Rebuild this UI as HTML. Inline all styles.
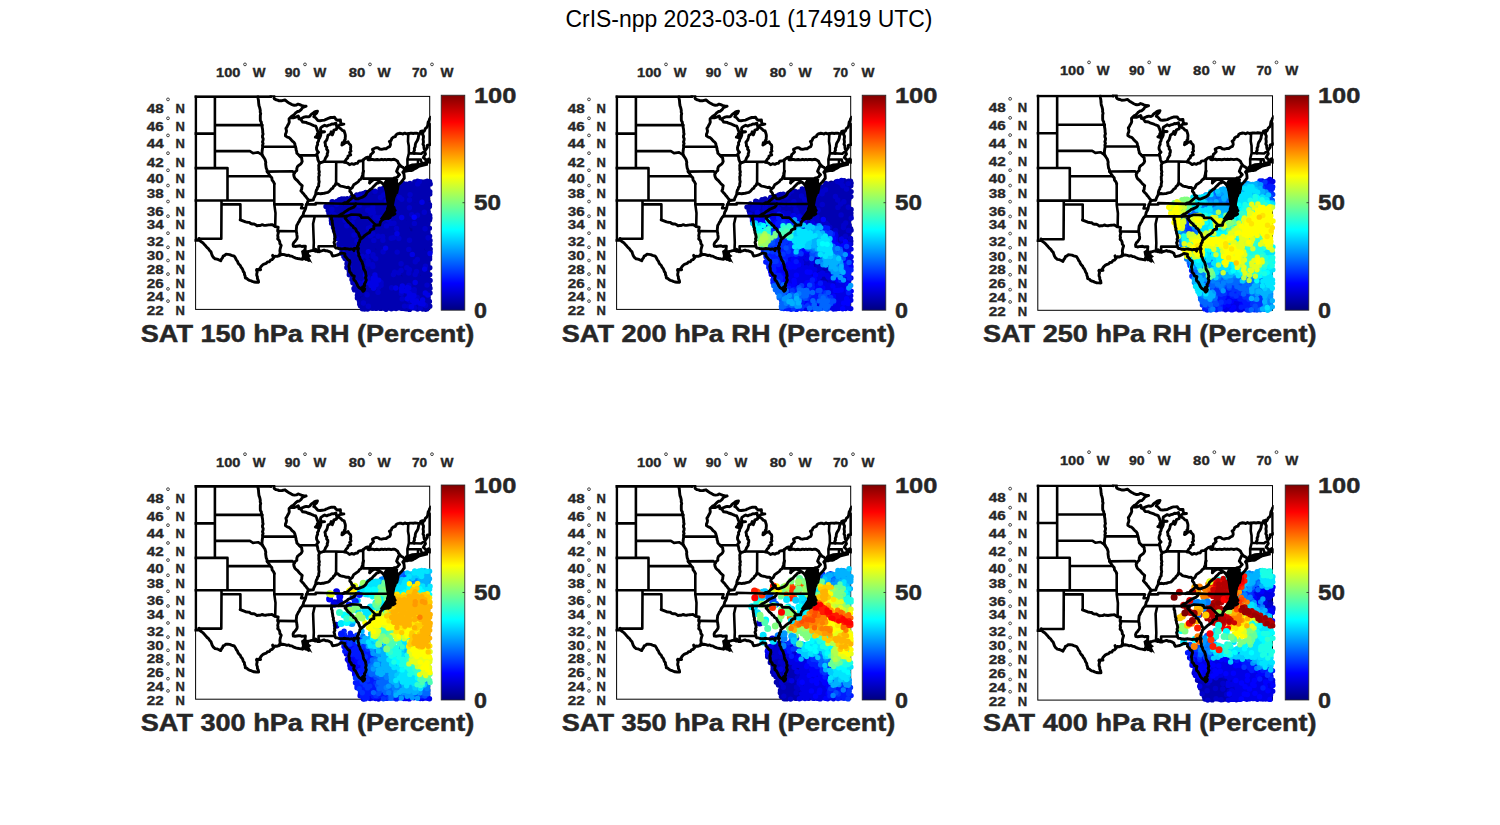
<!DOCTYPE html><html><head><meta charset="utf-8"><style>html,body{margin:0;padding:0;background:#fff;width:1500px;height:825px;overflow:hidden}</style></head><body><svg width="1500" height="825" viewBox="0 0 1500 825" style="position:absolute;left:0;top:0;font-family:'Liberation Sans',sans-serif"><defs><linearGradient id="jet" x1="0" y1="0" x2="0" y2="1"><stop offset="0.000" stop-color="#800000"/><stop offset="0.125" stop-color="#ff0000"/><stop offset="0.375" stop-color="#ffff00"/><stop offset="0.625" stop-color="#00ffff"/><stop offset="0.875" stop-color="#0000ff"/><stop offset="1.000" stop-color="#000080"/></linearGradient><clipPath id="fr"><rect x="195.1" y="95.9" width="237.1" height="214.5"/></clipPath><clipPath id="fm"><rect x="194.4" y="95.2" width="236.5" height="215.4"/></clipPath><g id="map" clip-path="url(#fm)" fill="none" stroke="#000" stroke-width="2.6" stroke-linejoin="round" stroke-linecap="round"><path d="M194.4 96.6L271.0 96.6M317.0 155.4L299.4 155.4M323.6 161.7L336.2 161.7L344.7 161.9M406.5 168.1L407.5 166.4L407.4 159.2M407.4 159.2L418.1 159.5L420.8 159.5M417.8 165.4L418.1 159.5M420.8 159.5L420.8 160.5L422.4 163.9M407.4 159.2L408.9 153.2M408.9 153.2L413.9 153.4L421.3 153.7L422.8 152.4L424.4 152.2M408.9 153.2L408.8 145.9L408.0 141.5L408.3 133.6M363.2 159.8L363.2 178.6M363.2 178.6L393.0 178.6L394.2 177.7L395.4 178.0M393.0 178.6L393.0 189.0L397.6 189.0M369.7 182.9L369.7 178.6M363.2 178.6L363.2 171.1M336.1 183.7L336.2 161.7M392.5 204.0L364.5 204.0L355.9 203.7L343.3 203.7L315.7 203.0L315.7 204.4L306.6 204.4M305.3 208.3L301.1 208.3L302.5 204.4L274.3 204.4M294.5 173.2L292.5 171.3L267.1 171.6M295.7 146.8L262.8 146.8M274.3 204.4L274.3 183.7M262.8 155.5L258.1 152.4L253.0 153.1L249.9 151.1L214.9 151.1M214.9 96.6L214.9 168.1M214.9 125.1L262.1 125.1M214.9 133.6L194.4 133.6M194.4 168.1L227.5 168.1M227.5 168.1L227.5 200.5M227.5 176.3L270.0 176.3M194.4 200.5L274.3 200.5M221.5 200.5L221.5 204.4L221.3 238.8M221.5 204.4L240.4 204.4L240.4 219.5M275.2 226.5L275.5 213.0L274.3 204.4M278.0 231.1L296.2 231.3M302.5 216.1L339.2 216.1M314.8 216.1L313.1 223.7L313.8 242.5L313.5 250.7M334.9 246.2L318.6 246.2L318.6 249.1L319.2 251.3M331.2 216.1L346.9 216.1M346.9 216.1L351.3 214.5L359.8 214.9L359.8 215.7L360.8 215.3L361.4 217.6L368.3 217.6L375.6 224.9M221.3 238.8L198.7 238.8L199.3 240.4L194.4 240.4M195.8 96.1L195.8 240.4M429.7 123.7L429.7 144.6"/><path stroke-width="2.9" d="M270.8 96.6L271.1 94.8L271.0 93.0L273.4 93.4L273.7 94.9L274.0 96.5L274.0 98.0L274.5 99.0L276.0 99.8L277.6 100.1L279.2 100.8L282.0 100.7L285.0 100.0L287.1 101.7L289.0 102.9L291.4 104.3L293.0 105.0L294.5 105.3L296.4 105.1L298.1 104.1L299.8 104.7L301.4 105.4L304.0 106.1L306.1 106.2M306.1 106.2L304.3 106.9L302.5 107.6L301.6 109.0L300.5 110.2L299.3 111.2L297.6 111.5L296.0 112.6L294.7 114.0L293.3 115.4L291.6 116.3L290.2 117.7M290.2 117.7L291.9 117.7L294.0 117.7L296.0 117.1L298.2 115.9L298.9 117.4L298.8 118.8L300.8 119.4M300.5 119.0L302.2 118.0L304.0 117.2L306.2 116.6L308.5 116.9L309.9 116.2L310.8 114.8L312.0 113.7L313.3 113.1L314.6 111.8L316.0 111.4L317.5 111.2L316.6 113.2L314.9 114.6L313.8 116.7L315.4 117.6L316.5 118.9L317.9 120.5L320.1 120.7L322.3 120.4L324.7 120.1L326.1 119.3L327.6 118.7L329.2 118.0L330.9 117.5L332.6 117.5L334.6 117.3L335.8 119.2L337.4 120.2L340.4 120.0L340.6 122.2L341.5 124.1L343.9 124.1L341.9 124.5L339.9 124.7L338.4 126.0L336.5 125.9L335.9 123.2L333.5 124.1L331.9 123.9L330.3 124.8L328.4 125.2L326.7 126.1L324.7 125.2L322.8 126.3L320.8 127.6L320.5 129.5L321.3 132.0L318.6 132.7M300.8 119.4L301.7 120.7L302.7 122.1L304.4 122.2L306.0 122.4L307.5 123.2L309.1 123.7L310.7 124.2L312.1 124.9L313.8 125.6L315.7 126.2L316.8 128.7L317.5 130.8L318.6 132.7M318.4 132.6L317.3 134.0L317.0 135.8L315.4 137.2L318.9 138.1L318.2 134.7L319.9 133.6L320.4 131.6L324.6 131.8L321.5 132.2L320.8 133.7L320.7 135.5L319.9 137.4L318.8 139.3L318.5 141.1L317.5 142.8L317.7 144.5L316.9 146.0L316.5 147.7L316.6 149.4L317.3 150.9L318.5 152.3L316.9 153.9L317.0 155.4M316.9 155.4L317.6 157.5L317.9 159.7L319.0 162.2L321.0 162.6L323.6 161.7M323.6 161.7L324.8 160.2L325.4 158.3L326.3 156.9L327.3 155.4L327.2 153.8L327.8 152.3L327.8 150.5L326.6 149.2L326.8 147.3L325.4 146.0L325.4 144.2L324.9 142.3L326.0 141.0L326.8 139.7L327.3 138.1L328.0 135.1L329.7 134.5L330.6 133.3L331.2 131.8L331.4 133.5L332.3 134.9L332.9 133.4L333.5 131.9L333.8 130.2L336.5 129.3L337.0 126.2L338.3 127.0L339.5 128.0L340.8 128.7L342.3 130.4L344.1 131.0L344.7 132.8L345.2 134.4L345.4 136.1L345.2 137.7L345.2 139.5L344.2 140.7L344.6 143.2L342.3 142.8L341.9 145.1L343.6 144.1L345.0 142.9L348.1 141.8L348.9 143.5L350.5 145.0L350.8 146.5L350.7 148.0L350.5 149.6L351.0 151.1L349.6 152.6L350.7 154.9L348.0 156.0L347.8 157.9L346.4 159.1L345.5 160.5L344.7 161.9M344.5 162.3L346.2 162.5L347.7 163.2L349.5 164.7L351.6 163.7L353.8 164.4L355.4 163.4L357.5 163.2L358.7 161.3L360.3 161.0L361.9 160.9L363.2 159.8M363.3 160.0L364.6 158.7L366.1 157.7L367.8 157.2L370.2 157.1L370.7 154.6L372.0 153.5L373.5 151.9L372.7 150.2L372.5 149.3L374.2 148.5L375.9 147.7L377.9 147.8L379.6 149.0L381.6 149.4L383.8 148.8L386.1 148.7L387.9 147.4L389.7 146.7L390.5 144.8L390.3 142.9L389.4 141.5L391.2 140.4L391.9 138.3L393.4 137.2L395.3 136.6L396.0 134.9L397.6 133.8L399.5 133.6M399.5 133.3L401.3 133.5L403.0 134.1L404.8 133.1L406.6 133.8L408.3 133.6M408.3 133.9L410.0 133.3L411.7 133.3L413.3 133.5L415.0 133.1L416.7 133.3L418.3 133.6L420.1 133.5L420.7 131.5L422.6 130.9M422.6 131.0L424.1 131.3L424.7 130.2L425.5 128.4L427.1 127.1L427.8 125.0L427.9 123.9L428.2 122.1L429.1 120.8L429.6 118.9L430.7 117.3M422.3 130.9L422.9 132.7L422.6 134.5L423.5 136.2L423.4 137.8L423.1 139.4L423.4 141.0L423.4 142.6L423.0 144.2L423.9 145.7L423.9 147.4L424.2 149.0L425.0 150.5M432.7 143.4L431.1 144.1L429.5 144.8L427.4 145.2L427.4 147.5L426.2 149.1L425.2 150.5L424.8 152.0L425.5 153.9L424.0 156.3L423.3 157.6L425.7 159.5L426.0 161.5L427.7 162.0L431.4 162.4L430.3 160.2L428.8 158.9L427.9 159.6M425.7 163.2L423.7 163.2L422.5 164.1L421.7 163.7L420.0 165.0L417.8 165.6L415.7 165.1L413.7 165.6L412.1 166.0L410.7 166.7L408.6 167.5L406.5 168.1L405.4 169.3L404.2 170.1M403.9 171.3L405.8 171.1L407.6 170.9L409.3 170.4L411.2 170.5L412.7 170.1L414.0 169.1L415.4 168.5L416.6 167.7L417.7 167.0L416.1 167.8L414.3 167.7L412.5 168.5L410.6 168.6L408.4 168.2L407.4 169.7L405.1 169.9L404.2 171.4M414.3 153.4L413.7 151.8L414.5 150.2L414.3 148.5L415.2 146.7L415.3 144.6L415.9 142.7L417.0 141.1L417.8 139.5L418.3 138.0L418.5 136.3L419.0 134.8L420.0 133.5M367.6 157.4L368.0 159.7L369.5 159.9L371.0 159.5L372.6 159.4L374.1 159.9L375.7 159.7L377.2 159.5L378.7 159.9L380.3 159.7L381.8 159.3L383.4 159.8L384.9 159.4L386.4 159.8L388.0 159.4L389.5 159.5L391.1 159.8L392.6 159.5L394.1 159.3L395.5 159.9L397.6 161.3L398.5 163.3L399.8 165.1L401.1 166.4L402.7 167.2L403.9 168.2L404.9 170.1M399.6 164.9L398.5 166.8L397.7 168.6L396.6 171.4L398.0 173.2L399.5 174.7L398.5 175.8L397.5 177.0L395.6 178.1L394.5 179.6M404.2 170.5L402.8 172.1L403.9 173.8L404.2 175.9L404.3 178.2L403.2 179.5L402.3 180.8L401.3 182.0L400.3 183.0L397.9 185.3L396.8 183.1L395.9 181.9L395.0 180.8L394.5 179.6M394.3 179.7L395.3 182.1L396.3 183.4L396.6 184.9L398.0 186.1L397.6 189.0M397.5 188.9L397.2 190.7L396.8 192.6L395.4 193.6L395.1 195.2L394.1 196.5L392.6 197.8L392.2 199.7L392.1 198.1L392.2 196.7L393.2 194.9L393.2 193.2L392.2 192.1L391.5 190.7L390.4 188.9L390.1 187.1L390.7 185.4L391.0 183.7L391.1 182.0L391.9 180.3L391.0 180.9M391.0 180.8L390.0 181.9L389.3 183.0L388.8 184.6L387.7 186.3L389.0 188.1L389.2 190.2L390.0 193.0L389.3 194.5L389.1 196.2L389.8 198.3L389.8 200.3L391.7 201.1L392.3 202.5L392.5 204.0M389.9 192.7L388.3 192.3L387.1 191.3L386.1 190.1L385.5 188.2L384.7 186.4L383.9 185.1L382.1 183.0L380.2 181.8L378.8 180.6L377.2 179.9L375.6 179.6L374.0 179.6L372.0 180.8L370.8 181.8L369.7 182.9M380.4 181.8L378.6 182.8L376.6 183.4L374.5 185.6L373.0 187.0L371.8 188.6L370.3 189.3L369.3 190.4L368.0 191.4L366.9 192.4L366.0 194.5L364.5 196.0L362.7 197.1L360.1 198.0L358.0 198.9L356.0 198.8L354.6 197.8L354.0 196.2M354.2 196.0L351.9 195.0L351.3 192.9L349.8 191.2L350.1 189.4M363.5 171.1L362.9 172.9L362.6 174.8L362.0 176.8L361.1 178.9L359.4 179.9L358.4 181.6L357.0 182.6L355.7 183.5L353.7 184.8L353.0 186.2L352.4 187.5L350.3 189.2L348.5 187.3L346.4 187.5L344.4 186.8L342.5 186.4L340.7 186.1L339.2 185.3L338.1 184.1L335.8 183.5L335.0 185.4L333.4 186.7L332.8 188.2L331.4 188.9L330.4 190.1L329.3 191.4L328.0 192.3L325.5 192.8L323.9 193.4L322.3 193.5L320.5 193.8L318.5 193.4L315.8 194.2L314.5 196.8L313.8 198.2L313.3 200.1L311.0 200.2L308.8 200.5M319.1 162.2L319.4 163.8L318.7 165.4L318.9 167.1L318.8 168.7L318.9 170.3L319.4 171.9L318.9 173.5L319.3 175.2L318.7 176.8L318.8 178.4L318.8 180.0L319.2 181.7L318.7 183.9L318.7 186.2L317.5 187.3L317.3 188.9L316.4 190.2L315.9 192.1L315.7 194.2M354.1 196.3L352.4 197.6L350.8 199.1L349.2 200.4L347.6 201.9L346.3 202.7L344.6 202.7L343.3 203.7M308.8 200.5L307.7 201.6L307.3 203.1L306.6 204.4M306.4 204.4L306.0 206.4L305.6 208.5L304.8 210.4L303.7 212.2L303.3 214.2L302.6 216.2L301.4 217.2L300.5 218.5L299.8 219.8L299.3 221.3L298.3 222.5L297.8 223.8L296.7 225.6L296.5 227.5L296.3 229.4L296.2 231.3L296.7 233.1L296.9 235.0L297.2 236.9L297.0 238.6L296.0 240.0L295.0 241.4L293.8 242.5L293.1 244.3L293.3 246.2M309.0 200.3L307.7 199.1L306.6 197.7L305.7 196.4L304.6 195.3L303.8 194.0L302.4 192.6L300.9 190.9L301.7 189.2L301.8 187.5L302.2 185.6L300.7 184.4L299.3 182.9L298.3 181.7L297.3 180.5L296.0 179.5L294.9 178.4L294.1 176.6L293.7 174.6L294.3 173.1L295.2 171.7L296.8 170.6L296.8 168.4L297.5 166.5L299.0 165.2L300.6 164.1L301.6 162.8L302.2 161.4L301.8 159.7L301.7 157.8L300.3 156.8L299.2 155.6L298.0 154.3L296.8 153.2L296.7 151.6L296.1 150.0L296.0 148.4L295.4 146.9L295.0 145.4L294.8 143.8L294.0 142.4L292.7 141.4L291.6 140.3L290.7 139.1L289.2 137.7L287.3 137.1L285.4 135.8L285.5 134.1L286.2 132.5L286.5 130.9L285.9 128.3L287.0 126.8L287.8 125.1L288.7 123.7L289.3 122.0L289.1 120.3L289.1 118.8L290.2 117.7M274.3 183.7L273.5 181.8L272.1 180.1L271.8 177.7L270.3 176.2L269.2 174.6L268.2 173.0L267.1 171.6L267.0 169.8L266.2 168.1L265.9 166.0L265.6 163.9L265.8 162.3L265.4 160.8L264.9 159.2L263.7 157.4L262.4 155.6L262.0 153.4L262.1 151.2L262.4 149.0L262.8 146.8L262.5 145.2L263.1 143.6L262.5 142.0L263.0 140.4L263.2 138.8L262.5 137.2L262.5 135.7L263.1 134.1L262.7 132.5L262.7 130.9L262.5 129.0L262.1 127.1L262.2 125.1L261.4 123.7L261.3 122.1L260.4 120.7L260.3 119.1L260.3 117.3L260.3 115.4L260.7 113.6L260.2 112.1L260.3 110.5L260.0 108.9L259.6 107.3L259.0 105.8L258.8 104.3L258.6 102.3L258.5 100.5L258.1 98.5L257.9 96.6M240.2 219.8L242.9 220.9L245.5 221.9L247.4 222.2L249.3 222.4L250.7 223.5L252.3 224.0L254.1 223.9L255.6 224.8L257.0 225.7L258.6 225.5L260.3 225.5L261.9 224.7L263.7 225.2L265.6 225.4L267.2 225.1L268.8 224.9L270.3 224.8L272.0 224.6L273.6 225.6L275.2 226.6L278.0 227.1M278.2 227.1L277.8 229.1L277.7 231.1L278.4 232.7L278.0 234.2L277.7 235.7L278.1 237.2L277.7 238.9L279.0 240.1L279.7 241.6L279.9 243.7L281.2 245.4L280.6 247.3L280.1 249.1L279.9 250.9L280.2 252.8L279.7 254.2L279.2 255.6M293.3 245.9L295.0 246.5L296.7 246.2L298.4 246.0L300.1 245.8L301.8 246.5L303.4 246.3L305.4 246.2L305.1 249.1L305.3 250.7L306.3 252.0M279.2 255.8L280.9 254.7L282.7 254.4L284.9 254.8L287.0 255.5L288.7 255.1L290.1 256.0L291.8 256.1L293.2 257.0L295.8 258.1L297.7 258.5L299.6 258.8L302.4 259.4L304.1 258.2L306.4 259.2L308.9 260.6L308.1 259.1L307.2 257.8L305.6 255.5L306.6 253.6L304.7 253.2L306.3 252.0M273.4 258.1L272.6 255.3M256.8 269.5L258.7 269.8L260.6 269.7M306.1 251.6L308.0 251.5L309.7 251.1L311.6 250.6L313.6 250.4L315.4 251.3L315.5 249.2L317.0 250.3L317.6 251.7L319.2 251.3M331.3 216.1L331.6 217.6L331.4 219.2L332.2 220.6L332.2 222.1L332.5 223.7L332.7 225.2L332.8 226.7L333.5 228.2L333.3 229.8L333.9 231.2L334.0 232.8L334.6 234.3L334.9 235.7L335.2 237.3L334.5 238.8L334.9 240.6L334.0 242.4L334.6 244.2L334.9 246.2M334.7 246.2L335.8 248.1L337.4 248.1L338.9 248.7L340.4 248.8L341.9 249.0L343.4 248.7L345.0 248.5L346.5 248.8L348.0 248.9L349.5 249.4L351.1 249.0L352.8 249.1L354.0 250.7L354.1 248.4L357.0 248.2M319.3 251.8L320.8 251.0L322.3 250.6L324.0 250.1L325.7 250.9L327.2 250.8L329.3 251.6L331.3 252.7L331.8 254.3L332.7 256.1L335.3 255.6L337.2 255.2L338.8 254.4L341.3 253.0L344.9 253.6L344.8 255.9L346.0 257.1L347.0 258.4L347.9 259.7L349.6 260.6L349.9 262.4L349.4 264.2L348.8 266.3L349.3 268.4L349.3 270.1L349.6 271.7L351.1 273.2L351.8 275.1L354.3 276.0L353.7 278.6L354.1 280.1L355.4 281.1L356.2 282.6L357.0 284.1L357.9 286.1L359.3 287.8L361.7 289.4L363.1 291.3L364.2 290.4L364.7 288.8L362.6 286.9L364.7 285.7L364.4 284.0L365.6 282.1L366.3 279.9L365.5 277.8L366.2 275.7L365.8 273.9L365.5 272.0L364.6 270.4L363.6 268.9L363.3 267.1L363.1 265.3L362.5 263.7L362.1 261.9L361.1 260.6L360.2 259.0L359.8 257.2L358.7 255.7L358.8 253.7L358.1 252.0L358.0 250.0L357.3 248.2M358.5 248.5L357.4 246.3L358.5 244.8L358.5 243.1L359.6 241.9L359.8 239.9L361.3 238.6L363.5 236.8L364.9 235.4L366.4 234.3L368.1 233.3L369.7 232.2L370.4 230.3L372.0 229.2L373.9 228.8L373.8 225.9L375.6 225.2L377.5 225.0L379.8 225.0L380.3 222.2L381.3 220.8L382.6 219.6L385.3 218.2L386.9 218.3L388.2 218.1L390.1 217.6L390.8 215.7L393.4 214.8L394.9 213.8L393.4 212.2L395.2 210.5L394.3 209.1L394.0 207.4L392.6 205.9L392.5 204.0M388.6 218.4L388.1 216.9L388.4 215.2L388.9 212.6L391.8 212.6L390.3 211.8L388.2 211.1L390.0 210.2L391.7 208.6L389.5 208.7L387.4 208.8L388.9 207.5L390.4 206.4L392.3 206.0M361.4 238.2L359.8 236.9L359.1 235.1L358.4 233.0L356.7 231.5L356.1 229.9L355.2 228.5L353.6 227.7L352.8 226.0L351.2 225.1L350.2 223.6L348.9 222.6L347.7 221.4L346.7 220.1L345.1 218.2L346.9 216.1M338.9 215.8L341.1 214.0L343.0 213.3L344.6 212.1L347.1 210.6L348.5 209.3L350.2 208.7L352.0 207.9L353.7 207.1L354.8 206.0L355.4 204.8L355.9 203.7M199.0 238.5L199.7 239.9L200.5 241.2L202.0 242.2L203.4 243.4L204.6 244.8L205.8 246.1L207.1 247.7L208.6 248.9L209.6 250.5L211.0 251.9L211.6 253.8L212.2 255.5L213.4 257.4L215.1 258.8L216.9 259.1L218.5 259.7L220.7 260.8L221.4 259.2L222.5 257.8L223.2 256.1L224.7 255.4L225.9 254.3L227.8 254.4L229.7 254.6L231.5 255.3L234.3 256.2L235.4 257.9L236.2 259.7L237.5 261.3L238.0 262.9L239.0 264.3L240.3 265.5L240.9 267.1L242.1 268.4L242.8 269.9L243.3 271.5L244.4 272.9L244.5 274.6L245.2 276.2L245.3 278.0L246.9 278.4L247.9 279.5L249.2 280.3L250.8 280.7L252.3 281.4L253.9 282.0L256.1 282.2L258.4 282.3M258.6 282.2L258.3 280.3L257.4 278.5L257.4 276.9L256.7 275.2L256.8 273.5L257.2 272.0L256.5 270.1L258.9 269.5L260.0 268.4L260.8 266.9L261.8 265.7L263.1 264.5L264.7 263.8L266.3 263.3L267.5 261.9L269.4 261.7L270.5 260.1L272.0 259.6L273.1 258.5L274.9 256.2L277.2 256.4L279.2 255.6"/><polygon fill="#000" stroke="none" points="405.0,166.0 412.0,163.5 420.0,163.0 428.0,161.5 428.0,165.5 420.0,167.5 410.0,171.0 404.0,173.0"/><polygon fill="#000" stroke="none" points="301.0,251.0 304.0,249.0 306.0,251.5 309.0,250.0 309.0,254.0 311.5,256.0 309.5,257.5 312.5,263.5 307.5,259.5 305.0,261.0 303.5,258.0 300.5,260.0 302.0,256.0"/><polygon fill="#000" stroke="none" points="383.3,183.0 386.0,178.5 398.3,179.0 396.7,190.0 395.0,200.0 394.0,205.0 394.0,210.0 391.8,215.0 389.4,219.0 385.0,220.0 379.7,219.0 382.6,215.0 386.0,210.0 387.0,205.0 386.0,200.0 384.6,190.0"/></g></defs><rect width="1500" height="825" fill="#fff"/><text x="565.5" y="27.0" font-size="23" font-weight="normal" fill="#000" textLength="367.0" lengthAdjust="spacingAndGlyphs">CrIS-npp 2023-03-01 (174919 UTC)</text><g transform="translate(0,0)"><g><rect x="195.6" y="96.4" width="234.1" height="213.0" fill="none" stroke="#000" stroke-width="1"/><g stroke-width="5.4" stroke-linecap="round" fill="none"><path stroke="#000080" d="M424.5 193.6h0M414.7 201.6h0M370.8 214.5h0M422.0 214.2h0M368.2 237.8h0M417.5 239.0h0M378.1 248.6h0M395.7 256.0h0M370.4 262.3h0M417.0 295.8h0"/><path stroke="#000099" d="M394.4 188.2h0M403.9 189.7h0M407.5 189.6h0M394.4 190.9h0M356.7 194.9h0M367.6 193.8h0M373.3 194.3h0M393.5 197.4h0M423.0 196.6h0M373.1 200.1h0M381.3 198.8h0M406.6 199.6h0M342.3 201.6h0M382.8 202.6h0M399.4 202.2h0M401.8 202.0h0M428.1 201.6h0M358.1 205.2h0M395.6 206.8h0M346.6 210.4h0M351.8 212.6h0M362.4 211.8h0M375.3 212.7h0M393.3 211.9h0M404.5 213.2h0M368.4 214.4h0M347.7 217.4h0M411.6 217.8h0M337.2 220.3h0M396.6 219.6h0M406.1 220.4h0M411.4 220.8h0M416.4 219.9h0M429.5 220.1h0M364.9 223.2h0M380.1 222.4h0M349.2 225.7h0M397.0 225.7h0M409.4 225.5h0M342.0 228.0h0M358.2 228.0h0M388.1 228.3h0M408.6 228.7h0M412.4 228.6h0M347.1 230.1h0M360.8 231.3h0M409.6 230.8h0M411.6 230.9h0M358.1 232.8h0M367.1 234.0h0M388.8 232.7h0M353.0 236.1h0M386.0 235.9h0M342.0 240.7h0M362.6 240.2h0M388.6 240.6h0M383.3 244.1h0M363.1 246.3h0M381.6 246.2h0M404.1 247.0h0M422.6 245.5h0M375.7 249.4h0M420.3 248.9h0M424.5 249.6h0M388.0 251.3h0M417.1 251.3h0M425.2 251.9h0M427.2 251.0h0M383.0 257.0h0M419.9 257.0h0M378.0 258.7h0M389.0 258.9h0M421.9 259.9h0M394.1 261.9h0M369.8 265.1h0M385.8 264.3h0M410.0 264.2h0M419.8 264.0h0M376.3 266.9h0M404.1 270.2h0M372.5 274.5h0M378.8 274.3h0M401.1 274.4h0M406.9 274.1h0M410.2 274.1h0M419.8 275.1h0M425.0 274.5h0M401.4 277.1h0M361.9 280.3h0M389.1 280.7h0M419.8 279.3h0M426.8 279.4h0M393.7 282.8h0M367.4 285.1h0M424.2 285.0h0M429.4 285.5h0M380.5 288.1h0M393.2 290.0h0M365.2 293.5h0M373.7 293.0h0M411.6 292.5h0M359.6 295.9h0M362.9 295.3h0M360.8 298.3h0M419.2 298.3h0M393.8 302.9h0M383.0 305.5h0M428.0 306.5h0M371.1 308.1h0M380.7 308.4h0M388.5 307.9h0M393.8 308.0h0"/><path stroke="#0000b2" d="M414.8 181.9h0M417.5 181.1h0M421.7 182.0h0M424.6 181.9h0M427.2 181.2h0M429.6 181.7h0M401.8 184.4h0M403.6 183.6h0M406.4 184.1h0M410.0 183.5h0M412.0 184.1h0M415.1 183.5h0M420.2 184.3h0M422.5 184.2h0M424.4 183.8h0M427.2 183.6h0M430.2 184.0h0M390.9 186.9h0M393.0 186.2h0M396.4 186.8h0M399.2 186.2h0M402.0 186.7h0M404.2 186.7h0M406.8 186.3h0M409.8 185.8h0M411.7 186.5h0M413.9 186.2h0M416.4 186.1h0M420.2 186.6h0M422.0 186.8h0M425.5 186.7h0M426.8 186.0h0M380.0 189.1h0M383.6 188.3h0M386.2 189.0h0M388.9 189.0h0M391.9 188.4h0M396.9 188.3h0M398.3 188.7h0M401.9 188.2h0M409.5 189.3h0M412.3 189.4h0M414.3 188.2h0M417.4 188.4h0M420.5 188.9h0M422.5 189.6h0M425.3 188.8h0M427.8 188.8h0M365.7 192.4h0M370.8 192.1h0M373.3 191.4h0M378.5 192.2h0M380.8 191.4h0M384.1 191.8h0M385.6 191.4h0M388.2 191.8h0M396.5 191.1h0M398.3 191.5h0M401.1 191.1h0M403.9 191.5h0M406.4 191.5h0M409.7 191.3h0M411.3 192.3h0M414.1 192.2h0M417.4 191.0h0M419.8 191.6h0M422.3 191.3h0M425.3 191.4h0M427.3 191.5h0M429.8 191.7h0M360.3 194.3h0M362.9 193.8h0M365.4 194.9h0M369.9 193.8h0M375.9 193.7h0M378.9 194.9h0M381.2 193.8h0M386.1 194.9h0M388.3 194.4h0M391.6 194.5h0M394.1 194.6h0M397.1 193.5h0M399.8 194.6h0M400.9 194.3h0M403.5 194.9h0M406.5 193.5h0M411.9 193.8h0M414.8 194.9h0M417.1 194.9h0M419.0 194.7h0M422.8 193.5h0M427.6 194.6h0M429.8 194.1h0M351.6 197.4h0M354.6 197.0h0M363.0 197.1h0M365.2 196.8h0M368.4 197.4h0M369.8 196.0h0M372.4 197.1h0M376.3 197.3h0M378.6 196.3h0M383.8 197.5h0M385.7 196.9h0M389.0 196.6h0M391.4 197.2h0M396.6 196.9h0M401.3 197.4h0M403.9 197.2h0M406.0 196.5h0M409.0 196.9h0M412.4 197.4h0M414.9 196.5h0M417.3 196.6h0M419.6 197.2h0M424.4 196.1h0M426.9 196.4h0M339.5 199.8h0M341.7 198.9h0M344.1 199.0h0M347.2 198.7h0M349.4 199.1h0M354.3 198.9h0M357.4 199.5h0M359.2 198.7h0M362.6 199.8h0M364.9 199.6h0M367.9 199.2h0M370.7 199.7h0M374.9 200.1h0M378.3 199.9h0M383.3 199.4h0M385.3 198.9h0M388.8 200.2h0M390.6 200.1h0M394.3 199.1h0M396.8 199.2h0M399.2 199.4h0M404.7 199.7h0M412.2 199.4h0M415.2 199.9h0M417.9 198.7h0M419.0 200.1h0M422.0 199.1h0M424.7 198.9h0M427.5 198.7h0M332.1 201.6h0M333.8 202.2h0M337.2 201.3h0M339.0 201.8h0M344.5 201.6h0M347.1 202.1h0M350.4 202.4h0M351.4 201.8h0M354.7 202.5h0M357.5 202.3h0M360.1 201.6h0M362.1 201.4h0M365.7 201.4h0M368.2 202.6h0M370.6 202.7h0M372.9 201.8h0M376.0 201.9h0M377.8 201.9h0M381.5 202.0h0M388.9 202.3h0M391.3 201.2h0M393.8 202.7h0M396.0 201.6h0M404.5 202.2h0M407.5 202.6h0M410.1 202.7h0M411.6 202.7h0M417.9 201.8h0M420.0 202.2h0M425.7 201.4h0M329.6 204.7h0M331.8 205.3h0M333.3 204.6h0M339.8 204.3h0M341.5 204.1h0M344.6 203.9h0M347.6 204.8h0M349.5 204.8h0M352.0 205.0h0M354.8 205.0h0M363.0 205.0h0M365.2 204.9h0M368.0 204.7h0M370.8 205.0h0M373.1 204.3h0M375.8 205.3h0M378.4 204.3h0M380.7 204.8h0M383.6 204.2h0M386.7 204.9h0M388.4 204.3h0M391.0 204.6h0M394.0 205.2h0M396.3 204.1h0M398.2 203.9h0M401.6 204.5h0M404.5 204.0h0M406.1 204.6h0M409.2 204.1h0M412.4 204.1h0M414.3 205.3h0M416.5 205.1h0M420.1 205.3h0M422.9 204.2h0M424.8 205.2h0M428.4 204.4h0M429.5 204.6h0M326.0 206.5h0M328.6 207.9h0M331.3 207.8h0M333.9 208.0h0M336.2 207.6h0M339.8 207.9h0M341.1 207.4h0M343.6 207.8h0M347.7 207.4h0M349.6 207.8h0M352.6 207.4h0M355.5 206.9h0M356.6 207.5h0M360.3 207.6h0M362.6 207.9h0M364.8 207.9h0M367.1 206.8h0M370.7 207.7h0M375.8 207.9h0M379.0 206.8h0M380.7 207.9h0M383.4 207.5h0M385.7 207.1h0M388.8 206.8h0M390.9 206.5h0M394.6 207.9h0M398.7 206.7h0M401.8 206.6h0M404.6 206.5h0M406.7 207.5h0M411.2 206.4h0M414.4 207.1h0M418.0 206.5h0M420.2 207.6h0M422.1 207.5h0M424.2 207.8h0M427.0 207.5h0M429.4 206.4h0M328.2 210.5h0M334.4 210.5h0M335.9 210.0h0M339.0 209.6h0M341.6 209.9h0M343.6 210.3h0M349.6 209.7h0M352.5 210.2h0M354.9 209.3h0M356.8 210.6h0M360.3 209.7h0M363.3 209.5h0M365.5 210.2h0M375.1 210.0h0M377.9 209.8h0M380.5 209.0h0M383.2 210.0h0M385.8 209.4h0M392.0 210.6h0M394.2 209.2h0M396.7 209.8h0M398.3 210.2h0M401.8 210.5h0M404.1 210.0h0M407.1 209.7h0M409.9 209.2h0M412.8 209.7h0M415.0 209.5h0M417.4 210.5h0M419.3 209.8h0M422.1 210.5h0M424.6 209.4h0M427.8 209.8h0M329.0 213.2h0M330.9 211.9h0M334.6 212.6h0M336.0 213.0h0M339.1 213.0h0M341.3 213.1h0M343.9 212.4h0M349.7 212.2h0M354.4 213.2h0M357.6 213.0h0M359.7 212.8h0M365.4 212.6h0M367.1 212.8h0M378.0 213.0h0M380.5 212.8h0M383.3 211.8h0M385.9 213.1h0M388.9 213.1h0M391.7 212.5h0M396.2 211.7h0M398.6 211.7h0M400.9 212.0h0M406.8 212.6h0M409.1 212.7h0M412.0 212.1h0M415.1 211.6h0M416.9 211.8h0M420.2 211.7h0M421.7 212.7h0M428.2 212.3h0M329.5 214.5h0M337.3 215.5h0M338.5 214.9h0M341.6 215.0h0M343.6 215.7h0M347.8 214.9h0M350.3 214.3h0M352.9 214.8h0M354.5 214.8h0M357.6 215.2h0M359.3 215.6h0M362.9 215.1h0M366.0 215.5h0M372.7 214.5h0M374.9 214.4h0M378.3 215.7h0M380.6 215.1h0M383.5 214.6h0M389.1 215.6h0M391.0 214.4h0M393.6 214.6h0M395.8 215.4h0M398.4 214.5h0M401.1 214.4h0M404.4 214.4h0M406.9 214.7h0M409.7 214.5h0M414.4 215.2h0M420.2 214.5h0M424.5 214.2h0M428.3 214.2h0M429.7 215.4h0M331.2 217.7h0M334.6 216.9h0M336.0 217.7h0M339.6 218.0h0M341.1 217.4h0M344.3 218.0h0M349.4 218.2h0M351.4 217.1h0M356.7 217.1h0M360.2 217.3h0M362.4 218.0h0M365.0 218.2h0M368.3 217.8h0M369.8 217.1h0M372.4 217.0h0M383.6 217.1h0M385.8 216.9h0M388.7 218.0h0M391.0 217.3h0M393.1 217.5h0M396.6 217.7h0M399.0 217.0h0M403.4 218.2h0M407.4 218.2h0M409.8 217.1h0M417.3 217.8h0M419.2 216.9h0M422.7 218.4h0M425.8 218.3h0M428.0 217.1h0M429.9 217.9h0M331.4 220.5h0M333.3 220.4h0M339.1 220.0h0M342.4 220.7h0M347.3 220.4h0M349.9 220.5h0M351.6 220.7h0M354.1 220.0h0M357.3 220.6h0M360.5 219.4h0M363.1 220.6h0M365.7 220.9h0M367.0 220.2h0M370.0 219.9h0M373.0 220.2h0M375.8 220.4h0M378.4 219.9h0M381.2 220.5h0M383.9 219.9h0M386.0 219.9h0M390.6 220.0h0M394.3 220.2h0M399.0 219.9h0M401.3 219.8h0M403.5 219.7h0M409.9 220.8h0M414.1 220.8h0M420.4 219.8h0M422.3 220.9h0M424.3 220.5h0M427.1 220.4h0M331.6 223.2h0M333.3 223.6h0M337.3 222.8h0M338.7 222.9h0M341.3 222.6h0M344.8 222.3h0M346.8 222.4h0M348.8 223.5h0M354.0 223.3h0M356.6 223.1h0M360.2 222.0h0M363.1 222.3h0M368.2 223.0h0M369.8 223.4h0M376.3 223.5h0M378.9 223.5h0M383.2 223.4h0M386.1 223.1h0M388.6 223.2h0M396.1 222.0h0M399.8 222.1h0M401.1 222.5h0M403.7 222.3h0M406.6 223.4h0M410.0 222.5h0M412.4 222.3h0M417.7 223.2h0M420.6 222.3h0M422.2 222.2h0M425.7 222.4h0M427.9 223.1h0M333.5 225.9h0M337.4 225.8h0M339.7 226.0h0M341.4 224.7h0M344.8 225.6h0M352.7 225.5h0M355.0 225.9h0M357.4 224.9h0M359.2 224.6h0M361.8 225.2h0M364.7 226.2h0M367.5 225.2h0M369.9 226.1h0M373.1 225.7h0M374.8 225.5h0M379.0 225.4h0M381.3 226.0h0M383.5 225.8h0M388.4 225.0h0M390.7 225.5h0M394.1 225.3h0M398.5 225.5h0M402.1 225.7h0M404.2 226.0h0M406.9 225.7h0M412.2 225.8h0M414.5 225.2h0M417.8 224.8h0M420.3 224.9h0M422.0 225.2h0M424.3 225.2h0M427.1 225.1h0M333.5 227.4h0M336.9 228.4h0M338.7 228.3h0M344.7 228.8h0M346.4 227.7h0M349.9 227.6h0M352.1 228.1h0M355.2 228.5h0M359.3 228.0h0M363.0 228.3h0M364.5 228.3h0M373.6 228.0h0M375.2 227.8h0M378.7 227.6h0M381.1 227.6h0M384.2 227.7h0M385.4 227.5h0M390.6 227.4h0M394.0 227.6h0M398.4 228.7h0M402.0 227.5h0M404.5 227.8h0M406.8 227.6h0M415.2 227.4h0M416.9 227.3h0M420.3 228.2h0M422.3 227.3h0M427.2 227.7h0M429.4 228.2h0M334.5 230.4h0M337.1 230.4h0M338.6 231.2h0M342.1 230.7h0M344.7 230.9h0M349.7 229.9h0M352.2 230.0h0M354.1 230.3h0M357.0 231.2h0M362.8 230.3h0M364.5 229.9h0M367.9 231.0h0M370.6 230.7h0M373.6 230.6h0M376.2 229.8h0M378.2 230.1h0M380.6 230.4h0M382.6 230.5h0M386.4 230.3h0M389.4 231.2h0M391.4 230.7h0M393.9 230.7h0M396.3 231.4h0M398.6 230.0h0M401.4 229.9h0M403.9 230.4h0M407.6 230.4h0M415.0 230.0h0M417.6 230.9h0M419.2 230.9h0M423.0 230.0h0M425.6 230.8h0M427.9 230.2h0M335.8 233.7h0M339.2 233.3h0M341.7 233.6h0M343.7 233.7h0M347.0 233.6h0M350.1 233.9h0M351.5 232.8h0M354.1 233.2h0M359.9 233.4h0M362.5 233.3h0M365.5 233.9h0M370.1 233.2h0M376.0 233.3h0M378.2 232.8h0M381.1 233.7h0M382.9 233.2h0M386.5 232.8h0M391.0 233.5h0M393.2 233.9h0M399.5 232.8h0M401.5 233.7h0M404.5 232.8h0M407.5 233.3h0M408.8 233.1h0M412.6 233.7h0M414.8 233.8h0M417.0 233.7h0M420.0 233.4h0M422.7 233.6h0M424.9 232.6h0M427.9 232.8h0M336.0 236.2h0M339.3 236.2h0M342.2 235.8h0M344.8 235.6h0M347.5 236.0h0M350.2 235.0h0M356.8 235.4h0M359.4 235.7h0M362.4 235.5h0M365.9 235.8h0M367.0 236.5h0M372.8 235.5h0M376.0 236.5h0M380.5 235.8h0M388.8 236.5h0M391.2 236.5h0M393.1 235.7h0M397.1 236.5h0M399.1 235.9h0M402.0 236.5h0M404.9 236.1h0M407.2 236.3h0M409.7 235.2h0M412.2 236.2h0M414.0 235.5h0M417.1 236.5h0M419.8 236.6h0M422.1 236.1h0M425.3 236.4h0M427.2 236.4h0M429.6 236.1h0M340.0 238.8h0M342.6 237.6h0M344.9 238.9h0M346.4 238.0h0M349.2 238.5h0M351.8 237.8h0M354.7 238.2h0M357.1 238.9h0M360.1 237.8h0M362.1 238.2h0M365.2 238.6h0M371.0 238.5h0M372.5 238.7h0M375.2 238.9h0M377.5 238.3h0M381.1 237.7h0M383.5 237.7h0M386.5 239.1h0M388.2 237.9h0M395.9 237.9h0M401.7 238.9h0M404.9 238.0h0M407.6 238.5h0M409.6 238.5h0M411.3 239.0h0M415.2 238.8h0M420.3 238.8h0M422.3 237.9h0M424.8 238.8h0M340.0 240.6h0M345.0 241.1h0M346.9 240.5h0M349.3 241.1h0M351.8 241.7h0M354.1 241.0h0M360.4 241.3h0M365.8 240.9h0M367.5 240.5h0M370.0 241.4h0M374.9 241.6h0M378.4 240.8h0M380.8 240.7h0M386.6 241.0h0M391.8 241.3h0M393.3 241.0h0M396.3 240.6h0M398.8 241.0h0M401.6 240.7h0M404.4 241.0h0M406.5 240.4h0M411.7 241.3h0M415.0 241.3h0M417.8 240.2h0M420.5 241.3h0M422.1 241.5h0M424.7 241.8h0M427.3 240.6h0M430.0 240.4h0M338.8 244.0h0M342.5 242.9h0M344.3 244.3h0M346.2 243.5h0M350.0 243.1h0M352.0 244.0h0M355.1 243.5h0M358.0 243.9h0M360.7 243.0h0M362.6 244.3h0M365.5 244.1h0M367.7 243.2h0M370.4 243.0h0M372.8 243.1h0M375.8 243.1h0M377.8 243.6h0M380.8 243.1h0M386.1 243.3h0M388.6 243.3h0M390.7 243.0h0M393.8 243.4h0M396.2 243.5h0M399.6 244.0h0M401.8 244.2h0M403.6 243.6h0M407.3 244.1h0M409.8 244.0h0M412.0 243.1h0M415.1 243.0h0M417.0 242.9h0M419.2 242.9h0M422.8 243.7h0M424.4 244.3h0M427.3 243.0h0M429.9 244.2h0M339.6 246.0h0M341.2 246.1h0M344.1 247.0h0M346.6 245.8h0M349.4 246.6h0M351.5 246.6h0M355.0 246.9h0M358.1 246.5h0M360.1 247.0h0M365.4 246.4h0M367.1 245.7h0M369.8 245.5h0M373.7 246.2h0M375.9 245.8h0M377.6 246.6h0M384.1 246.6h0M386.3 246.5h0M388.1 246.1h0M391.6 247.0h0M394.5 246.6h0M396.8 246.3h0M399.1 245.6h0M401.4 246.2h0M406.6 246.3h0M408.9 245.9h0M411.4 245.5h0M414.7 246.0h0M417.4 246.3h0M420.0 246.7h0M424.4 245.7h0M427.8 245.4h0M344.9 248.9h0M346.2 248.5h0M348.8 249.5h0M355.5 248.3h0M358.0 248.6h0M360.6 248.9h0M362.9 249.5h0M364.9 249.1h0M368.0 249.0h0M370.3 249.2h0M372.7 249.0h0M381.0 248.8h0M383.8 249.3h0M388.4 249.5h0M390.8 249.1h0M393.7 249.2h0M396.9 249.5h0M399.6 248.4h0M401.0 249.2h0M404.4 248.9h0M406.8 248.7h0M411.5 249.5h0M414.3 248.3h0M416.9 249.4h0M421.8 248.9h0M427.5 248.4h0M430.2 249.1h0M342.1 251.4h0M344.8 252.0h0M347.4 251.6h0M349.6 250.8h0M351.9 252.0h0M355.1 251.5h0M359.5 252.0h0M362.2 251.1h0M364.8 251.2h0M370.5 252.0h0M373.0 252.0h0M376.2 252.0h0M378.3 251.5h0M380.3 251.1h0M385.4 252.1h0M390.7 251.1h0M393.1 251.7h0M398.4 250.6h0M402.1 252.0h0M405.0 251.4h0M406.9 251.7h0M408.8 251.9h0M411.6 251.9h0M415.3 252.1h0M420.2 250.7h0M423.0 252.1h0M430.1 251.3h0M341.7 253.4h0M346.4 254.4h0M349.7 254.7h0M351.8 253.6h0M355.1 253.3h0M357.9 254.4h0M359.9 254.1h0M362.5 253.5h0M365.8 254.5h0M367.1 254.8h0M370.2 254.2h0M376.2 253.5h0M378.8 254.2h0M381.2 253.4h0M383.4 254.1h0M385.7 253.5h0M387.9 253.3h0M390.8 253.3h0M394.4 254.2h0M396.9 254.5h0M398.4 254.3h0M402.3 253.7h0M403.8 253.2h0M406.6 254.8h0M410.2 254.3h0M415.0 253.2h0M416.6 254.2h0M419.1 254.5h0M421.7 253.7h0M424.5 254.0h0M427.0 253.2h0M343.9 256.4h0M346.7 257.0h0M350.3 256.3h0M351.9 256.9h0M355.0 256.5h0M356.7 256.0h0M359.9 257.4h0M364.5 256.8h0M371.1 256.4h0M375.5 255.9h0M377.7 256.0h0M380.7 256.6h0M386.6 256.8h0M389.1 256.8h0M391.0 256.4h0M393.0 256.0h0M399.7 256.3h0M400.9 256.1h0M403.6 256.8h0M406.4 257.2h0M409.1 256.9h0M412.3 256.6h0M413.9 257.0h0M416.7 255.9h0M422.3 257.1h0M425.4 256.2h0M427.6 257.2h0M429.6 256.7h0M345.1 258.5h0M346.8 259.4h0M349.3 259.1h0M352.2 258.8h0M355.5 259.2h0M357.0 259.8h0M360.2 258.8h0M362.2 259.0h0M365.9 259.6h0M367.0 259.8h0M371.0 259.2h0M373.1 259.9h0M380.3 259.4h0M382.6 258.8h0M385.7 258.5h0M391.9 259.3h0M394.0 259.2h0M395.7 259.8h0M399.5 259.8h0M402.3 259.0h0M404.8 259.2h0M407.5 259.6h0M410.1 259.6h0M412.0 259.1h0M414.8 258.9h0M419.6 259.8h0M425.8 258.4h0M427.2 259.1h0M429.6 259.0h0M347.3 261.3h0M349.8 261.6h0M353.0 262.0h0M354.6 262.4h0M356.7 261.9h0M360.1 261.7h0M362.5 262.2h0M365.9 262.3h0M372.4 261.8h0M374.9 261.5h0M377.6 261.5h0M380.3 262.3h0M382.8 261.7h0M385.4 261.7h0M388.5 262.0h0M390.6 261.3h0M396.5 262.2h0M399.6 262.5h0M402.1 262.1h0M404.0 261.6h0M407.3 261.5h0M409.1 261.2h0M412.5 262.4h0M417.1 262.2h0M419.3 261.8h0M422.5 262.3h0M424.9 262.0h0M427.8 261.5h0M347.0 263.7h0M349.3 264.0h0M351.6 264.0h0M355.1 263.8h0M357.3 263.7h0M359.5 264.4h0M362.2 264.1h0M364.6 264.0h0M375.6 264.3h0M378.6 264.8h0M380.7 265.2h0M384.2 263.7h0M389.3 263.8h0M391.7 263.7h0M393.6 264.0h0M396.7 264.9h0M398.7 263.8h0M404.9 264.2h0M406.2 265.0h0M412.3 264.4h0M414.8 265.0h0M418.0 264.4h0M422.6 264.2h0M425.7 264.1h0M427.7 263.9h0M346.9 267.5h0M351.5 266.3h0M354.8 267.2h0M356.7 266.3h0M359.4 267.5h0M364.9 267.3h0M367.4 266.5h0M370.9 267.8h0M378.3 267.7h0M380.1 267.3h0M383.2 267.3h0M386.2 266.9h0M389.0 267.5h0M391.5 267.5h0M393.2 266.7h0M395.9 267.6h0M399.2 267.1h0M401.1 267.2h0M403.7 266.7h0M409.8 266.8h0M412.7 267.4h0M415.0 266.7h0M416.7 266.6h0M419.2 267.3h0M422.4 267.5h0M426.9 267.7h0M429.8 267.7h0M349.2 270.4h0M351.8 269.1h0M355.0 270.3h0M357.8 269.0h0M359.3 269.7h0M362.8 269.9h0M365.6 270.0h0M368.4 269.6h0M370.1 270.2h0M372.7 270.4h0M376.0 269.0h0M378.0 269.2h0M380.4 270.2h0M382.8 269.3h0M386.3 269.2h0M389.4 269.3h0M390.7 270.2h0M393.1 270.3h0M396.1 268.9h0M398.2 270.1h0M406.5 268.9h0M411.6 269.1h0M414.2 270.1h0M417.9 269.1h0M419.7 269.2h0M422.5 269.2h0M426.8 270.2h0M349.4 273.0h0M352.6 272.2h0M355.3 271.5h0M357.4 272.3h0M360.0 272.4h0M362.5 271.6h0M365.3 271.9h0M367.8 272.8h0M370.4 272.6h0M372.7 272.6h0M375.2 272.4h0M378.1 272.4h0M381.2 272.9h0M383.7 272.9h0M386.6 272.9h0M389.4 271.6h0M390.4 272.0h0M397.1 272.9h0M402.1 272.2h0M404.9 272.7h0M407.5 272.5h0M412.0 272.4h0M415.3 271.6h0M419.8 272.0h0M422.6 272.9h0M425.1 272.6h0M427.0 271.8h0M349.3 274.8h0M352.3 274.5h0M355.1 274.5h0M358.1 274.6h0M360.1 274.3h0M362.8 275.5h0M368.3 274.3h0M370.3 274.5h0M380.5 274.4h0M383.0 274.7h0M386.8 274.0h0M389.3 274.6h0M391.1 274.3h0M397.1 275.4h0M398.7 274.1h0M404.8 274.8h0M412.4 275.5h0M417.4 274.9h0M423.2 274.6h0M427.5 275.6h0M429.7 274.7h0M352.4 276.6h0M355.1 276.8h0M356.6 277.2h0M359.3 277.6h0M363.3 277.5h0M365.5 277.9h0M370.3 278.1h0M377.9 277.4h0M381.5 276.6h0M383.3 276.6h0M385.9 277.4h0M387.9 277.8h0M390.7 278.1h0M393.9 278.0h0M395.9 276.9h0M399.3 277.6h0M404.9 276.6h0M406.6 278.1h0M409.0 277.5h0M411.2 277.4h0M414.7 277.3h0M417.9 277.8h0M419.4 278.1h0M423.0 277.7h0M424.5 276.7h0M426.9 277.2h0M352.0 279.5h0M354.2 279.6h0M358.0 279.3h0M359.2 280.7h0M364.5 279.6h0M367.2 280.5h0M381.0 279.6h0M383.0 279.7h0M386.3 279.2h0M391.5 279.6h0M394.0 279.9h0M396.7 280.0h0M398.9 279.2h0M401.7 279.8h0M404.1 280.3h0M406.6 279.7h0M408.9 280.7h0M412.1 279.7h0M414.1 279.7h0M417.5 280.4h0M422.4 280.5h0M425.3 279.4h0M430.1 280.4h0M352.9 282.7h0M356.8 282.1h0M362.5 281.9h0M376.0 283.0h0M378.3 281.9h0M383.0 282.0h0M385.9 282.7h0M388.4 283.2h0M391.6 282.9h0M395.7 283.3h0M398.5 282.6h0M401.9 282.4h0M403.8 282.7h0M407.5 282.2h0M409.8 282.6h0M412.1 282.0h0M417.1 282.7h0M419.2 282.2h0M423.1 282.6h0M425.4 282.7h0M428.2 283.3h0M355.2 285.5h0M356.8 284.8h0M359.3 284.8h0M362.8 284.7h0M365.9 284.8h0M377.8 284.9h0M383.9 285.8h0M386.4 285.3h0M387.8 284.5h0M390.5 284.7h0M393.3 284.7h0M397.2 285.7h0M398.6 286.0h0M404.1 285.9h0M406.8 285.1h0M412.6 285.9h0M415.4 285.7h0M417.6 285.0h0M420.0 284.7h0M422.4 284.8h0M354.0 288.4h0M356.6 287.7h0M359.2 288.1h0M362.1 287.9h0M366.0 287.6h0M368.0 288.2h0M369.6 287.8h0M375.1 287.1h0M383.2 288.2h0M386.1 287.3h0M388.4 288.2h0M393.3 288.5h0M399.4 287.8h0M411.6 288.6h0M414.0 288.3h0M416.9 288.4h0M419.6 288.0h0M421.8 287.3h0M425.2 287.1h0M427.8 288.1h0M430.0 288.2h0M354.6 289.9h0M357.4 290.0h0M360.5 290.8h0M362.9 289.9h0M365.3 291.1h0M367.4 289.8h0M371.0 290.3h0M373.4 291.0h0M375.2 291.1h0M377.8 291.1h0M380.8 290.2h0M384.1 290.0h0M386.4 290.7h0M389.1 290.2h0M391.9 290.5h0M396.2 290.1h0M398.6 290.4h0M404.0 291.0h0M417.6 290.5h0M420.1 290.3h0M421.9 290.0h0M425.3 290.0h0M428.0 290.7h0M357.8 292.4h0M360.6 293.7h0M362.1 292.6h0M368.1 293.7h0M371.0 293.7h0M376.2 292.5h0M380.2 293.3h0M382.8 293.0h0M386.7 292.6h0M388.5 293.6h0M391.1 293.2h0M393.9 293.6h0M396.1 292.9h0M398.9 293.0h0M403.6 293.0h0M406.6 293.1h0M417.0 292.9h0M420.3 293.6h0M423.1 293.2h0M428.0 293.8h0M430.0 293.0h0M357.4 295.2h0M365.8 295.9h0M370.5 296.2h0M372.3 296.2h0M376.4 294.8h0M378.3 295.9h0M380.7 296.2h0M384.0 295.8h0M385.8 295.1h0M388.4 295.2h0M390.5 296.2h0M393.7 295.4h0M396.6 295.7h0M399.2 295.0h0M400.9 295.6h0M404.5 295.6h0M407.6 294.9h0M419.1 295.9h0M421.8 295.2h0M424.4 296.0h0M357.4 298.0h0M363.1 298.9h0M365.8 298.2h0M368.2 297.5h0M369.7 297.5h0M373.1 298.2h0M376.3 298.7h0M377.4 297.9h0M380.8 298.0h0M383.7 297.5h0M386.2 297.6h0M387.9 297.5h0M390.5 298.7h0M394.4 297.8h0M397.0 298.1h0M398.4 298.5h0M403.5 298.4h0M412.2 299.0h0M423.1 299.0h0M425.3 298.9h0M428.1 297.5h0M359.5 301.2h0M361.8 300.7h0M365.8 301.5h0M367.5 301.6h0M370.6 301.5h0M372.9 300.6h0M375.5 300.5h0M378.8 301.2h0M381.3 300.1h0M383.9 300.5h0M385.4 300.8h0M388.6 301.5h0M392.0 301.0h0M393.3 301.5h0M396.6 301.2h0M398.6 301.1h0M401.8 300.8h0M404.6 300.6h0M407.4 301.2h0M420.5 300.6h0M424.5 300.3h0M428.3 300.1h0M429.4 301.4h0M359.7 303.9h0M365.0 303.4h0M367.4 303.0h0M370.5 302.7h0M373.8 303.2h0M375.1 302.9h0M378.8 303.3h0M380.1 303.9h0M383.7 303.0h0M386.4 303.6h0M389.0 303.2h0M390.9 302.6h0M397.1 303.6h0M399.0 303.9h0M401.4 303.7h0M404.5 302.7h0M406.4 303.5h0M409.8 303.8h0M412.0 303.1h0M424.6 302.8h0M426.9 303.4h0M360.4 305.7h0M362.3 306.7h0M364.9 306.0h0M371.2 305.8h0M373.4 305.8h0M376.2 306.6h0M378.9 306.2h0M381.5 305.6h0M386.3 305.4h0M388.0 305.2h0M390.5 305.7h0M393.9 305.4h0M396.6 305.7h0M399.5 306.1h0M402.3 305.3h0M406.7 305.8h0M414.2 306.5h0M417.5 305.6h0M420.1 306.4h0M422.4 305.5h0M429.8 306.2h0M362.4 308.8h0M364.5 309.0h0M367.6 309.1h0M373.0 308.3h0M376.1 308.4h0M378.6 307.8h0M383.9 308.3h0M386.0 309.3h0M391.4 308.7h0M396.1 308.5h0M398.5 307.9h0M401.9 308.4h0M404.5 308.5h0M406.8 308.9h0M409.5 309.4h0M411.7 308.0h0M417.5 309.1h0M422.7 309.0h0M425.7 309.2h0M426.8 308.9h0"/><path stroke="#0000cc" d="M419.3 181.6h0M417.7 183.9h0M388.9 186.8h0M375.0 191.3h0M390.7 191.1h0M383.7 194.9h0M410.1 194.6h0M357.1 196.1h0M360.5 196.2h0M380.4 197.5h0M399.7 197.4h0M351.5 200.0h0M401.7 199.3h0M409.5 200.0h0M386.5 201.4h0M336.5 204.2h0M359.5 205.3h0M372.8 206.9h0M409.4 207.7h0M331.9 209.4h0M367.7 210.3h0M369.7 210.3h0M372.8 210.3h0M388.6 210.4h0M347.2 212.6h0M370.8 213.1h0M373.4 212.6h0M424.3 212.3h0M331.8 214.7h0M334.1 214.8h0M411.8 214.6h0M417.5 215.2h0M354.1 217.3h0M375.1 217.3h0M377.9 217.9h0M380.6 217.4h0M345.1 220.4h0M388.8 220.0h0M352.2 222.6h0M373.0 223.3h0M391.0 223.4h0M394.0 223.2h0M414.4 223.4h0M346.8 225.7h0M386.4 225.9h0M368.4 228.1h0M370.4 227.5h0M396.5 228.5h0M425.1 228.8h0M372.9 233.9h0M354.0 235.0h0M370.6 235.7h0M378.2 236.2h0M382.7 236.4h0M336.7 238.6h0M391.2 238.3h0M393.4 237.8h0M398.8 238.5h0M428.1 237.7h0M356.9 241.1h0M373.8 240.4h0M382.9 240.2h0M409.5 240.3h0M352.9 249.1h0M408.8 249.4h0M357.6 252.0h0M383.1 251.7h0M397.2 252.1h0M344.0 253.9h0M373.0 254.7h0M362.0 256.3h0M367.1 256.5h0M373.1 256.3h0M375.7 258.8h0M417.4 259.5h0M368.2 261.5h0M415.3 261.8h0M368.2 264.0h0M372.4 264.7h0M401.1 263.8h0M349.5 267.7h0M362.6 267.6h0M372.9 266.6h0M406.8 267.7h0M425.4 266.3h0M401.1 270.4h0M409.4 269.8h0M394.6 272.1h0M398.7 272.8h0M408.8 273.0h0M416.5 271.5h0M393.4 274.6h0M415.2 274.5h0M367.7 277.6h0M370.9 280.4h0M355.6 282.3h0M359.6 283.3h0M368.1 282.2h0M381.1 282.4h0M372.7 284.4h0M381.1 285.2h0M408.9 285.4h0M427.0 285.1h0M378.5 287.2h0M391.6 287.8h0M403.9 288.3h0M409.4 289.8h0M411.7 290.9h0M414.3 289.7h0M378.0 292.3h0M401.3 293.6h0M414.1 292.7h0M367.1 294.8h0M402.2 298.9h0M410.1 299.0h0M413.9 298.7h0M417.2 297.5h0M409.7 300.5h0M363.4 303.0h0M417.6 302.7h0M368.3 306.2h0M404.5 306.1h0M409.2 306.2h0M425.5 305.5h0M414.5 308.0h0M420.2 308.1h0"/><path stroke="#0000e6" d="M422.0 202.2h0M401.7 217.5h0M397.0 233.8h0M342.3 249.2h0M385.6 248.1h0M368.3 251.6h0M412.3 254.4h0M430.0 253.5h0M424.7 269.1h0M365.4 274.9h0M374.9 275.0h0M373.5 278.0h0M375.2 277.5h0M373.4 280.8h0M375.9 280.0h0M378.7 280.1h0M364.9 282.1h0M369.8 283.2h0M373.2 282.9h0M415.2 282.5h0M371.2 285.4h0M376.2 284.5h0M402.3 286.0h0M373.6 288.2h0M395.8 288.0h0M401.5 288.5h0M407.4 287.5h0M408.8 288.1h0M401.8 291.0h0M406.2 290.9h0M409.3 293.4h0M425.3 293.0h0M409.2 296.2h0M412.6 295.4h0M413.9 295.7h0M427.8 295.0h0M407.3 298.7h0M412.6 300.4h0M414.1 300.9h0M416.4 301.0h0M422.6 300.0h0M414.2 302.9h0M420.0 303.2h0M423.1 304.0h0M411.4 306.8h0"/><path stroke="#0000ff" d="M386.4 215.4h0M414.2 217.2h0"/></g><g stroke-width="7" stroke-linecap="round" fill="none"></g><use href="#map"/><text x="216.0" y="77.0" font-size="13" font-weight="bold" fill="#262626" stroke="#262626" stroke-width="0.35" textLength="24.4" lengthAdjust="spacingAndGlyphs">100</text><circle cx="245.0" cy="64.4" r="1.4" fill="none" stroke="#262626" stroke-width="0.85"/><text x="252.8" y="77.0" font-size="13" font-weight="bold" fill="#262626" stroke="#262626" stroke-width="0.35" textLength="12.8" lengthAdjust="spacingAndGlyphs">W</text><text x="284.8" y="77.0" font-size="13" font-weight="bold" fill="#262626" stroke="#262626" stroke-width="0.35" textLength="15.6" lengthAdjust="spacingAndGlyphs">90</text><circle cx="305.0" cy="64.4" r="1.4" fill="none" stroke="#262626" stroke-width="0.85"/><text x="313.6" y="77.0" font-size="13" font-weight="bold" fill="#262626" stroke="#262626" stroke-width="0.35" textLength="12.8" lengthAdjust="spacingAndGlyphs">W</text><text x="348.8" y="77.0" font-size="13" font-weight="bold" fill="#262626" stroke="#262626" stroke-width="0.35" textLength="16.6" lengthAdjust="spacingAndGlyphs">80</text><circle cx="370.0" cy="64.4" r="1.4" fill="none" stroke="#262626" stroke-width="0.85"/><text x="377.6" y="77.0" font-size="13" font-weight="bold" fill="#262626" stroke="#262626" stroke-width="0.35" textLength="13.2" lengthAdjust="spacingAndGlyphs">W</text><text x="412.0" y="77.0" font-size="13" font-weight="bold" fill="#262626" stroke="#262626" stroke-width="0.35" textLength="15.2" lengthAdjust="spacingAndGlyphs">70</text><circle cx="432.0" cy="64.4" r="1.4" fill="none" stroke="#262626" stroke-width="0.85"/><text x="440.6" y="77.0" font-size="13" font-weight="bold" fill="#262626" stroke="#262626" stroke-width="0.35" textLength="13.0" lengthAdjust="spacingAndGlyphs">W</text><text x="146.7" y="112.9" font-size="13" font-weight="bold" fill="#262626" stroke="#262626" stroke-width="0.35" textLength="16.9" lengthAdjust="spacingAndGlyphs">48</text><circle cx="168.0" cy="99.4" r="1.4" fill="none" stroke="#262626" stroke-width="0.85"/><text x="175.5" y="112.9" font-size="13" font-weight="bold" fill="#262626" stroke="#262626" stroke-width="0.35" textLength="9.4" lengthAdjust="spacingAndGlyphs">N</text><text x="146.7" y="130.8" font-size="13" font-weight="bold" fill="#262626" stroke="#262626" stroke-width="0.35" textLength="16.9" lengthAdjust="spacingAndGlyphs">46</text><circle cx="168.0" cy="118.3" r="1.4" fill="none" stroke="#262626" stroke-width="0.85"/><text x="175.5" y="130.8" font-size="13" font-weight="bold" fill="#262626" stroke="#262626" stroke-width="0.35" textLength="9.4" lengthAdjust="spacingAndGlyphs">N</text><text x="146.7" y="148.2" font-size="13" font-weight="bold" fill="#262626" stroke="#262626" stroke-width="0.35" textLength="16.9" lengthAdjust="spacingAndGlyphs">44</text><circle cx="168.0" cy="135.4" r="1.4" fill="none" stroke="#262626" stroke-width="0.85"/><text x="175.5" y="148.2" font-size="13" font-weight="bold" fill="#262626" stroke="#262626" stroke-width="0.35" textLength="9.4" lengthAdjust="spacingAndGlyphs">N</text><text x="146.7" y="166.5" font-size="13" font-weight="bold" fill="#262626" stroke="#262626" stroke-width="0.35" textLength="16.9" lengthAdjust="spacingAndGlyphs">42</text><circle cx="168.0" cy="153.2" r="1.4" fill="none" stroke="#262626" stroke-width="0.85"/><text x="175.5" y="166.5" font-size="13" font-weight="bold" fill="#262626" stroke="#262626" stroke-width="0.35" textLength="9.4" lengthAdjust="spacingAndGlyphs">N</text><text x="146.7" y="183.2" font-size="13" font-weight="bold" fill="#262626" stroke="#262626" stroke-width="0.35" textLength="16.9" lengthAdjust="spacingAndGlyphs">40</text><circle cx="168.0" cy="170.3" r="1.4" fill="none" stroke="#262626" stroke-width="0.85"/><text x="175.5" y="183.2" font-size="13" font-weight="bold" fill="#262626" stroke="#262626" stroke-width="0.35" textLength="9.4" lengthAdjust="spacingAndGlyphs">N</text><text x="146.7" y="198.3" font-size="13" font-weight="bold" fill="#262626" stroke="#262626" stroke-width="0.35" textLength="16.9" lengthAdjust="spacingAndGlyphs">38</text><circle cx="168.0" cy="185.5" r="1.4" fill="none" stroke="#262626" stroke-width="0.85"/><text x="175.5" y="198.3" font-size="13" font-weight="bold" fill="#262626" stroke="#262626" stroke-width="0.35" textLength="9.4" lengthAdjust="spacingAndGlyphs">N</text><text x="146.7" y="215.5" font-size="13" font-weight="bold" fill="#262626" stroke="#262626" stroke-width="0.35" textLength="16.9" lengthAdjust="spacingAndGlyphs">36</text><circle cx="168.0" cy="201.5" r="1.4" fill="none" stroke="#262626" stroke-width="0.85"/><text x="175.5" y="215.5" font-size="13" font-weight="bold" fill="#262626" stroke="#262626" stroke-width="0.35" textLength="9.4" lengthAdjust="spacingAndGlyphs">N</text><text x="146.7" y="229.1" font-size="13" font-weight="bold" fill="#262626" stroke="#262626" stroke-width="0.35" textLength="16.9" lengthAdjust="spacingAndGlyphs">34</text><circle cx="168.0" cy="216.2" r="1.4" fill="none" stroke="#262626" stroke-width="0.85"/><text x="175.5" y="229.1" font-size="13" font-weight="bold" fill="#262626" stroke="#262626" stroke-width="0.35" textLength="9.4" lengthAdjust="spacingAndGlyphs">N</text><text x="146.7" y="245.8" font-size="13" font-weight="bold" fill="#262626" stroke="#262626" stroke-width="0.35" textLength="16.9" lengthAdjust="spacingAndGlyphs">32</text><circle cx="168.0" cy="233.2" r="1.4" fill="none" stroke="#262626" stroke-width="0.85"/><text x="175.5" y="245.8" font-size="13" font-weight="bold" fill="#262626" stroke="#262626" stroke-width="0.35" textLength="9.4" lengthAdjust="spacingAndGlyphs">N</text><text x="146.7" y="260.0" font-size="13" font-weight="bold" fill="#262626" stroke="#262626" stroke-width="0.35" textLength="16.9" lengthAdjust="spacingAndGlyphs">30</text><circle cx="168.0" cy="247.3" r="1.4" fill="none" stroke="#262626" stroke-width="0.85"/><text x="175.5" y="260.0" font-size="13" font-weight="bold" fill="#262626" stroke="#262626" stroke-width="0.35" textLength="9.4" lengthAdjust="spacingAndGlyphs">N</text><text x="146.7" y="273.7" font-size="13" font-weight="bold" fill="#262626" stroke="#262626" stroke-width="0.35" textLength="16.9" lengthAdjust="spacingAndGlyphs">28</text><circle cx="168.0" cy="260.5" r="1.4" fill="none" stroke="#262626" stroke-width="0.85"/><text x="175.5" y="273.7" font-size="13" font-weight="bold" fill="#262626" stroke="#262626" stroke-width="0.35" textLength="9.4" lengthAdjust="spacingAndGlyphs">N</text><text x="146.7" y="287.7" font-size="13" font-weight="bold" fill="#262626" stroke="#262626" stroke-width="0.35" textLength="16.9" lengthAdjust="spacingAndGlyphs">26</text><circle cx="168.0" cy="274.1" r="1.4" fill="none" stroke="#262626" stroke-width="0.85"/><text x="175.5" y="287.7" font-size="13" font-weight="bold" fill="#262626" stroke="#262626" stroke-width="0.35" textLength="9.4" lengthAdjust="spacingAndGlyphs">N</text><text x="146.7" y="301.1" font-size="13" font-weight="bold" fill="#262626" stroke="#262626" stroke-width="0.35" textLength="16.9" lengthAdjust="spacingAndGlyphs">24</text><circle cx="168.0" cy="288.9" r="1.4" fill="none" stroke="#262626" stroke-width="0.85"/><text x="175.5" y="301.1" font-size="13" font-weight="bold" fill="#262626" stroke="#262626" stroke-width="0.35" textLength="9.4" lengthAdjust="spacingAndGlyphs">N</text><text x="146.7" y="314.8" font-size="13" font-weight="bold" fill="#262626" stroke="#262626" stroke-width="0.35" textLength="16.9" lengthAdjust="spacingAndGlyphs">22</text><circle cx="168.0" cy="301.1" r="1.4" fill="none" stroke="#262626" stroke-width="0.85"/><text x="175.5" y="314.8" font-size="13" font-weight="bold" fill="#262626" stroke="#262626" stroke-width="0.35" textLength="9.4" lengthAdjust="spacingAndGlyphs">N</text></g><g transform="translate(0,0)"><rect x="441.2" y="95.2" width="23.6" height="215" fill="url(#jet)" stroke="#262626" stroke-width="0.8"/><line x1="462.5" y1="202.7" x2="464.8" y2="202.7" stroke="#262626" stroke-width="0.8"/><text x="473.9" y="103.3" font-size="22" font-weight="bold" fill="#262626" stroke="#262626" stroke-width="0.45" textLength="42.5" lengthAdjust="spacingAndGlyphs">100</text><text x="474.0" y="210.3" font-size="22" font-weight="bold" fill="#262626" stroke="#262626" stroke-width="0.45" textLength="27.0" lengthAdjust="spacingAndGlyphs">50</text><text x="474.0" y="317.9" font-size="22" font-weight="bold" fill="#262626" stroke="#262626" stroke-width="0.45" textLength="13.0" lengthAdjust="spacingAndGlyphs">0</text></g><text x="140.8" y="341.7" font-size="23" font-weight="bold" fill="#262626" stroke="#262626" stroke-width="0.45" textLength="333.6" lengthAdjust="spacingAndGlyphs">SAT 150 hPa RH (Percent)</text></g><g transform="translate(421.0,0)"><g><rect x="195.6" y="96.4" width="234.1" height="213.0" fill="none" stroke="#000" stroke-width="1"/><g stroke-width="5.4" stroke-linecap="round" fill="none"><path stroke="#000080" d="M410.2 183.3h0M425.0 204.4h0M336.1 210.5h0"/><path stroke="#0000b2" d="M415.1 181.9h0M423.1 180.7h0M424.6 182.0h0M427.6 181.2h0M429.5 181.2h0M404.8 183.5h0M407.4 184.1h0M412.0 184.3h0M414.0 183.1h0M417.6 183.5h0M422.7 183.5h0M425.5 184.0h0M430.1 183.1h0M388.4 187.0h0M390.9 186.4h0M396.2 187.1h0M398.7 187.0h0M402.0 187.0h0M404.0 186.6h0M407.3 185.7h0M409.8 185.8h0M411.3 185.8h0M414.9 186.7h0M416.7 186.7h0M419.8 186.9h0M425.6 186.3h0M427.3 185.9h0M429.8 185.7h0M381.2 189.0h0M383.6 189.8h0M385.8 188.5h0M389.2 188.9h0M392.0 188.7h0M394.1 189.1h0M396.2 189.4h0M398.6 189.5h0M402.4 189.2h0M406.6 188.9h0M409.1 189.6h0M412.3 189.3h0M415.3 189.1h0M416.8 189.6h0M419.4 188.7h0M422.0 188.9h0M427.7 189.2h0M373.6 191.3h0M376.0 192.3h0M378.6 191.6h0M380.1 192.3h0M383.0 191.3h0M386.8 192.3h0M388.7 190.9h0M393.5 192.2h0M395.8 191.6h0M399.7 192.2h0M404.6 191.0h0M407.5 192.3h0M409.7 191.7h0M411.3 192.0h0M414.2 192.4h0M417.4 191.0h0M420.2 190.9h0M421.9 191.5h0M424.8 192.3h0M427.0 191.4h0M430.1 191.6h0M358.0 194.9h0M359.7 194.5h0M362.3 194.3h0M365.8 194.9h0M370.3 193.7h0M372.4 193.8h0M375.9 195.0h0M378.3 194.0h0M381.5 193.8h0M383.4 194.9h0M385.7 194.6h0M392.0 193.8h0M393.8 194.2h0M399.8 194.5h0M404.7 194.3h0M406.1 194.1h0M409.2 193.7h0M411.5 194.3h0M415.3 194.9h0M417.6 194.6h0M420.5 193.6h0M422.1 194.9h0M424.4 194.0h0M427.2 194.2h0M349.7 197.5h0M352.3 197.4h0M354.9 196.4h0M356.9 196.0h0M359.2 197.1h0M363.3 196.7h0M368.5 197.2h0M370.1 196.2h0M372.3 196.6h0M376.1 196.4h0M378.2 196.5h0M383.5 196.4h0M386.2 196.6h0M389.3 197.0h0M391.3 196.4h0M393.3 197.1h0M396.7 197.0h0M399.2 197.3h0M401.5 196.7h0M403.9 196.2h0M406.9 196.2h0M409.5 196.1h0M412.3 197.5h0M416.6 197.2h0M419.4 197.3h0M421.9 197.0h0M424.9 197.5h0M427.6 196.4h0M429.9 196.6h0M341.0 199.6h0M344.1 198.9h0M346.2 200.2h0M349.1 200.0h0M351.7 199.0h0M357.4 200.2h0M360.5 198.9h0M363.0 199.6h0M365.7 199.6h0M367.6 200.0h0M370.3 200.1h0M372.9 198.7h0M374.9 199.9h0M378.2 199.2h0M380.7 199.8h0M386.1 199.3h0M388.3 198.7h0M391.4 199.9h0M394.4 198.8h0M396.2 200.0h0M399.5 199.0h0M401.8 199.0h0M404.5 199.8h0M406.3 199.0h0M410.1 200.1h0M411.9 199.5h0M414.0 199.6h0M420.4 199.9h0M422.9 200.1h0M425.6 200.1h0M428.0 198.7h0M334.7 201.3h0M336.9 201.9h0M338.9 202.4h0M341.6 202.0h0M344.9 201.9h0M347.8 201.5h0M349.3 202.8h0M352.0 201.9h0M355.4 202.2h0M359.6 202.7h0M362.6 201.6h0M366.0 201.2h0M367.1 201.5h0M370.8 201.8h0M376.2 201.3h0M377.8 202.5h0M381.1 201.6h0M383.1 202.7h0M386.6 201.6h0M388.7 202.3h0M390.6 201.9h0M393.6 202.3h0M395.7 201.4h0M398.5 201.2h0M400.9 201.9h0M403.6 201.8h0M407.3 202.7h0M409.4 201.5h0M411.7 202.8h0M414.7 201.6h0M416.7 202.6h0M419.6 202.6h0M424.5 202.1h0M427.1 202.0h0M329.3 203.9h0M332.2 204.7h0M333.3 205.0h0M337.4 204.6h0M338.8 203.9h0M342.4 205.0h0M347.1 205.1h0M348.9 203.8h0M351.8 205.4h0M354.6 205.1h0M356.7 205.0h0M359.6 204.3h0M365.4 205.2h0M369.9 204.8h0M375.7 204.9h0M377.4 203.9h0M380.2 204.9h0M383.7 204.6h0M385.5 204.9h0M390.7 205.3h0M394.2 205.2h0M396.1 205.4h0M399.2 204.9h0M404.3 204.2h0M406.8 203.9h0M410.0 204.4h0M412.1 204.1h0M414.4 204.0h0M417.6 204.6h0M422.5 204.7h0M427.2 203.9h0M326.0 207.1h0M329.5 207.7h0M330.7 207.5h0M338.6 206.4h0M342.3 207.5h0M346.6 207.4h0M349.9 207.4h0M352.6 207.8h0M357.3 207.5h0M360.6 206.9h0M362.5 207.6h0M365.8 207.2h0M367.3 206.5h0M370.2 206.7h0M373.3 207.6h0M376.3 206.6h0M378.8 206.6h0M380.2 206.5h0M383.8 207.2h0M386.6 207.7h0M389.2 206.8h0M391.0 207.4h0M394.4 207.8h0M395.9 207.0h0M398.3 207.5h0M401.8 207.0h0M404.9 207.7h0M407.0 207.3h0M409.1 207.5h0M412.5 207.1h0M415.1 207.1h0M420.4 207.2h0M422.2 207.5h0M425.4 207.4h0M328.1 210.4h0M333.7 209.8h0M338.6 210.3h0M342.3 209.7h0M343.6 209.1h0M346.5 210.6h0M349.0 210.2h0M351.8 210.0h0M360.0 209.8h0M363.2 209.8h0M364.6 209.4h0M367.7 209.6h0M369.8 209.2h0M372.2 209.7h0M378.6 209.6h0M380.1 209.8h0M383.4 209.8h0M386.4 210.0h0M388.3 210.2h0M394.1 210.6h0M399.8 210.0h0M402.1 209.5h0M404.2 209.8h0M406.1 210.6h0M408.9 209.9h0M411.9 209.0h0M413.9 209.6h0M416.6 210.4h0M419.7 209.0h0M422.2 209.6h0M425.3 210.4h0M428.2 209.1h0M430.1 209.4h0M328.6 212.1h0M331.1 211.9h0M333.3 213.1h0M339.7 212.3h0M341.7 213.0h0M347.4 212.9h0M349.6 212.4h0M352.7 211.8h0M355.6 213.1h0M357.3 212.8h0M360.3 212.2h0M364.9 212.3h0M370.7 213.2h0M372.7 212.0h0M377.4 212.5h0M381.4 211.9h0M382.7 212.4h0M388.5 212.8h0M390.9 211.8h0M396.9 213.0h0M399.4 212.9h0M401.2 212.9h0M404.9 212.7h0M406.0 212.6h0M409.0 212.7h0M411.5 211.8h0M414.1 212.1h0M417.8 213.1h0M419.4 212.2h0M421.7 212.6h0M424.5 211.6h0M428.2 213.2h0M429.9 213.1h0M331.2 214.8h0M334.3 215.4h0M338.8 214.5h0M341.1 214.5h0M350.1 215.6h0M362.2 214.9h0M369.6 214.2h0M381.6 214.2h0M383.7 214.4h0M386.7 214.7h0M388.3 215.5h0M391.1 215.6h0M396.4 214.2h0M399.2 215.6h0M401.1 215.0h0M404.3 215.1h0M407.3 215.5h0M409.2 215.2h0M411.7 215.2h0M415.1 214.7h0M417.7 214.3h0M422.8 215.6h0M424.9 215.2h0M428.3 215.3h0M429.8 215.6h0M341.9 217.4h0M347.5 218.2h0M350.0 217.7h0M384.1 218.0h0M386.3 217.8h0M387.8 217.5h0M393.4 217.5h0M399.0 217.3h0M401.3 218.2h0M404.0 218.0h0M407.5 218.3h0M409.5 217.6h0M411.4 217.7h0M414.8 217.5h0M416.7 217.9h0M420.4 217.0h0M423.1 216.9h0M425.1 216.9h0M426.9 217.3h0M354.3 220.2h0M386.6 219.7h0M388.0 220.1h0M390.5 220.5h0M399.1 220.7h0M404.6 219.5h0M406.2 221.0h0M409.4 220.7h0M412.6 220.4h0M415.0 219.7h0M417.3 220.7h0M419.7 220.3h0M422.5 219.6h0M425.4 219.4h0M427.9 219.8h0M378.5 222.6h0M381.4 223.1h0M383.6 223.6h0M385.9 222.4h0M389.3 222.8h0M394.6 222.9h0M396.3 222.4h0M399.6 222.4h0M406.6 223.6h0M409.5 222.6h0M411.9 222.1h0M414.7 222.1h0M418.0 222.6h0M419.6 223.5h0M422.1 223.2h0M427.4 222.1h0M401.2 225.9h0M403.4 225.2h0M409.9 226.0h0M411.4 225.9h0M415.4 226.2h0M417.2 225.2h0M419.4 226.1h0M425.6 226.0h0M428.2 225.3h0M412.1 228.3h0M415.1 227.8h0M417.7 228.7h0M420.3 227.6h0M425.6 227.7h0M427.4 228.8h0M429.6 228.7h0M409.4 230.6h0M412.4 231.1h0M417.0 230.3h0M420.4 230.0h0M422.7 231.0h0M425.3 229.8h0M430.1 230.3h0M417.0 233.4h0M419.4 232.7h0M423.0 233.1h0M425.7 233.9h0M428.1 232.8h0M416.6 235.2h0M420.2 235.8h0M423.0 236.2h0M427.0 236.4h0M417.0 237.7h0M424.9 237.9h0M427.3 238.2h0M416.8 241.6h0M420.2 240.3h0M422.9 240.7h0M428.0 240.3h0M429.8 241.2h0M422.0 243.7h0M424.6 248.7h0M383.4 256.3h0M386.6 257.4h0M388.1 256.2h0M380.9 258.9h0M383.0 259.7h0M394.1 259.5h0M383.8 261.8h0M389.3 262.5h0M393.9 261.6h0M384.1 265.2h0M386.0 265.1h0M391.9 263.7h0M393.5 265.1h0M380.8 267.1h0M388.7 266.4h0M393.0 266.9h0M398.7 266.3h0M401.0 267.0h0M401.2 270.3h0M403.8 270.0h0M407.2 270.2h0M394.2 272.5h0M397.2 271.5h0M398.5 272.7h0M403.5 272.0h0M390.7 274.2h0M396.2 274.0h0M403.9 274.5h0M408.7 275.0h0M402.2 277.8h0M404.8 277.8h0M398.3 280.2h0M401.9 279.7h0M404.5 280.7h0M407.0 280.3h0M406.1 282.6h0M427.2 281.9h0M414.0 285.1h0M404.3 289.6h0M413.9 293.7h0"/><path stroke="#0000cc" d="M416.5 181.5h0M420.5 180.5h0M419.6 183.1h0M427.2 183.6h0M393.4 185.9h0M421.7 185.7h0M404.5 189.8h0M425.5 189.0h0M370.6 191.1h0M391.6 191.1h0M401.6 191.7h0M367.6 193.4h0M388.4 195.0h0M395.7 194.9h0M401.1 193.8h0M365.1 196.8h0M380.5 196.0h0M414.4 196.4h0M354.7 198.7h0M383.7 199.5h0M416.7 200.0h0M357.1 202.8h0M372.9 201.8h0M422.9 201.7h0M344.6 205.3h0M362.5 204.2h0M368.3 204.2h0M373.2 204.8h0M388.5 204.6h0M401.3 204.5h0M419.5 204.1h0M333.2 207.3h0M337.3 207.2h0M343.8 208.0h0M355.5 207.6h0M416.9 207.4h0M427.3 207.3h0M331.7 209.2h0M355.3 209.8h0M357.5 209.0h0M374.8 209.9h0M390.4 209.5h0M397.1 210.2h0M344.0 211.7h0M362.3 212.6h0M367.5 213.1h0M375.9 212.7h0M386.2 212.7h0M394.1 212.8h0M336.8 214.9h0M344.3 215.5h0M346.2 215.2h0M352.4 214.5h0M354.5 215.3h0M365.1 214.3h0M367.4 215.4h0M375.3 215.4h0M378.2 215.5h0M393.3 214.3h0M420.1 214.9h0M339.5 217.7h0M363.2 217.7h0M365.0 217.9h0M367.5 217.2h0M391.6 217.7h0M396.0 216.9h0M430.2 218.1h0M352.8 220.0h0M377.4 219.6h0M393.1 220.7h0M396.2 220.7h0M352.5 222.1h0M401.8 222.1h0M404.8 222.9h0M424.7 222.9h0M390.8 225.7h0M394.4 225.6h0M406.4 224.7h0M422.8 225.3h0M378.0 228.5h0M383.7 228.2h0M402.3 228.5h0M408.7 227.2h0M422.5 227.6h0M414.6 230.5h0M427.4 230.4h0M411.4 236.0h0M424.5 236.3h0M422.1 238.3h0M429.5 238.4h0M417.8 244.2h0M419.7 243.9h0M425.0 243.1h0M429.7 244.1h0M422.6 249.1h0M388.3 251.8h0M388.9 254.1h0M396.7 255.8h0M398.4 256.6h0M388.7 259.9h0M396.7 259.8h0M399.8 259.8h0M401.4 258.4h0M385.4 262.3h0M412.0 262.1h0M388.3 264.2h0M396.8 264.4h0M398.4 265.0h0M407.1 263.9h0M397.1 266.7h0M404.5 266.5h0M406.6 266.4h0M386.2 270.2h0M395.7 269.3h0M398.9 268.9h0M411.5 269.6h0M374.9 273.0h0M406.4 272.8h0M408.8 272.2h0M389.1 274.1h0M409.3 277.0h0M409.3 280.4h0M414.2 280.5h0M409.1 283.3h0M411.6 282.4h0M414.9 282.1h0"/><path stroke="#0000e6" d="M336.3 212.2h0M329.1 214.9h0M372.4 215.4h0M331.3 218.2h0M334.1 218.1h0M344.8 218.2h0M352.0 217.2h0M355.5 218.1h0M370.6 217.7h0M372.7 217.6h0M374.9 217.4h0M378.3 216.8h0M380.2 217.9h0M331.5 220.7h0M336.9 220.3h0M338.9 220.0h0M342.3 220.3h0M344.7 220.2h0M349.6 219.7h0M358.1 220.1h0M365.1 220.5h0M375.5 220.7h0M380.1 220.0h0M383.5 221.0h0M337.3 222.9h0M343.9 223.0h0M368.2 223.5h0M391.6 222.9h0M355.3 226.1h0M360.0 225.6h0M386.1 225.6h0M380.6 228.3h0M352.8 230.9h0M391.1 230.8h0M414.4 233.9h0M414.9 235.4h0M414.7 238.0h0M420.4 239.1h0M414.5 241.0h0M428.1 244.2h0M414.4 245.8h0M419.3 246.9h0M427.9 246.7h0M415.0 249.0h0M427.6 248.8h0M430.0 249.1h0M384.1 251.0h0M421.8 251.5h0M424.4 250.9h0M427.3 251.3h0M373.7 254.5h0M382.8 253.4h0M386.5 254.3h0M362.1 256.1h0M367.5 256.6h0M371.2 255.9h0M373.3 256.4h0M378.1 255.8h0M381.4 257.1h0M393.6 256.9h0M422.0 257.4h0M424.5 256.4h0M428.1 256.1h0M430.1 256.7h0M367.6 259.3h0M370.1 260.0h0M376.1 259.7h0M378.0 258.6h0M385.8 258.7h0M420.5 258.6h0M427.4 259.1h0M365.3 262.5h0M368.3 262.4h0M370.7 261.7h0M373.5 261.2h0M378.3 262.2h0M380.4 262.0h0M391.2 261.9h0M430.1 261.6h0M360.3 264.5h0M362.4 264.5h0M366.0 265.1h0M374.9 264.0h0M380.5 263.7h0M427.4 264.8h0M429.5 264.5h0M365.8 266.4h0M367.7 266.8h0M376.2 267.1h0M377.6 267.7h0M383.0 267.7h0M385.5 267.6h0M390.6 266.7h0M354.1 269.6h0M357.5 269.5h0M359.2 268.8h0M361.8 269.3h0M364.7 269.6h0M367.9 269.4h0M370.7 269.2h0M372.7 270.1h0M375.3 268.9h0M378.7 269.7h0M380.5 270.3h0M383.1 269.3h0M389.0 269.1h0M391.9 269.8h0M393.7 269.6h0M352.2 271.6h0M354.8 272.0h0M359.2 272.3h0M362.7 272.7h0M365.8 271.7h0M367.2 272.0h0M371.2 271.4h0M373.5 271.9h0M378.9 271.9h0M380.5 272.0h0M383.9 272.2h0M391.7 271.7h0M401.6 272.9h0M350.3 274.6h0M363.3 274.0h0M365.4 275.2h0M368.5 274.4h0M370.3 274.8h0M373.0 275.2h0M378.3 274.5h0M381.4 275.1h0M382.9 274.6h0M385.3 275.2h0M399.1 274.3h0M402.2 274.1h0M406.2 275.5h0M365.6 277.9h0M367.5 276.9h0M369.9 276.6h0M372.4 278.1h0M375.4 278.1h0M378.7 277.8h0M380.5 278.2h0M383.5 276.6h0M385.9 276.8h0M388.6 277.6h0M390.9 278.1h0M394.2 278.1h0M396.8 277.3h0M398.5 276.7h0M407.3 277.2h0M423.1 277.2h0M425.7 277.1h0M429.9 278.0h0M365.4 280.6h0M367.5 279.3h0M370.8 279.7h0M376.0 280.2h0M377.6 279.8h0M380.8 280.3h0M383.0 279.6h0M386.3 279.4h0M388.7 279.7h0M396.9 280.2h0M412.0 279.3h0M424.7 280.5h0M427.7 280.2h0M360.5 283.0h0M363.0 281.9h0M364.6 283.3h0M367.9 283.3h0M370.9 283.1h0M375.8 282.7h0M377.8 282.0h0M380.5 281.8h0M382.8 282.5h0M394.6 282.9h0M396.9 282.3h0M400.9 282.6h0M403.6 283.3h0M417.1 282.8h0M419.8 281.9h0M421.7 282.7h0M424.3 282.6h0M365.5 285.5h0M370.5 285.8h0M372.9 284.8h0M375.7 285.0h0M378.0 285.7h0M394.5 284.9h0M399.0 284.4h0M400.8 284.7h0M404.8 284.8h0M407.2 285.1h0M409.8 285.3h0M417.3 284.8h0M420.3 285.2h0M422.5 285.8h0M425.0 285.4h0M370.6 287.1h0M375.6 287.5h0M393.3 287.5h0M398.6 287.5h0M404.8 287.4h0M407.6 287.5h0M409.0 288.6h0M412.7 288.1h0M414.6 288.1h0M417.8 287.9h0M420.3 288.4h0M421.7 287.3h0M425.2 287.2h0M391.2 290.0h0M402.2 290.2h0M406.7 291.0h0M409.7 291.2h0M412.4 289.9h0M422.3 291.1h0M424.5 290.2h0M410.0 292.2h0M411.3 292.4h0M418.0 293.7h0M420.2 293.6h0M423.2 293.5h0M424.5 292.2h0M401.2 296.2h0M410.0 295.7h0M413.9 295.8h0M417.2 295.8h0M420.1 296.1h0M422.4 295.3h0M425.7 295.1h0M427.0 296.2h0M429.7 295.7h0M407.0 298.2h0M411.5 298.6h0M414.9 297.9h0M417.0 298.5h0M419.4 297.7h0M422.1 298.3h0M428.0 298.3h0M383.5 301.5h0M415.3 300.3h0M416.6 300.8h0M419.1 300.4h0M422.5 300.9h0M425.3 301.4h0M429.8 300.2h0M396.4 303.4h0M414.0 303.2h0M418.0 303.4h0M419.9 302.8h0M424.4 303.3h0M383.3 305.4h0M388.1 306.5h0M390.8 306.6h0M395.9 306.7h0M398.6 305.2h0M409.5 305.4h0M412.4 306.1h0M415.3 305.9h0M417.6 305.5h0M419.8 305.5h0M422.5 306.0h0M425.2 305.5h0M426.8 306.5h0M383.9 308.4h0M386.8 308.8h0M409.1 307.9h0M412.6 309.0h0M415.1 308.7h0M417.6 308.4h0M419.3 308.1h0M424.6 308.6h0M428.4 308.3h0M429.8 308.6h0"/><path stroke="#0000ff" d="M360.6 215.7h0M336.8 218.1h0M334.1 220.7h0M367.1 219.8h0M370.4 220.2h0M402.3 219.5h0M339.1 222.4h0M341.9 222.7h0M349.3 223.1h0M354.9 222.2h0M343.8 225.3h0M346.7 225.3h0M351.9 225.9h0M357.8 226.1h0M372.3 225.4h0M374.8 225.2h0M343.9 228.8h0M355.1 228.4h0M357.6 228.4h0M412.6 238.6h0M409.9 240.7h0M412.2 241.8h0M424.5 241.6h0M411.2 243.1h0M415.4 244.4h0M416.7 245.5h0M422.1 245.8h0M373.7 249.1h0M381.0 249.0h0M383.7 249.5h0M390.5 248.9h0M349.7 251.5h0M365.0 251.0h0M380.3 251.6h0M385.5 250.9h0M418.0 250.9h0M427.0 254.5h0M357.3 256.3h0M360.2 256.5h0M375.7 256.0h0M419.5 256.2h0M372.4 259.7h0M424.3 259.6h0M422.9 261.7h0M425.4 262.3h0M368.0 263.7h0M369.8 264.7h0M373.5 263.7h0M377.5 264.8h0M421.8 265.2h0M354.8 266.6h0M357.0 267.7h0M359.9 266.9h0M362.4 267.2h0M369.8 267.1h0M373.7 267.0h0M427.5 266.8h0M430.0 266.8h0M349.7 271.7h0M356.9 272.3h0M386.3 272.0h0M389.0 272.3h0M425.2 272.4h0M351.8 274.2h0M360.1 275.2h0M375.4 275.1h0M394.5 274.8h0M412.6 275.3h0M417.5 275.0h0M352.7 277.7h0M355.4 277.7h0M362.0 276.9h0M414.6 277.1h0M417.2 277.3h0M363.4 280.6h0M373.1 280.5h0M393.3 279.3h0M416.7 280.1h0M373.5 283.2h0M386.0 282.6h0M389.2 282.5h0M391.1 282.1h0M359.2 285.5h0M368.3 285.8h0M384.0 285.1h0M386.6 285.4h0M396.9 286.0h0M411.9 285.9h0M426.8 284.6h0M372.2 287.1h0M381.4 288.1h0M383.4 287.6h0M385.6 287.3h0M389.3 288.3h0M396.6 287.5h0M401.7 287.9h0M393.3 290.5h0M414.3 290.5h0M417.3 290.4h0M420.2 289.9h0M426.8 289.7h0M430.2 291.1h0M399.2 293.6h0M395.9 296.0h0M406.1 295.5h0M412.4 296.3h0M393.9 297.6h0M396.4 298.6h0M425.6 298.8h0M385.8 300.6h0M388.4 301.4h0M396.8 300.3h0M426.9 300.9h0M381.0 304.2h0M383.7 303.4h0M385.5 303.2h0M399.5 302.9h0M412.5 302.7h0M422.6 303.1h0M427.1 303.6h0M390.7 309.2h0M421.7 308.8h0"/><path stroke="#0019ff" d="M358.1 214.2h0M357.7 218.0h0M360.5 217.3h0M359.8 220.6h0M362.4 220.6h0M356.8 223.4h0M359.9 222.3h0M364.6 222.0h0M370.1 222.2h0M372.5 223.0h0M396.9 225.8h0M341.5 228.8h0M351.7 227.7h0M359.3 227.9h0M404.0 227.6h0M406.7 228.1h0M354.2 230.7h0M401.9 230.4h0M405.0 229.8h0M406.6 230.9h0M406.5 232.7h0M411.4 233.9h0M352.2 236.0h0M359.3 235.6h0M354.1 237.8h0M362.1 238.9h0M354.2 240.3h0M360.2 240.2h0M363.3 240.6h0M368.5 240.7h0M355.5 243.3h0M358.1 243.3h0M362.8 244.3h0M365.5 243.9h0M367.8 243.3h0M352.7 246.5h0M357.3 245.8h0M364.8 245.7h0M383.6 245.5h0M350.1 248.9h0M351.4 249.4h0M355.2 248.3h0M357.7 248.4h0M360.0 249.1h0M362.2 248.8h0M367.5 249.4h0M370.5 249.1h0M378.4 249.3h0M342.5 251.5h0M343.8 251.7h0M354.7 251.3h0M357.9 250.6h0M360.4 250.6h0M363.0 251.5h0M369.9 251.9h0M373.5 251.0h0M378.1 251.2h0M411.8 250.8h0M344.8 254.6h0M346.6 253.2h0M349.5 254.7h0M352.0 253.2h0M354.3 254.1h0M360.6 254.2h0M365.0 253.3h0M367.5 254.7h0M371.2 254.2h0M378.6 253.5h0M345.0 256.8h0M347.0 256.0h0M348.9 257.1h0M352.3 257.0h0M354.3 256.8h0M365.1 256.1h0M348.8 259.2h0M351.6 259.4h0M355.3 259.4h0M357.7 259.3h0M359.2 258.8h0M363.3 259.5h0M364.5 259.9h0M344.8 262.0h0M346.5 261.6h0M357.1 261.4h0M359.7 261.7h0M375.2 261.6h0M347.3 263.7h0M349.2 264.5h0M352.4 264.8h0M354.1 264.1h0M357.5 264.5h0M417.3 264.3h0M424.9 264.9h0M347.8 267.2h0M349.8 266.4h0M352.5 266.4h0M422.5 266.2h0M425.2 267.4h0M349.0 269.3h0M352.9 270.2h0M425.2 269.5h0M427.4 269.7h0M430.0 270.0h0M427.7 273.0h0M355.5 275.1h0M358.1 275.5h0M422.4 274.8h0M424.4 274.6h0M427.2 274.2h0M358.0 277.9h0M359.8 277.8h0M428.2 277.9h0M351.9 280.0h0M355.3 280.2h0M357.6 279.7h0M359.3 280.5h0M391.4 280.0h0M419.7 280.6h0M352.0 282.5h0M354.6 281.9h0M399.4 283.2h0M355.5 284.8h0M357.2 285.6h0M391.2 284.7h0M365.3 288.2h0M367.6 288.1h0M391.4 287.2h0M362.3 289.8h0M368.3 289.8h0M372.7 289.7h0M375.4 290.3h0M388.5 290.2h0M364.4 292.7h0M368.0 293.5h0M370.0 293.1h0M375.7 292.7h0M382.8 293.8h0M393.1 293.5h0M396.8 292.3h0M401.2 292.5h0M427.5 292.7h0M365.8 295.0h0M390.7 295.7h0M393.9 295.8h0M388.1 298.5h0M391.5 298.3h0M398.4 298.2h0M360.7 300.3h0M381.3 301.5h0M394.3 300.4h0M368.1 304.1h0M388.1 303.9h0M390.5 304.1h0M362.8 308.6h0M365.6 308.5h0M367.3 308.6h0M370.1 309.3h0M375.5 309.4h0M378.9 308.1h0M380.2 308.7h0"/><path stroke="#0033ff" d="M362.2 222.7h0M369.9 225.6h0M337.3 227.6h0M350.2 228.3h0M348.9 231.3h0M356.9 231.2h0M398.9 230.8h0M356.7 232.8h0M404.4 232.8h0M409.5 232.8h0M357.9 235.4h0M396.5 235.3h0M407.2 235.1h0M408.9 235.3h0M357.8 237.9h0M360.4 237.8h0M365.7 237.6h0M404.1 237.7h0M352.4 240.9h0M357.0 241.4h0M364.9 241.7h0M370.3 241.1h0M360.8 244.0h0M370.9 242.8h0M373.2 244.0h0M380.6 243.0h0M350.3 246.3h0M354.3 245.5h0M359.8 245.9h0M362.5 245.9h0M368.4 246.6h0M369.7 245.7h0M425.6 246.5h0M342.4 248.8h0M347.7 249.1h0M351.7 251.8h0M367.4 251.5h0M356.9 253.6h0M362.1 254.3h0M375.0 254.2h0M380.1 253.8h0M347.1 258.5h0M349.4 261.8h0M352.7 261.4h0M355.2 261.3h0M362.3 261.7h0M421.8 270.1h0M419.2 275.0h0M380.6 285.8h0M360.0 287.7h0M362.8 287.8h0M371.2 290.6h0M372.3 293.7h0M388.7 293.6h0M404.9 292.6h0M372.9 295.3h0M381.1 296.2h0M387.9 295.0h0M370.0 297.5h0M380.1 297.8h0M386.0 298.4h0M409.7 297.4h0M367.7 305.6h0M381.3 306.6h0M386.3 305.6h0M372.5 308.7h0"/><path stroke="#004dff" d="M365.2 225.7h0M350.0 233.2h0M352.1 233.5h0M359.7 233.0h0M394.5 232.4h0M399.0 232.7h0M349.1 235.8h0M347.4 243.9h0M350.3 242.9h0M351.7 243.2h0M375.7 244.1h0M383.4 243.2h0M346.3 246.1h0M344.8 248.5h0M365.1 248.0h0M386.8 249.0h0M419.2 249.1h0M346.3 251.5h0M393.4 251.5h0M397.2 251.4h0M391.0 253.8h0M393.3 254.5h0M423.1 254.2h0M391.2 256.3h0M422.3 258.6h0M428.1 262.4h0M417.9 267.1h0M357.0 281.9h0M388.6 285.1h0M378.0 287.8h0M397.1 290.6h0M398.9 290.5h0M363.0 292.9h0M407.4 292.6h0M377.8 295.9h0M399.7 296.0h0M403.9 296.1h0M368.5 298.9h0M384.1 298.3h0M404.7 298.4h0M401.4 301.4h0M408.8 300.8h0M412.7 301.0h0M362.7 304.2h0M375.3 304.1h0M393.6 303.3h0M406.1 304.1h0M409.6 303.8h0M365.3 305.8h0M372.4 305.2h0M360.6 308.2h0M401.0 308.2h0M406.2 309.0h0"/><path stroke="#0066ff" d="M352.0 238.5h0M349.2 240.8h0M374.9 241.6h0M398.6 246.7h0M412.1 246.1h0M388.3 248.9h0M412.5 249.5h0M392.0 250.8h0M414.0 250.8h0M419.6 251.5h0M396.9 254.8h0M412.5 254.5h0M415.2 253.5h0M416.5 254.1h0M419.8 254.1h0M414.9 256.5h0M390.6 258.6h0M408.6 258.5h0M352.8 285.7h0M362.2 284.8h0M354.6 287.1h0M358.1 288.5h0M354.4 289.8h0M357.2 290.5h0M359.3 291.0h0M365.2 290.7h0M378.5 289.9h0M381.6 290.6h0M383.6 290.8h0M385.7 290.2h0M356.6 292.4h0M360.0 293.2h0M381.0 292.6h0M386.6 292.2h0M391.6 292.5h0M359.6 295.0h0M362.3 296.0h0M370.7 295.0h0M382.7 296.0h0M385.3 295.6h0M358.2 297.8h0M360.2 298.3h0M372.6 298.8h0M378.2 298.7h0M402.2 297.9h0M362.0 301.3h0M365.5 300.5h0M373.2 300.6h0M391.9 300.8h0M398.4 300.9h0M403.7 301.0h0M406.4 300.9h0M360.7 303.5h0M401.9 304.2h0M404.4 304.1h0M360.4 306.4h0M362.9 306.3h0M370.4 305.3h0M393.2 305.3h0M400.9 305.4h0M404.0 305.4h0M407.1 306.3h0M388.6 308.3h0M394.0 308.4h0M396.5 308.7h0M398.4 308.7h0M404.6 308.6h0"/><path stroke="#0080ff" d="M380.6 225.0h0M393.4 243.1h0M396.7 243.5h0M396.3 245.8h0M393.9 249.0h0M416.5 248.4h0M398.7 250.7h0M401.2 256.1h0M399.3 261.3h0M402.3 261.3h0M377.8 293.7h0M358.2 295.9h0M365.3 303.2h0"/><path stroke="#0099ff" d="M373.6 219.6h0M376.1 223.4h0M378.9 226.2h0M398.2 225.6h0M394.1 228.1h0M396.5 230.4h0M401.1 235.0h0M392.0 240.9h0M391.2 246.8h0M424.3 254.6h0M416.5 257.2h0M412.5 258.8h0M396.6 261.7h0M419.5 261.6h0M401.9 264.7h0M412.0 264.5h0M414.5 263.9h0M420.1 264.3h0M414.8 267.7h0M409.8 269.0h0M417.5 268.9h0M412.2 271.9h0M414.5 272.9h0M416.4 272.7h0M420.2 271.6h0M415.2 274.8h0M412.3 277.9h0M419.3 277.4h0M422.5 280.1h0M429.7 285.5h0M427.8 288.0h0M368.3 295.7h0M375.4 295.4h0M363.3 298.9h0M365.5 297.8h0M375.0 300.5h0M378.2 300.9h0M372.7 303.6h0M376.0 306.3h0M378.4 306.1h0"/><path stroke="#00b2ff" d="M373.1 227.5h0M376.0 228.2h0M396.0 228.6h0M399.7 227.6h0M375.4 230.8h0M385.9 231.0h0M387.9 229.9h0M393.4 231.0h0M367.9 233.9h0M372.7 232.8h0M374.8 233.3h0M390.8 233.7h0M401.5 232.9h0M375.9 236.0h0M372.6 238.3h0M390.6 238.7h0M394.3 238.7h0M396.0 238.3h0M399.3 237.7h0M394.5 240.5h0M396.1 241.8h0M391.3 242.8h0M404.2 243.7h0M393.1 245.5h0M376.1 248.5h0M396.3 249.1h0M402.0 254.6h0M404.3 253.8h0M412.2 256.2h0M403.9 258.5h0M406.0 258.9h0M414.5 259.8h0M404.8 261.4h0M407.5 262.3h0M409.7 261.8h0M414.6 262.5h0M416.7 261.2h0M404.8 265.0h0M410.1 263.7h0M410.1 266.9h0M412.7 266.3h0M420.2 266.7h0M414.6 269.1h0M420.2 269.8h0M422.1 272.3h0M375.7 298.4h0M367.9 301.6h0M369.8 301.1h0M371.1 303.5h0M377.5 302.9h0"/><path stroke="#00ccff" d="M331.8 223.6h0M334.5 223.0h0M336.4 226.0h0M339.6 224.7h0M382.6 225.1h0M388.9 225.8h0M386.7 227.3h0M388.2 227.7h0M391.4 227.2h0M373.3 231.0h0M397.0 233.0h0M373.1 236.3h0M378.2 235.4h0M386.0 236.3h0M398.9 235.6h0M406.7 239.0h0M409.0 238.7h0M386.1 240.2h0M388.4 241.2h0M385.4 244.2h0M388.0 243.4h0M408.7 243.4h0M385.3 246.8h0M387.9 246.9h0M375.1 251.9h0M401.0 251.7h0M403.6 251.1h0M406.4 256.4h0M409.5 256.6h0M417.7 258.5h0"/><path stroke="#00e5ff" d="M346.8 220.6h0M347.4 222.9h0M349.5 225.8h0M334.3 227.5h0M335.9 230.0h0M338.7 230.8h0M378.3 230.2h0M380.3 231.0h0M383.7 231.2h0M370.1 233.4h0M378.0 232.9h0M380.3 232.7h0M383.7 232.9h0M385.5 232.7h0M389.3 232.8h0M380.6 236.4h0M383.4 236.2h0M388.0 235.2h0M391.2 236.5h0M394.1 235.6h0M404.3 235.9h0M371.0 238.5h0M374.9 239.0h0M377.9 238.2h0M381.3 238.8h0M382.9 238.7h0M385.4 238.9h0M388.4 238.0h0M402.4 238.0h0M373.7 241.3h0M378.1 240.5h0M380.1 240.9h0M382.8 241.5h0M398.2 241.1h0M402.0 241.6h0M404.1 241.1h0M406.4 240.5h0M378.7 243.6h0M398.4 244.3h0M373.7 246.7h0M375.8 245.7h0M378.6 246.4h0M381.3 245.6h0M401.7 246.2h0M405.0 245.7h0M406.4 246.0h0M409.4 245.4h0M398.5 248.9h0M401.3 248.9h0M403.5 249.4h0M407.0 249.0h0M408.7 249.1h0M407.2 250.7h0M409.2 251.7h0M399.3 254.5h0M406.7 253.4h0M409.7 253.3h0M404.3 256.2h0"/><path stroke="#00ffff" d="M333.6 225.7h0M342.4 225.4h0M338.4 228.2h0M342.5 231.3h0M341.1 232.9h0M336.6 238.2h0M368.3 238.1h0M401.5 243.7h0M406.2 244.3h0"/><path stroke="#1affe5" d="M362.0 225.7h0M344.9 229.9h0M347.1 231.0h0M337.1 233.5h0M339.3 233.7h0M347.5 233.8h0"/><path stroke="#33ffcc" d="M368.1 225.6h0M347.2 228.7h0M362.7 228.6h0M365.5 227.6h0M367.3 228.4h0M369.7 228.0h0M360.3 230.2h0M363.3 230.1h0M368.0 230.2h0M370.7 230.2h0M361.9 235.8h0M368.1 235.8h0M369.8 236.3h0"/><path stroke="#4dffb2" d="M365.4 231.0h0M361.9 233.5h0M365.0 233.1h0M364.6 235.7h0M341.1 246.5h0"/><path stroke="#66ff99" d="M354.3 233.5h0M336.8 236.3h0M339.4 235.6h0M338.5 239.1h0"/><path stroke="#80ff80" d="M354.1 236.0h0M350.2 237.9h0"/><path stroke="#99ff66" d="M343.7 233.8h0M341.6 236.4h0M346.8 236.3h0M346.5 238.4h0M344.4 241.6h0M347.2 240.9h0M339.5 243.8h0M341.5 243.3h0M345.2 243.0h0M344.3 245.5h0"/><path stroke="#b3ff4c" d="M343.7 235.9h0M341.1 238.8h0M344.8 238.0h0M339.9 241.3h0M342.1 240.5h0"/></g><g stroke-width="7" stroke-linecap="round" fill="none"></g><use href="#map"/><text x="216.0" y="77.0" font-size="13" font-weight="bold" fill="#262626" stroke="#262626" stroke-width="0.35" textLength="24.4" lengthAdjust="spacingAndGlyphs">100</text><circle cx="245.0" cy="64.4" r="1.4" fill="none" stroke="#262626" stroke-width="0.85"/><text x="252.8" y="77.0" font-size="13" font-weight="bold" fill="#262626" stroke="#262626" stroke-width="0.35" textLength="12.8" lengthAdjust="spacingAndGlyphs">W</text><text x="284.8" y="77.0" font-size="13" font-weight="bold" fill="#262626" stroke="#262626" stroke-width="0.35" textLength="15.6" lengthAdjust="spacingAndGlyphs">90</text><circle cx="305.0" cy="64.4" r="1.4" fill="none" stroke="#262626" stroke-width="0.85"/><text x="313.6" y="77.0" font-size="13" font-weight="bold" fill="#262626" stroke="#262626" stroke-width="0.35" textLength="12.8" lengthAdjust="spacingAndGlyphs">W</text><text x="348.8" y="77.0" font-size="13" font-weight="bold" fill="#262626" stroke="#262626" stroke-width="0.35" textLength="16.6" lengthAdjust="spacingAndGlyphs">80</text><circle cx="370.0" cy="64.4" r="1.4" fill="none" stroke="#262626" stroke-width="0.85"/><text x="377.6" y="77.0" font-size="13" font-weight="bold" fill="#262626" stroke="#262626" stroke-width="0.35" textLength="13.2" lengthAdjust="spacingAndGlyphs">W</text><text x="412.0" y="77.0" font-size="13" font-weight="bold" fill="#262626" stroke="#262626" stroke-width="0.35" textLength="15.2" lengthAdjust="spacingAndGlyphs">70</text><circle cx="432.0" cy="64.4" r="1.4" fill="none" stroke="#262626" stroke-width="0.85"/><text x="440.6" y="77.0" font-size="13" font-weight="bold" fill="#262626" stroke="#262626" stroke-width="0.35" textLength="13.0" lengthAdjust="spacingAndGlyphs">W</text><text x="146.7" y="112.9" font-size="13" font-weight="bold" fill="#262626" stroke="#262626" stroke-width="0.35" textLength="16.9" lengthAdjust="spacingAndGlyphs">48</text><circle cx="168.0" cy="99.4" r="1.4" fill="none" stroke="#262626" stroke-width="0.85"/><text x="175.5" y="112.9" font-size="13" font-weight="bold" fill="#262626" stroke="#262626" stroke-width="0.35" textLength="9.4" lengthAdjust="spacingAndGlyphs">N</text><text x="146.7" y="130.8" font-size="13" font-weight="bold" fill="#262626" stroke="#262626" stroke-width="0.35" textLength="16.9" lengthAdjust="spacingAndGlyphs">46</text><circle cx="168.0" cy="118.3" r="1.4" fill="none" stroke="#262626" stroke-width="0.85"/><text x="175.5" y="130.8" font-size="13" font-weight="bold" fill="#262626" stroke="#262626" stroke-width="0.35" textLength="9.4" lengthAdjust="spacingAndGlyphs">N</text><text x="146.7" y="148.2" font-size="13" font-weight="bold" fill="#262626" stroke="#262626" stroke-width="0.35" textLength="16.9" lengthAdjust="spacingAndGlyphs">44</text><circle cx="168.0" cy="135.4" r="1.4" fill="none" stroke="#262626" stroke-width="0.85"/><text x="175.5" y="148.2" font-size="13" font-weight="bold" fill="#262626" stroke="#262626" stroke-width="0.35" textLength="9.4" lengthAdjust="spacingAndGlyphs">N</text><text x="146.7" y="166.5" font-size="13" font-weight="bold" fill="#262626" stroke="#262626" stroke-width="0.35" textLength="16.9" lengthAdjust="spacingAndGlyphs">42</text><circle cx="168.0" cy="153.2" r="1.4" fill="none" stroke="#262626" stroke-width="0.85"/><text x="175.5" y="166.5" font-size="13" font-weight="bold" fill="#262626" stroke="#262626" stroke-width="0.35" textLength="9.4" lengthAdjust="spacingAndGlyphs">N</text><text x="146.7" y="183.2" font-size="13" font-weight="bold" fill="#262626" stroke="#262626" stroke-width="0.35" textLength="16.9" lengthAdjust="spacingAndGlyphs">40</text><circle cx="168.0" cy="170.3" r="1.4" fill="none" stroke="#262626" stroke-width="0.85"/><text x="175.5" y="183.2" font-size="13" font-weight="bold" fill="#262626" stroke="#262626" stroke-width="0.35" textLength="9.4" lengthAdjust="spacingAndGlyphs">N</text><text x="146.7" y="198.3" font-size="13" font-weight="bold" fill="#262626" stroke="#262626" stroke-width="0.35" textLength="16.9" lengthAdjust="spacingAndGlyphs">38</text><circle cx="168.0" cy="185.5" r="1.4" fill="none" stroke="#262626" stroke-width="0.85"/><text x="175.5" y="198.3" font-size="13" font-weight="bold" fill="#262626" stroke="#262626" stroke-width="0.35" textLength="9.4" lengthAdjust="spacingAndGlyphs">N</text><text x="146.7" y="215.5" font-size="13" font-weight="bold" fill="#262626" stroke="#262626" stroke-width="0.35" textLength="16.9" lengthAdjust="spacingAndGlyphs">36</text><circle cx="168.0" cy="201.5" r="1.4" fill="none" stroke="#262626" stroke-width="0.85"/><text x="175.5" y="215.5" font-size="13" font-weight="bold" fill="#262626" stroke="#262626" stroke-width="0.35" textLength="9.4" lengthAdjust="spacingAndGlyphs">N</text><text x="146.7" y="229.1" font-size="13" font-weight="bold" fill="#262626" stroke="#262626" stroke-width="0.35" textLength="16.9" lengthAdjust="spacingAndGlyphs">34</text><circle cx="168.0" cy="216.2" r="1.4" fill="none" stroke="#262626" stroke-width="0.85"/><text x="175.5" y="229.1" font-size="13" font-weight="bold" fill="#262626" stroke="#262626" stroke-width="0.35" textLength="9.4" lengthAdjust="spacingAndGlyphs">N</text><text x="146.7" y="245.8" font-size="13" font-weight="bold" fill="#262626" stroke="#262626" stroke-width="0.35" textLength="16.9" lengthAdjust="spacingAndGlyphs">32</text><circle cx="168.0" cy="233.2" r="1.4" fill="none" stroke="#262626" stroke-width="0.85"/><text x="175.5" y="245.8" font-size="13" font-weight="bold" fill="#262626" stroke="#262626" stroke-width="0.35" textLength="9.4" lengthAdjust="spacingAndGlyphs">N</text><text x="146.7" y="260.0" font-size="13" font-weight="bold" fill="#262626" stroke="#262626" stroke-width="0.35" textLength="16.9" lengthAdjust="spacingAndGlyphs">30</text><circle cx="168.0" cy="247.3" r="1.4" fill="none" stroke="#262626" stroke-width="0.85"/><text x="175.5" y="260.0" font-size="13" font-weight="bold" fill="#262626" stroke="#262626" stroke-width="0.35" textLength="9.4" lengthAdjust="spacingAndGlyphs">N</text><text x="146.7" y="273.7" font-size="13" font-weight="bold" fill="#262626" stroke="#262626" stroke-width="0.35" textLength="16.9" lengthAdjust="spacingAndGlyphs">28</text><circle cx="168.0" cy="260.5" r="1.4" fill="none" stroke="#262626" stroke-width="0.85"/><text x="175.5" y="273.7" font-size="13" font-weight="bold" fill="#262626" stroke="#262626" stroke-width="0.35" textLength="9.4" lengthAdjust="spacingAndGlyphs">N</text><text x="146.7" y="287.7" font-size="13" font-weight="bold" fill="#262626" stroke="#262626" stroke-width="0.35" textLength="16.9" lengthAdjust="spacingAndGlyphs">26</text><circle cx="168.0" cy="274.1" r="1.4" fill="none" stroke="#262626" stroke-width="0.85"/><text x="175.5" y="287.7" font-size="13" font-weight="bold" fill="#262626" stroke="#262626" stroke-width="0.35" textLength="9.4" lengthAdjust="spacingAndGlyphs">N</text><text x="146.7" y="301.1" font-size="13" font-weight="bold" fill="#262626" stroke="#262626" stroke-width="0.35" textLength="16.9" lengthAdjust="spacingAndGlyphs">24</text><circle cx="168.0" cy="288.9" r="1.4" fill="none" stroke="#262626" stroke-width="0.85"/><text x="175.5" y="301.1" font-size="13" font-weight="bold" fill="#262626" stroke="#262626" stroke-width="0.35" textLength="9.4" lengthAdjust="spacingAndGlyphs">N</text><text x="146.7" y="314.8" font-size="13" font-weight="bold" fill="#262626" stroke="#262626" stroke-width="0.35" textLength="16.9" lengthAdjust="spacingAndGlyphs">22</text><circle cx="168.0" cy="301.1" r="1.4" fill="none" stroke="#262626" stroke-width="0.85"/><text x="175.5" y="314.8" font-size="13" font-weight="bold" fill="#262626" stroke="#262626" stroke-width="0.35" textLength="9.4" lengthAdjust="spacingAndGlyphs">N</text></g><g transform="translate(0,0)"><rect x="441.2" y="95.2" width="23.6" height="215" fill="url(#jet)" stroke="#262626" stroke-width="0.8"/><line x1="462.5" y1="202.7" x2="464.8" y2="202.7" stroke="#262626" stroke-width="0.8"/><text x="473.9" y="103.3" font-size="22" font-weight="bold" fill="#262626" stroke="#262626" stroke-width="0.45" textLength="42.5" lengthAdjust="spacingAndGlyphs">100</text><text x="474.0" y="210.3" font-size="22" font-weight="bold" fill="#262626" stroke="#262626" stroke-width="0.45" textLength="27.0" lengthAdjust="spacingAndGlyphs">50</text><text x="474.0" y="317.9" font-size="22" font-weight="bold" fill="#262626" stroke="#262626" stroke-width="0.45" textLength="13.0" lengthAdjust="spacingAndGlyphs">0</text></g><text x="140.8" y="341.7" font-size="23" font-weight="bold" fill="#262626" stroke="#262626" stroke-width="0.45" textLength="333.6" lengthAdjust="spacingAndGlyphs">SAT 200 hPa RH (Percent)</text></g><g transform="translate(842.2,0)"><g transform="translate(195.6,203.0) scale(1.0026,1.007) translate(-195.6,-202.85)"><rect x="195.6" y="96.4" width="234.1" height="213.0" fill="none" stroke="#000" stroke-width="1"/><g stroke-width="5.4" stroke-linecap="round" fill="none"><path stroke="#0000e6" d="M427.1 179.4h0M419.5 180.9h0M424.2 181.2h0M427.4 181.8h0M430.0 181.4h0M423.0 183.7h0M427.6 184.2h0M425.8 186.4h0M385.9 295.5h0M384.2 297.8h0M385.3 298.2h0M403.5 298.7h0M384.0 301.1h0M391.8 300.0h0M393.7 301.5h0M397.0 301.2h0M398.4 301.0h0M381.0 302.8h0M383.2 304.0h0M388.7 303.3h0M390.6 302.9h0M393.6 303.5h0M396.4 303.5h0M400.9 303.4h0M383.6 306.0h0M385.8 306.1h0M387.9 306.6h0M393.5 306.7h0M396.4 305.4h0M380.6 308.0h0M382.9 308.8h0M386.5 308.1h0M391.7 308.2h0M393.0 308.0h0M396.6 309.0h0M398.6 308.9h0M402.4 307.9h0"/><path stroke="#0000ff" d="M419.9 184.4h0M424.6 183.2h0M427.3 188.6h0M383.6 291.1h0M391.1 293.6h0M383.6 296.3h0M396.7 296.1h0M387.9 298.5h0M391.0 297.7h0M394.6 297.9h0M388.7 300.7h0M385.6 304.1h0M399.2 303.6h0M376.0 305.6h0M380.5 305.7h0M391.0 306.4h0M375.4 307.9h0M389.2 309.0h0"/><path stroke="#0019ff" d="M417.2 181.0h0M414.2 185.7h0M419.6 186.7h0M422.6 186.4h0M427.4 186.2h0M429.9 186.6h0M423.1 189.4h0M425.4 189.3h0M429.5 188.5h0M424.9 190.9h0M428.2 191.6h0M344.9 212.2h0M346.8 212.6h0M346.9 215.0h0M344.5 217.4h0M344.9 220.4h0M344.4 223.5h0M346.6 230.7h0M351.9 231.2h0M347.5 265.0h0M349.0 269.9h0M367.7 280.8h0M404.9 280.1h0M399.2 282.8h0M406.3 282.6h0M373.0 284.8h0M391.7 285.1h0M399.1 284.4h0M375.5 287.7h0M381.2 287.1h0M383.9 287.9h0M394.0 288.4h0M404.3 287.9h0M372.8 289.6h0M378.3 290.9h0M386.3 289.6h0M388.8 290.4h0M391.6 291.0h0M393.4 289.8h0M373.1 292.4h0M383.5 292.4h0M386.7 292.7h0M394.2 292.8h0M396.1 293.3h0M403.5 292.8h0M376.4 295.3h0M378.4 295.5h0M381.3 295.8h0M389.4 295.0h0M391.2 295.8h0M398.2 295.8h0M374.9 298.2h0M377.9 298.0h0M380.1 298.9h0M397.2 298.3h0M399.0 298.2h0M402.0 298.7h0M419.4 298.9h0M371.1 301.3h0M375.7 300.2h0M381.6 301.4h0M386.4 300.6h0M402.1 300.8h0M404.0 300.0h0M406.7 300.9h0M409.1 301.3h0M415.1 300.2h0M419.1 301.4h0M364.5 303.1h0M377.6 303.0h0M403.9 303.7h0M407.1 303.3h0M412.8 302.8h0M419.2 303.4h0M363.0 306.7h0M368.4 305.2h0M372.3 306.3h0M377.7 305.6h0M398.5 306.4h0M402.2 305.4h0M403.7 305.7h0M407.4 306.5h0M409.6 305.5h0M362.1 308.0h0M364.6 309.1h0M373.6 308.8h0M406.8 309.2h0M411.5 308.8h0"/><path stroke="#0033ff" d="M422.2 181.9h0M419.8 188.2h0M421.9 194.2h0M426.9 193.4h0M429.9 194.3h0M427.0 198.9h0M349.5 209.4h0M351.8 212.9h0M343.8 214.2h0M347.7 217.8h0M346.5 220.1h0M346.8 222.0h0M344.3 225.8h0M347.1 225.2h0M349.4 225.7h0M341.6 227.4h0M343.9 228.1h0M347.4 227.7h0M349.7 228.3h0M344.6 231.2h0M349.5 229.9h0M343.7 233.7h0M347.1 259.9h0M350.4 271.5h0M351.7 272.1h0M349.3 275.5h0M354.4 276.9h0M364.9 277.4h0M399.2 278.2h0M361.9 279.9h0M365.5 279.6h0M377.8 280.7h0M359.8 283.3h0M365.8 282.4h0M367.1 282.5h0M383.8 282.4h0M412.3 283.3h0M362.1 285.1h0M364.8 285.3h0M367.5 285.2h0M382.8 285.5h0M388.9 285.3h0M396.7 284.6h0M404.7 285.3h0M409.1 284.9h0M363.0 287.6h0M367.8 288.2h0M371.1 288.6h0M373.3 288.5h0M389.3 287.6h0M391.5 288.6h0M368.5 290.6h0M375.3 290.4h0M396.2 290.8h0M399.5 289.9h0M375.8 292.9h0M378.6 293.4h0M381.6 292.6h0M389.2 293.2h0M398.7 292.8h0M407.3 293.3h0M416.8 292.5h0M393.4 295.2h0M402.1 296.3h0M403.4 295.1h0M406.9 295.1h0M408.9 296.3h0M413.9 295.2h0M417.6 296.3h0M419.3 294.8h0M370.0 297.5h0M406.3 298.7h0M416.5 298.6h0M378.5 301.3h0M411.2 301.0h0M416.4 300.8h0M359.8 304.2h0M370.5 302.9h0M375.8 303.0h0M409.8 303.4h0M414.9 303.3h0M417.4 304.1h0M365.2 305.4h0M369.6 306.6h0M413.9 305.7h0M417.9 306.7h0M419.6 306.3h0M377.4 308.1h0M404.7 309.2h0"/><path stroke="#004dff" d="M378.7 192.0h0M425.8 196.5h0M427.5 196.6h0M429.5 200.1h0M346.4 205.0h0M342.3 217.6h0M342.2 225.4h0M341.0 230.4h0M344.3 238.3h0M367.9 253.6h0M363.4 256.8h0M372.7 256.9h0M362.3 274.6h0M360.8 276.8h0M404.7 277.6h0M406.1 276.7h0M393.7 279.7h0M409.2 280.6h0M379.0 282.8h0M396.1 283.1h0M386.4 287.3h0M401.7 290.0h0M404.7 290.4h0M372.7 296.3h0M372.5 300.9h0M373.8 303.5h0M412.4 305.3h0M414.2 309.2h0"/><path stroke="#0066ff" d="M370.2 191.6h0M372.5 191.6h0M388.4 191.2h0M370.8 194.5h0M373.3 193.4h0M380.3 194.0h0M365.1 196.2h0M368.4 196.6h0M373.7 196.6h0M375.5 197.6h0M377.7 196.3h0M383.2 197.5h0M365.6 199.5h0M370.3 199.0h0M373.2 198.7h0M376.3 200.1h0M383.7 200.0h0M385.2 198.8h0M365.1 202.7h0M370.5 202.2h0M375.0 201.3h0M378.8 202.5h0M383.4 202.1h0M386.1 202.7h0M388.5 201.7h0M370.0 204.1h0M371.0 207.3h0M388.2 207.4h0M339.1 209.2h0M351.6 209.8h0M338.5 211.9h0M350.1 212.4h0M354.7 211.7h0M338.9 214.3h0M350.1 214.3h0M339.4 218.0h0M354.1 217.7h0M354.6 230.9h0M339.2 233.2h0M351.4 233.5h0M338.7 240.3h0M346.7 262.1h0M368.0 261.6h0M349.8 264.2h0M355.2 266.3h0M352.5 269.1h0M354.4 270.2h0M355.1 272.1h0M362.0 271.5h0M352.3 275.4h0M356.9 274.6h0M403.8 275.6h0M370.6 277.9h0M377.4 277.7h0M380.4 277.5h0M389.0 277.9h0M391.8 276.8h0M394.6 277.1h0M396.9 277.0h0M412.0 278.1h0M373.3 279.4h0M374.9 280.7h0M380.6 280.3h0M382.8 280.7h0M391.1 280.3h0M397.0 280.6h0M363.0 282.4h0M370.1 283.2h0M372.4 282.3h0M385.4 282.7h0M388.8 281.9h0M391.9 282.2h0M393.1 282.2h0M401.9 283.1h0M403.7 283.0h0M409.8 282.1h0M414.8 282.5h0M369.9 285.4h0M375.1 284.7h0M380.4 284.8h0M386.5 285.3h0M394.1 285.7h0M401.3 284.9h0M407.4 285.8h0M417.2 285.6h0M378.7 287.2h0M397.1 287.3h0M398.5 287.9h0M401.8 288.3h0M406.9 287.4h0M406.1 290.8h0M400.9 293.3h0M409.3 292.9h0M411.7 292.9h0M357.8 295.9h0M365.0 295.9h0M412.1 295.5h0M425.7 294.8h0M358.0 298.4h0M360.4 297.5h0M363.3 298.6h0M365.6 297.7h0M372.2 297.5h0M412.1 298.2h0M424.6 299.0h0M359.5 300.9h0M362.0 300.8h0M365.9 301.2h0M367.2 300.1h0M424.9 300.9h0M362.5 303.9h0M368.1 304.1h0M427.5 303.2h0M422.3 306.3h0M426.9 306.5h0M368.1 309.1h0M408.6 308.8h0M417.6 308.9h0"/><path stroke="#0080ff" d="M416.8 186.5h0M363.1 194.8h0M378.2 194.4h0M414.9 194.2h0M370.5 197.3h0M362.3 199.5h0M367.6 199.2h0M378.3 200.0h0M388.3 199.7h0M352.6 202.0h0M380.7 202.2h0M360.4 204.8h0M361.8 203.9h0M365.2 204.1h0M373.8 204.5h0M374.8 204.3h0M378.7 204.3h0M391.9 205.1h0M348.9 207.8h0M352.1 207.2h0M354.4 207.8h0M356.8 207.3h0M360.5 207.9h0M362.7 207.7h0M364.5 207.2h0M373.6 207.5h0M337.3 209.1h0M364.7 209.1h0M336.6 215.5h0M359.7 214.8h0M337.1 219.7h0M339.1 220.9h0M352.8 222.8h0M352.0 227.7h0M355.2 227.7h0M358.0 228.2h0M338.7 231.0h0M358.1 231.3h0M336.6 233.3h0M341.2 233.0h0M355.0 233.3h0M349.3 235.4h0M347.2 239.2h0M339.2 244.2h0M357.0 257.4h0M344.1 258.4h0M362.7 259.1h0M368.2 258.7h0M370.9 258.7h0M349.2 262.2h0M364.7 261.6h0M352.3 264.8h0M365.8 264.4h0M367.3 263.8h0M369.8 264.2h0M352.5 266.9h0M359.5 267.0h0M365.3 266.5h0M371.1 267.2h0M359.5 270.1h0M377.5 270.1h0M356.8 272.6h0M359.2 271.4h0M374.9 271.9h0M360.7 274.3h0M373.6 274.2h0M378.6 274.3h0M390.6 275.2h0M393.7 275.1h0M399.1 274.7h0M375.9 277.3h0M385.6 278.1h0M409.6 277.8h0M417.9 278.1h0M420.4 278.0h0M370.3 280.2h0M385.7 280.0h0M388.1 279.9h0M411.8 279.9h0M417.5 280.1h0M351.8 281.9h0M374.8 283.3h0M380.6 282.2h0M378.4 285.4h0M417.7 288.4h0M420.1 287.6h0M420.3 290.4h0M427.9 293.2h0M360.7 294.9h0M427.3 298.7h0M427.4 301.6h0M424.3 303.3h0M370.2 308.4h0M421.7 308.5h0"/><path stroke="#0099ff" d="M404.6 183.5h0M414.5 183.5h0M417.9 184.6h0M382.8 189.7h0M386.4 188.9h0M389.3 188.7h0M393.2 189.2h0M380.1 192.3h0M423.2 192.0h0M386.3 194.2h0M389.2 197.1h0M368.0 202.0h0M382.7 205.0h0M386.4 205.2h0M388.8 205.2h0M386.3 206.8h0M375.5 209.8h0M357.9 212.5h0M351.5 226.1h0M364.9 226.1h0M359.8 233.7h0M339.6 235.6h0M354.6 236.0h0M339.8 239.1h0M367.6 252.0h0M349.2 255.9h0M360.5 264.1h0M362.4 264.7h0M368.4 266.3h0M378.6 272.8h0M355.2 275.5h0M375.9 275.4h0M409.0 275.1h0M414.5 274.0h0M351.5 278.0h0M363.1 278.2h0M383.0 276.8h0M414.8 276.8h0M400.9 280.1h0M417.5 282.0h0M419.9 282.8h0M412.2 287.1h0M413.9 288.2h0M369.7 291.1h0M380.5 289.9h0M411.8 290.2h0M359.3 293.0h0M370.9 292.7h0M414.5 293.3h0M425.4 293.7h0M427.8 295.7h0M414.0 298.4h0M422.5 298.2h0M422.6 304.1h0"/><path stroke="#00b2ff" d="M398.7 184.6h0M406.5 184.3h0M409.7 184.4h0M412.3 184.1h0M387.8 187.2h0M393.1 186.8h0M396.7 186.3h0M398.6 186.2h0M401.7 186.3h0M412.4 186.4h0M378.3 189.6h0M380.6 188.8h0M391.4 189.2h0M399.1 189.0h0M414.5 189.3h0M417.3 188.5h0M382.6 191.1h0M386.5 191.1h0M392.0 191.8h0M396.3 191.9h0M399.2 192.1h0M401.6 191.2h0M417.8 192.3h0M419.9 191.2h0M376.0 193.8h0M384.0 194.5h0M391.3 193.8h0M393.8 194.0h0M395.6 193.8h0M411.4 193.8h0M416.5 193.5h0M419.1 195.0h0M381.1 197.5h0M386.6 196.3h0M393.9 196.2h0M416.8 196.8h0M381.5 198.8h0M373.4 201.7h0M429.8 202.6h0M368.0 204.0h0M380.5 205.1h0M375.4 207.2h0M378.6 206.5h0M380.4 207.5h0M382.6 207.6h0M370.6 209.7h0M373.1 209.0h0M378.1 210.2h0M380.6 210.4h0M384.0 209.9h0M386.2 209.8h0M387.9 209.0h0M378.0 212.0h0M381.5 211.9h0M382.7 212.2h0M386.7 213.2h0M391.6 214.9h0M359.7 224.7h0M375.3 230.6h0M342.0 245.7h0M343.6 246.4h0M349.5 254.5h0M346.7 256.4h0M383.5 267.3h0M383.5 272.5h0M386.0 272.5h0M390.6 272.5h0M381.3 274.5h0M383.3 275.3h0M385.3 275.2h0M388.0 274.9h0M357.4 276.9h0M352.0 280.7h0M355.0 279.5h0M358.0 279.3h0M359.3 279.6h0M354.3 282.0h0M357.7 282.5h0M422.5 282.8h0M354.5 284.9h0M358.0 284.4h0M360.2 284.6h0M411.6 285.0h0M413.9 284.6h0M422.0 285.1h0M364.9 288.0h0M408.9 288.2h0M424.4 287.7h0M428.1 288.1h0M360.7 290.0h0M362.7 290.7h0M364.9 290.9h0M409.1 290.9h0M415.3 290.7h0M416.6 290.4h0M422.9 291.1h0M424.7 290.9h0M427.9 290.2h0M365.0 292.9h0M367.2 292.2h0M419.7 292.4h0M422.8 293.5h0M363.2 296.0h0M367.3 295.7h0M370.2 295.2h0M422.1 295.5h0M367.4 298.5h0M408.7 297.7h0M421.9 301.0h0M429.5 300.0h0M429.5 306.0h0M419.8 308.1h0M427.0 308.0h0"/><path stroke="#00ccff" d="M404.7 186.0h0M412.6 189.5h0M374.9 191.3h0M409.3 191.7h0M364.6 194.6h0M388.3 195.0h0M400.8 194.3h0M408.7 194.1h0M425.8 194.9h0M391.6 197.2h0M409.2 196.1h0M422.6 197.2h0M395.8 198.7h0M417.7 199.1h0M362.6 202.1h0M391.0 201.8h0M406.3 201.2h0M354.4 205.2h0M391.0 206.8h0M354.3 209.3h0M359.6 210.3h0M391.2 209.7h0M367.7 211.7h0M369.8 213.0h0M373.4 212.4h0M391.3 212.9h0M371.2 214.5h0M373.8 214.5h0M375.7 215.4h0M377.5 215.5h0M381.3 214.9h0M386.3 215.0h0M389.3 214.9h0M399.7 215.3h0M375.8 217.2h0M380.7 217.0h0M388.9 217.7h0M394.0 222.8h0M336.7 229.9h0M365.5 230.4h0M365.5 248.2h0M349.7 251.6h0M360.7 262.0h0M380.6 263.8h0M349.0 266.4h0M381.4 266.2h0M385.7 266.8h0M388.8 266.3h0M375.5 270.2h0M386.5 269.3h0M388.6 269.2h0M425.3 269.9h0M373.3 277.2h0M399.6 280.2h0M427.7 285.6h0M357.0 288.0h0M422.0 287.7h0M357.0 290.5h0M424.8 309.3h0"/><path stroke="#00e5ff" d="M407.0 186.6h0M409.3 186.6h0M396.5 189.0h0M401.9 188.3h0M404.3 189.6h0M406.7 188.6h0M409.7 189.6h0M368.1 191.6h0M393.8 192.2h0M404.2 192.1h0M406.7 192.3h0M411.8 190.8h0M414.9 192.1h0M368.3 194.5h0M399.8 194.3h0M403.8 193.7h0M406.6 193.6h0M350.3 197.1h0M352.0 196.5h0M354.3 197.3h0M356.8 197.2h0M359.7 196.6h0M362.2 196.3h0M396.1 196.5h0M399.7 197.0h0M400.9 197.1h0M404.1 196.6h0M407.0 196.2h0M419.6 196.8h0M349.7 199.1h0M352.1 199.8h0M355.1 199.5h0M357.0 200.1h0M360.0 200.2h0M391.1 198.9h0M393.8 199.8h0M398.7 199.7h0M401.6 199.9h0M403.5 199.5h0M408.8 198.7h0M415.0 199.1h0M421.6 199.0h0M424.3 199.5h0M354.5 202.1h0M356.9 201.3h0M360.7 202.0h0M394.6 202.4h0M396.5 201.5h0M398.7 201.8h0M402.0 201.5h0M404.2 201.7h0M408.6 202.0h0M427.6 202.7h0M349.3 205.1h0M352.2 204.8h0M356.7 205.1h0M394.1 203.8h0M399.1 205.1h0M404.8 205.0h0M428.3 204.7h0M429.8 204.1h0M367.0 207.9h0M394.1 206.5h0M397.1 207.8h0M398.4 206.6h0M345.1 209.7h0M358.0 210.3h0M363.0 209.6h0M367.5 209.3h0M394.1 210.2h0M397.1 210.3h0M360.7 212.0h0M362.2 211.9h0M365.1 212.9h0M387.8 212.2h0M393.3 213.1h0M395.9 212.2h0M364.6 215.0h0M393.2 214.8h0M365.7 217.6h0M378.5 217.5h0M393.1 217.3h0M396.8 217.9h0M365.8 220.0h0M367.4 220.4h0M390.8 220.1h0M393.5 220.4h0M397.0 220.0h0M365.2 222.1h0M368.6 223.6h0M398.6 222.4h0M363.0 225.1h0M368.1 224.6h0M360.3 227.8h0M362.5 227.4h0M365.8 227.9h0M370.3 228.2h0M372.9 228.6h0M375.9 228.0h0M378.5 228.7h0M383.1 228.5h0M360.4 230.6h0M363.2 231.4h0M370.4 230.3h0M373.7 230.1h0M378.2 230.6h0M380.2 230.5h0M383.1 230.2h0M365.3 233.9h0M367.2 233.6h0M373.6 232.6h0M378.2 232.6h0M394.2 238.2h0M393.9 241.3h0M422.2 248.6h0M425.3 248.9h0M362.4 251.8h0M365.0 251.7h0M370.6 251.4h0M419.8 251.4h0M422.5 251.4h0M424.3 251.7h0M426.9 251.5h0M429.7 252.2h0M364.6 254.6h0M412.7 253.8h0M422.5 253.4h0M425.4 254.6h0M427.6 253.4h0M365.5 257.0h0M368.2 256.4h0M370.4 256.6h0M375.2 255.9h0M378.9 257.2h0M425.6 255.9h0M348.8 259.4h0M352.1 258.9h0M357.1 258.5h0M359.4 258.8h0M365.9 259.4h0M373.0 259.3h0M425.4 258.6h0M428.3 259.2h0M352.3 261.3h0M354.0 261.9h0M357.4 262.4h0M361.9 261.6h0M371.1 262.6h0M373.8 261.2h0M388.2 262.1h0M391.6 262.2h0M355.2 264.1h0M357.4 264.0h0M373.4 264.8h0M377.6 263.7h0M386.6 265.2h0M388.5 265.2h0M426.9 264.4h0M356.8 267.6h0M373.5 266.7h0M376.3 266.7h0M378.9 266.9h0M425.6 267.1h0M369.9 268.9h0M372.5 270.1h0M381.5 268.9h0M383.9 268.8h0M393.0 268.9h0M422.6 270.1h0M427.6 269.9h0M430.0 269.2h0M373.8 272.0h0M388.2 271.5h0M394.3 272.4h0M396.2 272.1h0M419.8 272.0h0M427.3 272.3h0M395.7 275.2h0M420.5 274.9h0M421.9 274.5h0M424.6 275.2h0M427.7 275.5h0M423.2 276.9h0M425.5 276.7h0M426.9 277.4h0M420.2 280.6h0M421.9 279.8h0M424.3 280.2h0M428.2 279.3h0M429.7 279.4h0M424.8 282.9h0M428.2 282.8h0M429.8 282.6h0M352.9 285.8h0M419.6 285.2h0M425.5 284.5h0M354.6 288.4h0M359.3 288.4h0M429.5 287.5h0M355.3 290.8h0M356.7 293.0h0M363.2 293.1h0M424.5 306.6h0"/><path stroke="#00ffff" d="M414.6 197.4h0M346.8 201.2h0M414.7 202.7h0M422.0 202.6h0M424.8 202.6h0M396.1 204.7h0M417.3 204.2h0M419.2 204.1h0M425.5 204.8h0M401.0 207.6h0M407.1 206.5h0M399.7 209.5h0M424.6 209.3h0M401.4 211.8h0M367.9 215.7h0M396.0 214.7h0M368.4 217.4h0M391.1 218.0h0M360.0 219.5h0M362.5 219.8h0M370.7 219.6h0M399.2 220.1h0M357.6 223.3h0M363.2 222.2h0M370.0 222.3h0M387.9 225.8h0M391.0 225.7h0M394.1 225.6h0M368.0 228.1h0M386.3 227.2h0M388.5 227.6h0M388.7 230.5h0M376.0 233.2h0M380.0 233.6h0M383.6 232.8h0M386.1 232.7h0M390.5 233.6h0M344.8 235.4h0M364.9 235.5h0M367.1 235.5h0M370.8 236.1h0M373.7 236.5h0M375.8 235.4h0M378.3 235.2h0M384.1 235.2h0M391.5 238.1h0M397.0 238.9h0M396.8 241.5h0M386.8 242.9h0M388.2 243.1h0M419.4 243.9h0M363.3 246.5h0M401.9 246.2h0M430.1 246.6h0M362.2 249.4h0M367.3 249.2h0M372.4 249.3h0M401.0 248.6h0M427.8 248.1h0M352.1 254.2h0M362.1 254.5h0M371.0 253.9h0M375.6 254.6h0M359.8 255.9h0M427.1 256.9h0M355.5 259.8h0M376.0 258.7h0M378.2 259.0h0M380.2 258.8h0M376.4 261.3h0M378.4 261.4h0M429.9 261.7h0M391.1 264.0h0M420.1 264.1h0M425.5 264.7h0M391.4 266.8h0M395.7 266.5h0M399.1 267.6h0M420.3 267.3h0M426.9 266.5h0M390.5 270.1h0M396.9 269.4h0M417.7 269.4h0M420.1 268.9h0M365.3 271.5h0M399.7 272.5h0M403.4 272.1h0M424.4 271.9h0M402.2 274.8h0M416.8 275.3h0M414.0 280.0h0"/><path stroke="#1affe5" d="M412.4 196.4h0M407.4 200.0h0M412.6 198.8h0M419.2 199.6h0M412.3 201.6h0M417.0 202.0h0M419.8 202.2h0M402.3 204.3h0M407.4 205.0h0M411.7 204.4h0M404.5 207.1h0M409.3 207.5h0M401.9 209.4h0M404.2 210.6h0M411.4 209.2h0M404.6 213.1h0M362.8 215.1h0M404.1 215.2h0M398.4 217.2h0M403.7 220.5h0M374.9 222.6h0M369.7 225.6h0M379.0 226.1h0M398.7 227.6h0M393.8 231.3h0M399.3 233.4h0M341.2 235.6h0M393.4 235.6h0M341.4 238.7h0M341.6 241.5h0M344.3 240.9h0M401.8 240.8h0M414.2 240.7h0M417.5 241.7h0M343.8 242.9h0M414.4 243.7h0M373.4 246.6h0M412.5 246.5h0M414.4 245.5h0M417.2 246.6h0M420.1 245.6h0M355.5 248.7h0M393.3 248.6h0M404.1 248.0h0M406.1 248.8h0M412.4 248.8h0M413.8 248.4h0M417.2 248.4h0M420.0 248.6h0M355.6 252.2h0M373.4 250.7h0M375.2 251.9h0M377.9 250.6h0M404.0 251.6h0M406.9 250.8h0M409.6 251.2h0M411.9 251.8h0M414.7 251.4h0M417.6 252.2h0M378.0 253.4h0M407.1 253.8h0M409.4 254.2h0M414.0 253.6h0M416.7 254.3h0M420.4 254.2h0M403.8 257.1h0M408.8 256.3h0M416.4 257.2h0M422.9 256.9h0M429.9 257.0h0M396.5 259.7h0M404.7 258.8h0M422.0 258.8h0M429.5 259.1h0M385.3 261.1h0M402.2 262.2h0M406.5 261.1h0M424.2 261.5h0M427.0 261.3h0M404.7 263.7h0M429.4 265.1h0M404.8 267.8h0M421.8 266.7h0M412.6 272.8h0M414.0 273.0h0M416.6 271.6h0M421.7 273.0h0"/><path stroke="#33ffcc" d="M422.2 204.6h0M415.2 207.8h0M423.1 207.8h0M346.5 210.3h0M409.2 209.5h0M399.1 213.1h0M401.9 214.6h0M403.6 217.6h0M413.9 216.9h0M416.8 233.7h0M396.3 236.2h0M412.1 235.6h0M411.9 238.8h0M414.9 238.7h0M417.8 238.0h0M419.4 238.8h0M347.4 240.5h0M349.5 241.0h0M404.2 241.6h0M411.8 240.8h0M350.3 243.7h0M409.2 243.8h0M411.4 244.2h0M346.6 245.5h0M376.1 246.5h0M404.7 245.5h0M407.1 246.7h0M408.6 246.6h0M422.5 246.9h0M375.8 248.6h0M378.7 249.4h0M380.0 249.3h0M399.3 249.4h0M383.8 254.7h0M403.5 253.5h0M398.9 257.1h0M402.0 257.2h0M407.0 257.3h0M412.0 256.2h0M419.1 256.0h0M406.5 259.5h0M410.1 258.8h0M417.7 259.3h0M404.1 262.0h0M411.6 261.8h0M422.9 262.6h0M401.3 264.9h0M406.3 264.2h0M411.4 264.8h0M421.6 264.5h0M363.1 266.4h0M406.8 267.5h0M415.2 267.2h0M416.4 267.5h0M399.2 269.5h0M404.8 269.0h0M412.6 270.3h0M407.0 271.5h0M409.7 272.8h0"/><path stroke="#4dffb2" d="M342.4 201.3h0M411.8 212.6h0M409.8 214.5h0M417.7 236.0h0M419.3 235.6h0M407.6 238.0h0M425.1 238.0h0M352.4 243.4h0M346.9 248.4h0M417.8 261.9h0M408.9 266.4h0M358.1 270.0h0M370.4 275.0h0"/><path stroke="#66ff99" d="M350.0 201.9h0M343.8 204.5h0M338.6 206.5h0M344.0 206.7h0M346.6 206.5h0M342.4 210.1h0M385.6 217.2h0M389.3 220.5h0M391.5 222.3h0M383.1 225.3h0M380.7 227.8h0M386.3 230.9h0M362.7 269.4h0M369.8 272.9h0M365.7 275.0h0M367.4 274.5h0M367.6 276.6h0"/><path stroke="#80ff80" d="M339.4 199.6h0M342.2 199.0h0M344.4 199.1h0M346.9 200.1h0M331.6 202.6h0M340.0 201.4h0M344.0 201.5h0M329.0 204.6h0M330.6 204.0h0M334.3 205.2h0M336.3 204.7h0M341.4 205.2h0M383.2 215.1h0M383.3 218.3h0M381.3 220.7h0M383.4 220.1h0M379.0 222.6h0M383.6 222.1h0M385.6 222.7h0M389.0 223.0h0M385.4 225.2h0M390.6 228.3h0M364.8 269.8h0M368.4 270.0h0M368.1 272.2h0"/><path stroke="#99ff66" d="M328.3 209.1h0M386.5 220.5h0"/><path stroke="#b3ff4c" d="M375.7 212.1h0M342.5 215.3h0M357.1 215.0h0M346.4 233.4h0M375.8 264.4h0M401.1 277.1h0M406.4 279.8h0"/><path stroke="#ccff33" d="M339.1 204.3h0M341.7 207.0h0M429.7 207.1h0M406.2 209.6h0M341.1 212.1h0M352.0 215.7h0M354.7 215.4h0M406.8 215.3h0M349.6 217.3h0M362.8 218.2h0M373.2 217.3h0M341.0 220.4h0M349.3 220.4h0M341.3 222.0h0M349.1 223.5h0M396.2 222.7h0M339.5 228.2h0M368.4 231.0h0M349.6 233.9h0M358.0 233.7h0M363.3 232.5h0M371.2 233.2h0M335.9 236.0h0M346.7 235.7h0M351.6 235.9h0M362.2 235.8h0M409.1 235.0h0M394.5 243.7h0M397.2 243.0h0M402.1 243.0h0M422.2 243.6h0M410.1 248.2h0M429.4 249.5h0M373.3 254.3h0M352.0 256.4h0M355.4 256.1h0M396.6 264.6h0M399.3 264.3h0M416.6 264.7h0M380.5 272.1h0M406.8 274.6h0M412.6 275.5h0"/><path stroke="#e5ff1a" d="M334.5 201.6h0M336.1 202.8h0M408.9 204.0h0M415.1 203.8h0M328.8 206.8h0M332.0 208.0h0M337.3 208.0h0M411.4 207.6h0M427.1 206.6h0M427.8 209.3h0M336.6 212.1h0M406.9 212.9h0M408.7 212.8h0M417.1 212.7h0M334.5 215.3h0M352.8 217.8h0M356.7 217.5h0M360.1 218.1h0M370.0 217.1h0M401.6 217.8h0M406.7 217.8h0M352.9 220.0h0M377.8 220.2h0M401.0 219.5h0M424.7 220.7h0M336.3 222.0h0M339.6 222.1h0M354.6 223.2h0M359.4 222.7h0M372.5 222.0h0M380.4 223.2h0M401.7 223.2h0M414.3 222.7h0M336.2 225.1h0M339.9 226.1h0M354.5 224.7h0M356.8 226.0h0M373.2 225.7h0M375.9 224.7h0M381.6 225.7h0M396.8 225.9h0M401.0 225.9h0M406.3 224.9h0M394.2 227.7h0M396.4 227.6h0M391.4 230.3h0M396.4 230.2h0M398.2 230.5h0M388.0 232.8h0M407.0 232.7h0M356.7 236.4h0M360.6 235.5h0M380.4 236.2h0M385.4 236.3h0M388.4 235.2h0M390.9 235.8h0M398.6 235.6h0M402.3 236.0h0M349.0 239.0h0M352.6 237.9h0M354.7 239.1h0M357.8 238.7h0M360.5 238.6h0M362.1 237.8h0M365.2 238.1h0M378.5 238.0h0M380.3 238.7h0M383.3 238.7h0M399.1 237.8h0M401.3 238.7h0M403.8 238.6h0M409.9 238.5h0M362.3 240.9h0M385.8 240.3h0M388.5 240.6h0M391.5 241.5h0M398.9 240.7h0M408.8 241.0h0M419.7 241.5h0M341.7 243.3h0M347.0 244.3h0M355.5 243.3h0M363.1 243.2h0M364.6 244.2h0M368.5 243.6h0M372.7 244.3h0M376.2 244.0h0M390.6 244.3h0M398.7 244.2h0M404.6 243.4h0M407.6 243.8h0M417.7 243.9h0M427.8 243.7h0M350.0 246.7h0M358.1 246.8h0M360.1 246.2h0M364.5 245.4h0M367.3 245.6h0M370.2 246.5h0M379.0 246.5h0M393.3 246.4h0M396.4 245.4h0M399.6 246.5h0M425.7 246.9h0M427.5 247.0h0M357.5 248.5h0M371.2 249.1h0M396.8 248.1h0M359.9 252.0h0M380.1 250.7h0M401.0 251.3h0M344.0 253.4h0M347.6 254.0h0M357.4 254.7h0M359.6 254.6h0M380.7 253.9h0M390.6 253.7h0M398.6 254.2h0M402.0 254.3h0M344.0 256.1h0M390.8 256.5h0M414.6 256.7h0M399.0 259.2h0M401.7 259.5h0M411.2 260.0h0M419.2 259.3h0M399.5 261.4h0M409.0 262.5h0M419.4 261.5h0M383.1 264.5h0M394.5 264.0h0M409.3 264.5h0M414.1 265.1h0M394.5 266.8h0M401.3 266.7h0M411.8 266.2h0M400.9 269.4h0M407.4 269.5h0M408.6 270.1h0M414.2 269.2h0M402.3 272.6h0"/><path stroke="#ffff00" d="M326.2 207.0h0M334.2 207.5h0M417.7 207.1h0M420.4 207.4h0M425.6 207.7h0M332.2 210.5h0M334.3 209.6h0M414.8 209.7h0M417.9 209.3h0M420.1 210.4h0M422.8 209.5h0M328.2 213.1h0M331.1 212.3h0M334.7 212.9h0M414.6 213.0h0M419.8 212.4h0M422.3 212.1h0M424.6 212.7h0M427.0 212.1h0M328.6 214.3h0M331.4 214.6h0M411.9 214.7h0M414.8 215.3h0M417.7 215.3h0M422.2 215.2h0M424.6 215.6h0M428.0 215.5h0M331.5 217.0h0M334.7 217.8h0M335.9 217.4h0M409.4 217.8h0M411.7 217.9h0M419.9 217.2h0M421.9 217.0h0M425.7 217.1h0M427.5 218.0h0M332.1 220.3h0M333.8 220.3h0M354.2 220.0h0M356.7 220.2h0M373.2 220.7h0M374.9 220.9h0M410.2 220.8h0M412.0 219.6h0M415.0 220.9h0M416.8 220.8h0M420.5 220.8h0M421.9 220.5h0M428.2 220.6h0M430.2 220.8h0M331.5 222.1h0M334.8 222.5h0M404.0 222.4h0M407.5 222.4h0M411.3 222.3h0M417.0 222.0h0M419.2 222.0h0M422.4 223.4h0M424.6 222.3h0M427.4 222.3h0M333.5 224.9h0M398.6 225.8h0M404.3 224.8h0M409.2 224.9h0M412.0 225.9h0M414.4 225.6h0M416.9 224.8h0M420.0 225.9h0M422.9 225.9h0M428.3 225.6h0M333.9 227.6h0M335.9 227.5h0M401.6 228.5h0M404.6 227.6h0M406.9 228.1h0M409.5 227.8h0M411.6 227.7h0M414.4 227.4h0M417.1 227.8h0M419.6 228.5h0M421.9 227.9h0M424.9 228.8h0M426.9 227.9h0M402.1 230.5h0M404.9 230.4h0M407.6 230.2h0M409.8 230.8h0M411.3 230.2h0M414.2 230.8h0M416.9 230.7h0M419.3 231.1h0M422.2 229.9h0M424.3 231.1h0M394.2 233.0h0M396.1 232.5h0M401.2 233.9h0M404.4 233.4h0M409.2 233.6h0M411.9 232.4h0M414.3 232.4h0M420.1 233.3h0M422.8 232.8h0M424.6 233.0h0M428.3 232.7h0M404.0 235.1h0M406.7 235.2h0M414.4 235.1h0M421.6 235.6h0M427.1 235.9h0M367.4 239.2h0M369.8 239.1h0M373.5 238.5h0M375.8 238.8h0M386.3 238.3h0M389.0 237.6h0M422.7 238.6h0M427.7 237.8h0M352.3 241.1h0M354.6 240.9h0M357.7 241.7h0M359.3 240.5h0M365.4 241.7h0M368.5 241.2h0M369.7 241.0h0M372.3 240.7h0M375.2 241.3h0M377.9 240.3h0M380.4 241.3h0M383.4 241.3h0M406.1 241.7h0M423.0 241.0h0M425.6 240.7h0M428.1 241.2h0M357.9 243.1h0M360.5 243.4h0M369.7 243.5h0M377.9 244.0h0M381.2 243.1h0M424.8 244.3h0M351.5 246.3h0M381.6 245.8h0M385.7 246.5h0M388.1 246.7h0M390.4 246.1h0M341.1 248.7h0M343.7 249.5h0M350.4 248.3h0M352.0 248.6h0M359.5 248.4h0M382.9 248.0h0M385.9 249.3h0M391.3 248.1h0M342.4 251.6h0M344.6 252.0h0M346.5 251.1h0M352.6 251.7h0M356.9 250.9h0M383.8 250.9h0M386.7 250.9h0M389.0 251.9h0M391.6 250.6h0M393.2 250.9h0M396.0 251.5h0M398.7 252.1h0M354.7 253.8h0M385.6 254.7h0M388.0 254.1h0M394.5 253.5h0M396.5 254.0h0M380.7 256.0h0M383.6 255.9h0M388.8 257.3h0M394.0 257.3h0M395.9 257.1h0M383.7 259.2h0M386.8 258.4h0M388.6 258.5h0M391.3 259.1h0M393.6 259.8h0M415.2 259.2h0M381.4 261.9h0M383.5 261.9h0M395.7 261.5h0M415.3 261.5h0"/><path stroke="#ffe500" d="M420.0 215.2h0M406.1 220.0h0M408.7 223.5h0M424.7 225.0h0M429.5 227.5h0M428.4 230.4h0M424.3 236.2h0M383.0 243.4h0M354.6 245.6h0M383.2 246.1h0M388.9 248.5h0M385.9 257.1h0"/><path stroke="#ffcc00" d="M416.5 216.9h0M393.5 262.4h0"/></g><g stroke-width="7" stroke-linecap="round" fill="none"></g><use href="#map"/><text x="217.7" y="75.7" font-size="13" font-weight="bold" fill="#262626" stroke="#262626" stroke-width="0.35" textLength="24.4" lengthAdjust="spacingAndGlyphs">100</text><circle cx="246.7" cy="63.2" r="1.4" fill="none" stroke="#262626" stroke-width="0.85"/><text x="254.5" y="75.7" font-size="13" font-weight="bold" fill="#262626" stroke="#262626" stroke-width="0.35" textLength="12.8" lengthAdjust="spacingAndGlyphs">W</text><text x="286.5" y="75.7" font-size="13" font-weight="bold" fill="#262626" stroke="#262626" stroke-width="0.35" textLength="15.6" lengthAdjust="spacingAndGlyphs">90</text><circle cx="306.7" cy="63.2" r="1.4" fill="none" stroke="#262626" stroke-width="0.85"/><text x="315.3" y="75.7" font-size="13" font-weight="bold" fill="#262626" stroke="#262626" stroke-width="0.35" textLength="12.8" lengthAdjust="spacingAndGlyphs">W</text><text x="350.5" y="75.7" font-size="13" font-weight="bold" fill="#262626" stroke="#262626" stroke-width="0.35" textLength="16.6" lengthAdjust="spacingAndGlyphs">80</text><circle cx="371.7" cy="63.2" r="1.4" fill="none" stroke="#262626" stroke-width="0.85"/><text x="379.3" y="75.7" font-size="13" font-weight="bold" fill="#262626" stroke="#262626" stroke-width="0.35" textLength="13.2" lengthAdjust="spacingAndGlyphs">W</text><text x="413.7" y="75.7" font-size="13" font-weight="bold" fill="#262626" stroke="#262626" stroke-width="0.35" textLength="15.2" lengthAdjust="spacingAndGlyphs">70</text><circle cx="433.7" cy="63.2" r="1.4" fill="none" stroke="#262626" stroke-width="0.85"/><text x="442.3" y="75.7" font-size="13" font-weight="bold" fill="#262626" stroke="#262626" stroke-width="0.35" textLength="13.0" lengthAdjust="spacingAndGlyphs">W</text><text x="146.7" y="112.9" font-size="13" font-weight="bold" fill="#262626" stroke="#262626" stroke-width="0.35" textLength="16.9" lengthAdjust="spacingAndGlyphs">48</text><circle cx="168.0" cy="99.4" r="1.4" fill="none" stroke="#262626" stroke-width="0.85"/><text x="175.5" y="112.9" font-size="13" font-weight="bold" fill="#262626" stroke="#262626" stroke-width="0.35" textLength="9.4" lengthAdjust="spacingAndGlyphs">N</text><text x="146.7" y="130.8" font-size="13" font-weight="bold" fill="#262626" stroke="#262626" stroke-width="0.35" textLength="16.9" lengthAdjust="spacingAndGlyphs">46</text><circle cx="168.0" cy="118.3" r="1.4" fill="none" stroke="#262626" stroke-width="0.85"/><text x="175.5" y="130.8" font-size="13" font-weight="bold" fill="#262626" stroke="#262626" stroke-width="0.35" textLength="9.4" lengthAdjust="spacingAndGlyphs">N</text><text x="146.7" y="148.2" font-size="13" font-weight="bold" fill="#262626" stroke="#262626" stroke-width="0.35" textLength="16.9" lengthAdjust="spacingAndGlyphs">44</text><circle cx="168.0" cy="135.4" r="1.4" fill="none" stroke="#262626" stroke-width="0.85"/><text x="175.5" y="148.2" font-size="13" font-weight="bold" fill="#262626" stroke="#262626" stroke-width="0.35" textLength="9.4" lengthAdjust="spacingAndGlyphs">N</text><text x="146.7" y="166.5" font-size="13" font-weight="bold" fill="#262626" stroke="#262626" stroke-width="0.35" textLength="16.9" lengthAdjust="spacingAndGlyphs">42</text><circle cx="168.0" cy="153.2" r="1.4" fill="none" stroke="#262626" stroke-width="0.85"/><text x="175.5" y="166.5" font-size="13" font-weight="bold" fill="#262626" stroke="#262626" stroke-width="0.35" textLength="9.4" lengthAdjust="spacingAndGlyphs">N</text><text x="146.7" y="183.2" font-size="13" font-weight="bold" fill="#262626" stroke="#262626" stroke-width="0.35" textLength="16.9" lengthAdjust="spacingAndGlyphs">40</text><circle cx="168.0" cy="170.3" r="1.4" fill="none" stroke="#262626" stroke-width="0.85"/><text x="175.5" y="183.2" font-size="13" font-weight="bold" fill="#262626" stroke="#262626" stroke-width="0.35" textLength="9.4" lengthAdjust="spacingAndGlyphs">N</text><text x="146.7" y="198.3" font-size="13" font-weight="bold" fill="#262626" stroke="#262626" stroke-width="0.35" textLength="16.9" lengthAdjust="spacingAndGlyphs">38</text><circle cx="168.0" cy="185.5" r="1.4" fill="none" stroke="#262626" stroke-width="0.85"/><text x="175.5" y="198.3" font-size="13" font-weight="bold" fill="#262626" stroke="#262626" stroke-width="0.35" textLength="9.4" lengthAdjust="spacingAndGlyphs">N</text><text x="146.7" y="215.5" font-size="13" font-weight="bold" fill="#262626" stroke="#262626" stroke-width="0.35" textLength="16.9" lengthAdjust="spacingAndGlyphs">36</text><circle cx="168.0" cy="201.5" r="1.4" fill="none" stroke="#262626" stroke-width="0.85"/><text x="175.5" y="215.5" font-size="13" font-weight="bold" fill="#262626" stroke="#262626" stroke-width="0.35" textLength="9.4" lengthAdjust="spacingAndGlyphs">N</text><text x="146.7" y="229.1" font-size="13" font-weight="bold" fill="#262626" stroke="#262626" stroke-width="0.35" textLength="16.9" lengthAdjust="spacingAndGlyphs">34</text><circle cx="168.0" cy="216.2" r="1.4" fill="none" stroke="#262626" stroke-width="0.85"/><text x="175.5" y="229.1" font-size="13" font-weight="bold" fill="#262626" stroke="#262626" stroke-width="0.35" textLength="9.4" lengthAdjust="spacingAndGlyphs">N</text><text x="146.7" y="245.8" font-size="13" font-weight="bold" fill="#262626" stroke="#262626" stroke-width="0.35" textLength="16.9" lengthAdjust="spacingAndGlyphs">32</text><circle cx="168.0" cy="233.2" r="1.4" fill="none" stroke="#262626" stroke-width="0.85"/><text x="175.5" y="245.8" font-size="13" font-weight="bold" fill="#262626" stroke="#262626" stroke-width="0.35" textLength="9.4" lengthAdjust="spacingAndGlyphs">N</text><text x="146.7" y="260.0" font-size="13" font-weight="bold" fill="#262626" stroke="#262626" stroke-width="0.35" textLength="16.9" lengthAdjust="spacingAndGlyphs">30</text><circle cx="168.0" cy="247.3" r="1.4" fill="none" stroke="#262626" stroke-width="0.85"/><text x="175.5" y="260.0" font-size="13" font-weight="bold" fill="#262626" stroke="#262626" stroke-width="0.35" textLength="9.4" lengthAdjust="spacingAndGlyphs">N</text><text x="146.7" y="273.7" font-size="13" font-weight="bold" fill="#262626" stroke="#262626" stroke-width="0.35" textLength="16.9" lengthAdjust="spacingAndGlyphs">28</text><circle cx="168.0" cy="260.5" r="1.4" fill="none" stroke="#262626" stroke-width="0.85"/><text x="175.5" y="273.7" font-size="13" font-weight="bold" fill="#262626" stroke="#262626" stroke-width="0.35" textLength="9.4" lengthAdjust="spacingAndGlyphs">N</text><text x="146.7" y="287.7" font-size="13" font-weight="bold" fill="#262626" stroke="#262626" stroke-width="0.35" textLength="16.9" lengthAdjust="spacingAndGlyphs">26</text><circle cx="168.0" cy="274.1" r="1.4" fill="none" stroke="#262626" stroke-width="0.85"/><text x="175.5" y="287.7" font-size="13" font-weight="bold" fill="#262626" stroke="#262626" stroke-width="0.35" textLength="9.4" lengthAdjust="spacingAndGlyphs">N</text><text x="146.7" y="301.1" font-size="13" font-weight="bold" fill="#262626" stroke="#262626" stroke-width="0.35" textLength="16.9" lengthAdjust="spacingAndGlyphs">24</text><circle cx="168.0" cy="288.9" r="1.4" fill="none" stroke="#262626" stroke-width="0.85"/><text x="175.5" y="301.1" font-size="13" font-weight="bold" fill="#262626" stroke="#262626" stroke-width="0.35" textLength="9.4" lengthAdjust="spacingAndGlyphs">N</text><text x="146.7" y="314.8" font-size="13" font-weight="bold" fill="#262626" stroke="#262626" stroke-width="0.35" textLength="16.9" lengthAdjust="spacingAndGlyphs">22</text><circle cx="168.0" cy="301.1" r="1.4" fill="none" stroke="#262626" stroke-width="0.85"/><text x="175.5" y="314.8" font-size="13" font-weight="bold" fill="#262626" stroke="#262626" stroke-width="0.35" textLength="9.4" lengthAdjust="spacingAndGlyphs">N</text></g><g transform="translate(1.8,0)"><rect x="441.2" y="95.2" width="23.6" height="215" fill="url(#jet)" stroke="#262626" stroke-width="0.8"/><line x1="462.5" y1="202.7" x2="464.8" y2="202.7" stroke="#262626" stroke-width="0.8"/><text x="473.9" y="103.3" font-size="22" font-weight="bold" fill="#262626" stroke="#262626" stroke-width="0.45" textLength="42.5" lengthAdjust="spacingAndGlyphs">100</text><text x="474.0" y="210.3" font-size="22" font-weight="bold" fill="#262626" stroke="#262626" stroke-width="0.45" textLength="27.0" lengthAdjust="spacingAndGlyphs">50</text><text x="474.0" y="317.9" font-size="22" font-weight="bold" fill="#262626" stroke="#262626" stroke-width="0.45" textLength="13.0" lengthAdjust="spacingAndGlyphs">0</text></g><text x="140.8" y="341.7" font-size="23" font-weight="bold" fill="#262626" stroke="#262626" stroke-width="0.45" textLength="333.6" lengthAdjust="spacingAndGlyphs">SAT 250 hPa RH (Percent)</text></g><g transform="translate(0,389.8)"><g><rect x="195.6" y="96.4" width="234.1" height="213.0" fill="none" stroke="#000" stroke-width="1"/><g stroke-width="5.4" stroke-linecap="round" fill="none"><path stroke="#000099" d="M351.9 269.6h0"/><path stroke="#0000e6" d="M347.3 256.2h0M352.5 257.0h0M346.2 258.9h0M352.6 259.1h0M346.8 261.7h0M346.4 264.1h0M350.1 263.9h0M349.2 266.6h0M352.4 267.4h0M362.9 267.1h0M347.4 269.6h0M349.6 269.2h0M354.0 269.4h0M348.9 271.8h0M352.9 271.9h0M355.1 272.5h0M357.3 272.3h0M349.8 275.4h0M352.0 274.5h0M355.1 275.2h0M359.3 275.4h0M350.3 278.1h0M354.5 277.1h0M357.9 276.8h0M359.7 277.7h0M354.8 279.5h0M358.1 279.4h0M354.6 282.6h0M357.8 282.8h0M359.4 284.6h0M360.1 305.9h0M409.4 306.2h0M419.9 305.5h0M427.1 306.5h0M363.4 309.3h0M370.1 308.7h0M372.4 308.2h0M378.5 309.3h0M381.5 308.0h0M406.0 308.7h0M422.8 308.8h0M429.5 308.9h0"/><path stroke="#0000ff" d="M346.8 251.8h0M346.6 253.9h0M344.0 256.7h0M350.3 256.5h0M354.7 255.9h0M349.8 259.5h0M350.1 261.0h0M354.9 266.3h0M356.8 270.0h0M360.1 270.3h0M363.0 272.1h0M357.6 274.7h0M351.7 277.0h0M352.4 279.5h0M361.9 280.4h0M354.7 284.8h0M362.9 285.7h0M374.9 300.9h0M360.5 303.6h0M383.2 303.2h0M365.9 305.9h0M371.1 306.0h0M398.5 305.7h0M403.4 306.7h0M375.5 308.7h0M403.9 308.7h0M409.2 309.1h0M413.9 307.9h0M420.2 308.8h0M425.7 308.3h0M427.4 308.5h0"/><path stroke="#0019ff" d="M344.1 241.3h0M350.3 243.3h0M341.8 245.7h0M344.8 245.4h0M350.4 246.4h0M351.8 246.1h0M342.4 248.9h0M347.8 248.4h0M352.2 249.4h0M354.7 249.2h0M359.9 249.5h0M362.0 248.9h0M342.2 252.0h0M344.0 252.1h0M352.2 250.8h0M344.3 254.3h0M352.0 253.7h0M354.9 254.1h0M356.7 254.5h0M367.1 254.5h0M356.9 256.3h0M363.0 257.2h0M354.1 259.7h0M356.6 258.9h0M359.2 259.7h0M363.3 259.6h0M364.7 259.4h0M371.1 258.9h0M376.1 259.8h0M344.8 261.4h0M351.7 261.5h0M355.6 261.2h0M357.9 261.4h0M360.6 262.4h0M363.0 262.5h0M364.9 261.9h0M367.5 261.9h0M370.1 261.8h0M376.4 261.8h0M351.5 264.4h0M355.3 264.7h0M357.4 263.9h0M359.7 264.1h0M362.7 264.4h0M364.7 264.3h0M367.9 264.8h0M371.0 264.9h0M374.9 264.4h0M357.7 267.2h0M359.3 267.0h0M368.2 267.2h0M370.7 266.3h0M373.7 266.3h0M361.9 269.1h0M364.8 269.8h0M368.1 269.1h0M370.3 270.1h0M375.6 270.1h0M360.0 272.6h0M365.4 271.6h0M367.9 272.2h0M363.0 275.5h0M365.5 274.3h0M367.5 275.0h0M363.0 276.7h0M364.6 277.3h0M359.9 280.6h0M365.3 280.4h0M359.3 282.4h0M362.2 282.2h0M364.9 282.4h0M370.5 282.6h0M357.3 285.4h0M364.6 285.2h0M368.5 288.3h0M370.1 288.1h0M373.1 287.8h0M358.1 289.8h0M359.5 290.8h0M365.7 291.0h0M371.2 290.4h0M373.6 290.1h0M375.9 289.8h0M355.5 292.9h0M357.3 293.0h0M360.4 293.5h0M365.7 293.0h0M368.1 293.0h0M370.0 293.4h0M373.2 292.6h0M357.0 296.3h0M360.0 295.5h0M363.2 296.1h0M367.2 294.9h0M372.6 295.9h0M375.0 295.5h0M357.0 298.0h0M362.0 298.1h0M364.6 297.8h0M371.1 297.9h0M372.7 297.6h0M375.0 297.5h0M381.1 298.9h0M360.4 301.3h0M361.9 301.4h0M365.9 300.9h0M367.9 300.5h0M369.6 301.1h0M373.8 301.6h0M365.5 302.9h0M367.7 303.5h0M370.1 303.5h0M376.1 303.7h0M381.1 302.9h0M362.3 306.5h0M367.1 305.4h0M373.4 306.5h0M378.0 306.4h0M380.5 305.5h0M383.6 306.0h0M385.8 306.4h0M388.0 305.5h0M365.0 309.1h0M367.1 308.3h0M386.5 308.6h0M393.5 308.2h0M396.4 309.1h0M398.7 308.1h0"/><path stroke="#0033ff" d="M401.2 186.8h0M406.3 185.7h0M403.8 188.8h0M408.7 188.4h0M343.6 243.5h0M356.7 245.5h0M343.8 249.2h0M349.6 251.2h0M349.8 254.4h0M359.8 254.0h0M362.8 253.5h0M364.7 254.1h0M360.7 257.3h0M364.8 256.2h0M367.5 259.5h0M365.4 266.8h0M370.1 272.5h0M367.5 279.5h0M368.2 285.3h0M355.5 288.1h0M357.3 288.2h0M360.6 287.5h0M362.3 287.5h0M365.1 287.1h0M377.9 288.4h0M361.9 291.0h0M367.4 290.1h0M378.7 291.0h0M380.9 290.4h0M362.2 292.3h0M375.9 293.3h0M365.2 295.3h0M369.8 296.3h0M382.7 296.3h0M359.3 299.0h0M367.5 298.1h0M378.5 301.4h0M362.3 303.0h0M391.1 303.8h0M407.3 304.2h0M417.1 303.7h0M376.0 305.9h0M401.3 305.6h0M412.1 306.3h0M414.8 306.3h0M416.6 306.4h0M421.9 306.0h0M383.4 308.9h0M388.9 308.3h0"/><path stroke="#004dff" d="M403.9 184.0h0M398.4 186.5h0M404.4 186.4h0M393.7 189.1h0M380.8 254.3h0M380.5 257.1h0M381.0 259.0h0M405.0 261.3h0M380.9 267.0h0M370.4 275.6h0M376.0 280.5h0M367.5 282.1h0M375.2 283.3h0M372.5 285.1h0M376.0 287.6h0M377.6 295.6h0M380.4 301.2h0M386.6 300.3h0M390.7 301.4h0M378.6 303.8h0M393.3 304.2h0M424.9 306.3h0"/><path stroke="#0066ff" d="M401.3 183.9h0M427.5 183.2h0M390.7 186.0h0M417.3 187.2h0M396.3 189.0h0M399.0 188.3h0M413.9 189.0h0M417.6 189.7h0M391.5 191.0h0M393.3 191.3h0M399.6 192.1h0M411.7 191.7h0M377.8 249.0h0M404.4 256.3h0M404.8 258.6h0M372.5 261.7h0M376.1 266.8h0M377.8 266.4h0M372.5 270.2h0M378.7 270.0h0M373.6 271.6h0M381.3 272.2h0M372.4 274.7h0M368.6 277.1h0M369.8 276.6h0M375.5 278.1h0M381.3 277.5h0M369.7 280.3h0M372.8 283.3h0M380.5 282.8h0M371.1 284.4h0M375.7 284.4h0M378.9 285.9h0M386.6 285.4h0M380.7 287.2h0M382.8 288.6h0M389.2 288.4h0M382.9 290.3h0M386.5 289.9h0M388.3 290.3h0M378.7 292.4h0M380.1 293.4h0M382.6 292.7h0M385.2 292.5h0M389.2 292.3h0M391.1 293.0h0M398.7 293.5h0M381.6 296.3h0M385.5 296.1h0M379.0 298.8h0M382.9 298.4h0M389.0 297.4h0M391.2 297.8h0M401.3 297.7h0M424.5 297.6h0M384.0 300.3h0M388.6 301.3h0M393.8 301.4h0M396.2 301.6h0M422.3 301.4h0M425.2 300.4h0M428.0 300.7h0M373.5 302.8h0M385.6 302.9h0M401.4 303.1h0M422.8 302.9h0M425.0 303.7h0M427.8 303.9h0M391.0 306.6h0M394.0 305.6h0M391.0 308.4h0"/><path stroke="#0080ff" d="M424.3 183.9h0M394.3 185.9h0M381.5 189.4h0M383.3 189.0h0M386.3 189.3h0M397.1 190.8h0M401.0 191.5h0M415.0 191.4h0M417.2 191.6h0M419.3 191.8h0M398.8 193.8h0M411.5 194.9h0M424.8 194.2h0M394.3 198.8h0M362.8 246.1h0M398.8 259.6h0M406.9 258.8h0M385.9 264.2h0M403.8 265.0h0M403.7 266.9h0M406.3 267.3h0M376.2 271.5h0M377.5 272.0h0M381.0 274.4h0M373.0 277.2h0M378.3 277.4h0M386.4 282.8h0M389.1 283.0h0M384.0 284.7h0M388.3 284.5h0M386.7 287.8h0M391.7 295.3h0M394.3 295.9h0M398.7 294.8h0M402.2 295.9h0M427.7 296.1h0M386.2 297.8h0M394.5 298.6h0M396.2 297.6h0M398.9 297.8h0M417.4 298.5h0M427.0 298.7h0M398.6 300.4h0M420.2 301.2h0M388.8 302.9h0"/><path stroke="#0099ff" d="M416.5 183.4h0M388.9 186.4h0M388.2 188.9h0M409.5 192.0h0M424.5 192.1h0M428.2 191.4h0M415.3 194.5h0M423.0 194.2h0M411.8 196.8h0M427.8 197.6h0M358.1 251.9h0M360.3 252.1h0M368.3 256.6h0M399.4 256.5h0M372.2 259.2h0M373.1 263.8h0M377.8 264.8h0M380.1 263.9h0M409.8 264.6h0M401.0 267.4h0M386.1 275.6h0M396.6 274.8h0M373.3 279.3h0M383.4 279.8h0M393.7 290.2h0M398.7 290.2h0M428.0 289.6h0M424.2 293.3h0M427.4 293.0h0M388.6 296.3h0M421.6 297.5h0M414.5 301.1h0M395.9 302.8h0M404.1 303.1h0M409.3 303.9h0M412.0 303.1h0M419.7 303.1h0M407.1 306.5h0M401.3 308.2h0M412.2 307.8h0M417.5 308.5h0"/><path stroke="#00b2ff" d="M396.1 186.3h0M425.7 186.3h0M428.1 185.8h0M391.4 188.5h0M420.0 188.7h0M422.7 188.6h0M425.2 189.8h0M427.7 188.8h0M429.5 188.9h0M380.5 192.0h0M422.7 191.1h0M378.3 194.5h0M381.3 194.8h0M388.6 194.5h0M390.7 194.3h0M427.1 193.8h0M387.8 196.1h0M416.8 197.3h0M419.1 197.5h0M424.6 196.0h0M362.0 241.4h0M365.1 248.4h0M368.0 249.1h0M369.7 248.7h0M363.3 251.4h0M365.5 251.9h0M370.0 251.8h0M370.7 254.6h0M383.7 257.4h0M378.2 259.4h0M380.0 261.7h0M384.1 261.8h0M385.3 261.1h0M407.0 261.4h0M383.5 265.0h0M383.6 267.6h0M386.4 267.8h0M389.1 267.1h0M380.0 269.3h0M383.5 270.4h0M385.6 270.4h0M391.7 270.1h0M383.9 272.3h0M386.1 271.7h0M388.6 272.5h0M390.8 272.3h0M376.0 274.7h0M377.6 274.6h0M383.5 274.8h0M388.6 274.4h0M384.1 277.5h0M386.1 277.7h0M388.5 278.0h0M390.5 277.7h0M396.4 277.3h0M378.4 279.9h0M380.4 279.2h0M386.5 280.4h0M389.3 280.7h0M391.6 280.4h0M393.4 279.5h0M395.9 280.8h0M404.5 279.4h0M377.8 283.2h0M382.6 283.2h0M391.7 282.1h0M394.0 282.0h0M396.6 281.8h0M381.0 284.6h0M390.9 285.0h0M393.9 284.5h0M391.3 287.6h0M393.9 288.0h0M396.1 288.0h0M391.3 290.9h0M412.3 290.5h0M393.5 292.3h0M396.3 293.2h0M396.8 295.8h0M404.0 295.1h0M408.7 296.3h0M411.3 295.3h0M404.1 298.7h0M406.0 297.7h0M409.7 298.9h0M411.4 297.9h0M401.8 300.6h0M403.9 300.6h0M407.3 301.3h0M409.2 301.5h0M411.9 300.3h0M416.7 301.1h0M399.4 302.7h0M414.8 303.0h0M396.0 305.3h0"/><path stroke="#00ccff" d="M424.7 180.9h0M429.6 181.5h0M407.2 183.2h0M410.0 184.1h0M412.5 184.0h0M412.7 186.5h0M415.4 186.1h0M419.6 186.3h0M402.1 189.7h0M412.7 188.5h0M387.8 192.1h0M400.9 193.4h0M419.1 194.6h0M373.6 196.7h0M375.3 196.4h0M390.6 196.7h0M395.7 197.4h0M401.6 197.3h0M370.3 200.1h0M389.1 199.5h0M395.7 199.1h0M414.8 200.0h0M370.8 201.4h0M358.1 210.6h0M370.6 243.9h0M372.9 251.0h0M373.0 253.9h0M375.6 254.0h0M386.6 254.6h0M401.7 253.7h0M373.1 256.7h0M386.3 256.1h0M388.7 256.1h0M411.9 257.2h0M378.2 261.1h0M402.2 262.0h0M392.0 265.0h0M396.1 267.2h0M395.6 271.9h0M399.4 283.2h0M396.9 285.4h0M399.4 285.0h0M414.0 288.3h0M404.4 292.8h0M411.8 292.7h0M414.3 295.6h0M424.2 295.2h0M415.1 298.1h0"/><path stroke="#00e5ff" d="M414.7 181.1h0M417.6 182.0h0M419.2 181.1h0M421.7 180.6h0M426.9 181.6h0M414.1 183.1h0M419.0 183.9h0M422.0 183.2h0M409.1 186.7h0M421.6 186.7h0M406.1 189.7h0M368.3 191.9h0M373.5 191.8h0M375.7 191.5h0M378.2 191.4h0M404.8 191.8h0M407.0 191.7h0M368.2 194.7h0M370.2 193.6h0M372.9 193.5h0M375.7 193.8h0M393.7 194.7h0M396.1 193.5h0M403.8 195.0h0M406.6 193.9h0M361.9 196.5h0M367.5 196.5h0M370.2 196.2h0M378.3 196.1h0M393.4 197.3h0M399.4 197.4h0M404.3 196.1h0M406.4 197.1h0M422.7 196.1h0M430.1 196.5h0M360.7 199.5h0M375.6 198.9h0M398.3 199.5h0M401.6 199.0h0M403.4 199.2h0M406.9 199.2h0M423.0 200.1h0M425.2 199.8h0M427.7 199.3h0M429.6 199.4h0M372.4 201.9h0M378.6 201.8h0M396.3 201.7h0M398.9 201.4h0M401.2 202.2h0M425.5 202.1h0M427.2 202.7h0M365.3 204.7h0M368.5 205.1h0M375.7 204.6h0M377.8 204.2h0M383.2 206.6h0M385.8 206.6h0M381.2 209.0h0M381.6 212.3h0M382.7 212.9h0M386.7 211.9h0M377.9 214.9h0M381.2 215.7h0M383.4 214.8h0M375.1 216.9h0M380.7 217.9h0M383.0 217.1h0M386.3 217.3h0M378.4 220.8h0M381.0 219.9h0M383.1 220.8h0M385.9 220.3h0M383.3 222.9h0M375.9 248.2h0M368.4 252.1h0M375.9 250.8h0M401.8 251.9h0M403.4 251.1h0M406.1 252.0h0M403.8 253.4h0M406.1 253.5h0M370.1 256.0h0M375.2 256.7h0M406.8 257.0h0M395.7 258.7h0M402.2 258.6h0M402.3 265.0h0M388.9 269.9h0M393.9 270.0h0M402.2 272.7h0M391.6 274.5h0M393.4 274.7h0M399.3 274.1h0M404.3 274.8h0M394.0 277.8h0M398.4 278.0h0M401.9 277.2h0M403.6 277.9h0M399.5 279.5h0M407.5 280.2h0M402.3 281.9h0M403.9 283.1h0M406.7 282.9h0M409.4 283.0h0M401.5 285.3h0M403.5 285.3h0M406.5 284.7h0M412.0 284.8h0M415.3 285.7h0M399.5 288.1h0M401.2 288.2h0M404.3 288.1h0M407.1 288.0h0M409.6 287.2h0M411.5 288.3h0M395.8 290.7h0M401.8 290.0h0M403.5 290.0h0M406.3 291.1h0M409.1 290.9h0M414.7 291.2h0M416.8 289.7h0M402.3 292.3h0M407.5 293.5h0M409.4 292.3h0M414.0 293.8h0M416.7 292.8h0M420.0 293.5h0M406.6 295.9h0M420.5 298.8h0"/><path stroke="#00ffff" d="M364.8 193.5h0M383.1 197.5h0M409.1 197.4h0M373.7 199.1h0M378.8 198.8h0M380.8 199.8h0M409.0 199.5h0M419.8 198.8h0M358.0 202.6h0M363.1 201.3h0M375.3 202.5h0M386.1 202.5h0M393.6 202.2h0M404.8 202.4h0M406.8 202.6h0M419.4 201.6h0M422.1 202.0h0M371.0 205.0h0M372.4 204.7h0M380.5 204.7h0M391.1 205.0h0M398.2 204.6h0M402.0 204.0h0M407.3 204.0h0M409.9 204.6h0M429.7 204.8h0M372.5 207.0h0M381.5 207.3h0M388.6 207.3h0M401.6 206.6h0M382.8 209.2h0M375.2 212.7h0M388.5 212.6h0M386.1 215.6h0M373.3 218.3h0M388.9 218.4h0M388.9 223.4h0M373.1 226.0h0M376.2 225.3h0M378.0 225.2h0M383.1 225.3h0M368.5 227.8h0M400.8 246.6h0M372.4 248.3h0M401.9 249.1h0M407.0 248.3h0M378.8 252.2h0M381.3 251.0h0M383.5 251.6h0M388.4 263.8h0M393.7 267.4h0M396.2 269.4h0M398.9 269.3h0M398.2 272.4h0M411.4 277.3h0M402.2 280.1h0M417.4 288.1h0"/><path stroke="#1affe5" d="M364.6 199.3h0M417.5 202.8h0M419.1 203.9h0M391.7 207.1h0M406.7 206.6h0M390.6 209.5h0M391.7 222.7h0M386.0 239.2h0M383.5 241.3h0M380.6 243.4h0M383.7 243.9h0M415.3 244.2h0M410.2 248.6h0M393.8 256.1h0M396.5 257.4h0M391.3 258.9h0M394.3 259.6h0M393.2 261.6h0M396.5 261.2h0M399.0 261.8h0M393.8 264.7h0M395.8 263.6h0M399.0 264.5h0M407.1 265.1h0M391.0 266.3h0M398.9 267.5h0M402.2 270.4h0M403.5 269.4h0M406.1 269.2h0M393.9 272.3h0M405.0 272.0h0M407.0 271.6h0M401.5 275.1h0M406.6 274.1h0M406.2 277.2h0M409.7 277.4h0M409.3 279.8h0M411.6 279.5h0M412.8 282.5h0M415.1 283.2h0M409.8 284.6h0M417.8 285.0h0M422.3 295.0h0"/><path stroke="#33ffcc" d="M362.8 203.8h0M393.8 216.8h0M391.3 229.9h0M381.3 236.1h0M381.5 238.0h0M384.0 238.5h0M381.2 241.7h0M386.5 241.3h0M388.6 240.6h0M378.2 244.2h0M386.1 244.0h0M391.4 244.2h0M393.8 244.2h0M388.5 246.7h0M397.2 251.5h0M398.7 252.0h0M390.4 254.4h0M399.7 254.1h0M402.2 256.9h0M389.1 258.8h0M390.4 262.5h0M410.0 266.3h0M411.3 266.7h0M408.6 270.4h0M409.3 272.9h0M412.2 274.6h0M414.7 275.5h0M414.9 277.1h0M414.9 279.4h0M417.1 279.4h0M419.0 279.8h0M422.2 279.4h0M417.0 283.2h0M420.2 282.1h0M417.1 295.0h0M420.5 295.8h0"/><path stroke="#4dffb2" d="M393.7 236.0h0M378.8 239.0h0M390.7 241.6h0M389.1 244.4h0M397.0 246.6h0M390.6 249.4h0M389.2 251.8h0M391.4 251.6h0M394.3 251.4h0M388.7 254.7h0M393.3 254.0h0M391.0 256.4h0M419.5 267.2h0M425.1 279.4h0M423.1 285.3h0M420.5 287.9h0M421.6 288.6h0M424.6 287.0h0M419.8 289.7h0M422.9 291.0h0M424.5 289.8h0M429.7 290.7h0M422.0 292.8h0M430.1 292.6h0"/><path stroke="#66ff99" d="M384.1 192.3h0M385.4 192.2h0M383.6 194.8h0M385.6 194.0h0M380.2 197.2h0M385.6 196.3h0M391.1 199.1h0M383.2 202.6h0M391.3 201.3h0M383.7 204.4h0M386.4 204.1h0M385.9 209.3h0M394.6 240.9h0M428.1 284.9h0M429.9 284.5h0M428.1 287.3h0"/><path stroke="#80ff80" d="M384.0 199.4h0M386.5 199.0h0M388.2 201.5h0M388.1 204.7h0M396.6 243.2h0"/><path stroke="#ccff33" d="M380.5 223.0h0M386.3 222.7h0M381.5 224.9h0M375.3 246.9h0M378.3 245.9h0M404.3 249.0h0M409.3 261.6h0M411.3 269.6h0M408.9 274.1h0M416.7 274.0h0M419.9 274.9h0M417.5 277.0h0"/><path stroke="#e5ff1a" d="M373.0 222.6h0M378.3 223.4h0M370.0 225.5h0M372.8 227.8h0M378.9 227.3h0M381.1 228.3h0M386.4 228.1h0M379.0 233.9h0M372.6 236.5h0M383.5 235.2h0M386.1 236.2h0M388.7 235.1h0M375.9 238.3h0M375.9 241.0h0M378.6 241.4h0M373.1 243.2h0M375.5 244.3h0M398.2 243.3h0M404.9 243.0h0M373.2 245.9h0M391.8 245.6h0M394.4 245.7h0M404.7 245.9h0M396.4 249.1h0M399.0 248.2h0M409.3 251.9h0M410.1 258.9h0M412.2 262.3h0M414.2 261.2h0M419.4 261.9h0M430.1 261.9h0M411.6 265.0h0M417.5 264.4h0M427.2 264.5h0M415.1 266.3h0M422.1 267.2h0M427.7 266.5h0M414.7 270.2h0M417.4 269.1h0M419.4 269.1h0M422.9 270.4h0M424.8 269.3h0M427.4 269.5h0M430.1 269.5h0M412.3 271.7h0M414.6 272.3h0M416.5 272.6h0M423.1 272.7h0M424.3 271.5h0M429.8 271.9h0M422.6 275.3h0M427.5 274.5h0M420.3 276.9h0M429.5 277.6h0M429.5 280.1h0M423.0 282.6h0M425.5 283.1h0M427.4 282.5h0M419.6 284.8h0M425.7 285.8h0"/><path stroke="#ffff00" d="M409.4 193.9h0M407.1 222.0h0M417.8 226.0h0M374.9 227.9h0M384.0 228.5h0M388.2 227.3h0M407.0 227.7h0M415.0 228.0h0M370.7 231.1h0M376.1 230.7h0M378.9 230.7h0M381.2 230.0h0M384.2 231.0h0M385.6 230.6h0M396.7 230.3h0M411.7 231.1h0M417.0 231.1h0M364.9 232.9h0M372.9 232.7h0M375.6 233.9h0M380.3 233.2h0M384.1 232.6h0M386.8 233.1h0M389.1 233.9h0M391.5 234.0h0M414.7 232.9h0M417.8 233.2h0M419.9 233.7h0M370.3 236.1h0M375.9 235.6h0M378.8 235.9h0M391.9 235.7h0M396.1 235.4h0M399.5 235.0h0M406.3 235.5h0M414.4 235.4h0M424.7 236.6h0M368.5 237.8h0M370.3 239.1h0M388.2 238.4h0M391.1 238.0h0M394.2 237.9h0M398.3 239.2h0M401.5 237.9h0M407.1 238.8h0M409.4 238.8h0M411.4 237.7h0M373.6 241.7h0M401.7 241.7h0M404.1 241.6h0M406.2 241.7h0M409.9 240.8h0M412.2 241.6h0M417.8 241.3h0M419.2 240.4h0M406.1 243.4h0M409.5 243.7h0M417.3 243.0h0M399.0 246.4h0M407.2 246.2h0M409.8 245.4h0M417.1 246.6h0M419.7 253.5h0M415.1 256.6h0M425.3 256.1h0M412.7 260.0h0M413.9 258.7h0M417.4 259.8h0M420.1 258.7h0M422.4 259.0h0M424.4 258.8h0M427.3 259.2h0M417.0 262.0h0M422.2 261.1h0M424.7 261.6h0M414.6 264.1h0M420.2 264.6h0M422.2 263.7h0M424.7 264.9h0M416.9 266.7h0M425.1 266.7h0M429.5 267.1h0M420.2 272.3h0M427.0 272.9h0M424.8 275.2h0M422.8 277.9h0M424.4 277.4h0M426.9 277.0h0M427.1 279.6h0M430.0 283.0h0"/><path stroke="#ffe500" d="M417.6 193.6h0M414.2 196.7h0M393.8 205.0h0M397.1 204.3h0M403.6 204.9h0M427.3 203.8h0M393.8 207.7h0M429.6 208.0h0M389.0 210.0h0M388.4 214.3h0M388.3 219.5h0M421.9 225.5h0M389.0 231.1h0M412.1 233.6h0M421.8 233.7h0M401.1 236.2h0M411.8 236.3h0M422.2 235.1h0M403.8 238.1h0M419.9 237.8h0M423.2 238.7h0M396.0 241.7h0M398.3 241.2h0M414.7 240.6h0M428.3 254.2h0M408.6 256.7h0M429.8 256.1h0"/><path stroke="#ffcc00" d="M412.7 200.0h0M416.9 198.6h0M408.7 202.7h0M411.7 202.2h0M411.6 204.2h0M417.4 205.0h0M422.6 205.1h0M424.2 205.0h0M395.7 206.5h0M399.8 207.0h0M404.5 207.2h0M419.4 206.8h0M424.3 207.1h0M427.8 207.2h0M393.2 209.6h0M402.0 209.9h0M407.6 209.7h0M416.5 209.5h0M421.8 209.6h0M426.9 209.5h0M391.1 213.1h0M406.6 212.3h0M417.5 212.4h0M427.0 212.4h0M430.0 212.4h0M390.5 214.5h0M427.8 214.5h0M429.5 215.7h0M391.4 218.2h0M395.8 217.8h0M401.9 217.0h0M390.8 219.7h0M393.6 220.7h0M407.3 221.0h0M396.7 223.5h0M399.0 222.9h0M414.4 223.3h0M386.7 226.2h0M388.6 225.1h0M391.1 225.5h0M404.7 225.5h0M411.6 228.0h0M399.8 233.0h0M417.0 235.2h0M420.3 235.3h0M416.9 238.5h0M401.7 242.8h0M411.9 243.2h0M419.4 244.2h0M411.3 245.7h0M412.7 248.1h0M411.2 251.4h0M409.8 254.4h0M412.7 254.0h0M420.1 257.1h0M428.2 262.1h0"/><path stroke="#ffb300" d="M415.1 201.8h0M414.1 204.4h0M409.2 206.7h0M412.7 207.6h0M414.9 207.5h0M417.3 206.8h0M421.8 207.0h0M396.5 210.2h0M399.7 210.2h0M404.2 209.8h0M408.7 210.1h0M412.0 209.3h0M414.8 210.4h0M420.6 209.8h0M424.8 209.8h0M393.6 211.9h0M395.9 212.3h0M399.4 213.1h0M401.9 211.7h0M404.6 211.7h0M409.6 212.6h0M411.5 213.0h0M420.2 212.6h0M394.6 214.8h0M396.8 215.0h0M398.7 214.7h0M401.2 214.4h0M403.6 214.8h0M407.5 215.3h0M409.9 215.1h0M412.5 214.3h0M416.9 215.6h0M420.4 214.3h0M421.7 215.4h0M424.8 214.9h0M398.9 218.2h0M404.0 217.7h0M407.5 217.2h0M409.3 217.1h0M412.5 218.2h0M414.3 217.8h0M418.0 216.8h0M420.2 217.4h0M422.8 217.2h0M425.7 218.4h0M427.8 217.4h0M429.9 216.9h0M396.7 220.8h0M399.5 219.8h0M401.1 221.0h0M403.7 219.5h0M409.0 219.7h0M412.0 220.0h0M415.1 220.9h0M416.7 220.4h0M419.7 220.4h0M422.1 220.6h0M425.5 220.9h0M427.7 220.6h0M393.1 222.2h0M402.4 222.4h0M404.9 223.0h0M408.8 223.1h0M411.6 222.7h0M417.2 222.4h0M419.4 222.4h0M422.5 222.4h0M424.8 222.9h0M427.5 223.5h0M394.5 225.1h0M395.7 225.1h0M399.4 225.7h0M401.5 226.0h0M407.0 225.0h0M409.2 225.2h0M412.5 224.8h0M414.0 225.2h0M420.4 225.9h0M424.5 225.8h0M427.9 224.9h0M430.2 224.7h0M391.7 227.7h0M393.7 227.8h0M396.3 227.3h0M399.0 228.0h0M401.8 228.0h0M405.0 228.8h0M409.2 227.9h0M417.7 228.7h0M422.5 227.3h0M425.4 228.4h0M428.0 227.7h0M429.6 227.5h0M394.4 230.8h0M399.0 231.0h0M401.0 230.2h0M404.3 231.2h0M407.0 231.4h0M409.5 230.7h0M414.7 229.9h0M420.4 229.8h0M421.9 229.9h0M424.5 230.3h0M428.1 230.7h0M393.7 232.5h0M397.1 233.7h0M401.0 233.1h0M403.8 233.9h0M407.1 233.8h0M409.1 233.1h0M424.4 233.1h0M427.6 232.4h0M430.2 233.5h0M404.9 236.5h0M409.3 235.2h0M427.5 236.1h0M429.8 236.0h0M396.9 237.7h0M414.6 237.9h0M424.6 238.5h0M427.2 238.0h0M422.2 241.0h0M425.2 240.6h0M427.9 241.5h0M429.7 240.4h0M422.9 243.3h0M425.2 243.8h0M428.1 243.4h0M414.8 246.4h0M419.6 246.4h0M422.1 246.0h0M425.1 246.5h0M427.1 246.2h0M415.3 248.6h0M417.0 248.1h0M420.0 248.5h0M421.8 248.6h0M425.8 248.5h0M427.6 249.0h0M429.6 248.3h0M414.7 251.8h0M416.5 251.9h0M420.0 251.1h0M423.2 251.3h0M425.0 251.3h0M427.3 251.0h0M414.0 253.5h0M417.6 254.2h0M421.8 254.3h0M425.4 254.2h0M417.9 256.0h0M422.4 256.9h0M428.1 256.5h0"/><path stroke="#ff9900" d="M415.3 212.0h0M422.4 211.7h0M424.9 212.7h0M415.0 214.8h0"/><path stroke="#ff8000" d="M419.9 227.5h0"/></g><g stroke-width="7" stroke-linecap="round" fill="none"><path stroke="#0000cc" d="M334.4 213.0h0M339.5 211.7h0M336.3 235.5h0"/><path stroke="#0000e6" d="M336.5 201.9h0M333.9 214.5h0"/><path stroke="#0000ff" d="M339.8 206.8h0M329.6 209.3h0"/><path stroke="#0019ff" d="M359.4 204.8h0M355.3 211.7h0M349.1 215.2h0M341.4 244.1h0"/><path stroke="#0033ff" d="M353.0 207.5h0M354.8 215.2h0"/><path stroke="#0099ff" d="M351.9 233.7h0"/><path stroke="#00ccff" d="M350.0 230.7h0"/><path stroke="#00e5ff" d="M362.3 199.1h0M370.4 217.1h0M358.1 220.9h0M365.1 220.2h0M349.6 223.3h0M368.2 222.5h0M365.8 224.6h0M347.2 231.3h0M354.2 230.2h0M341.1 233.7h0"/><path stroke="#00ffff" d="M368.0 200.1h0M344.1 225.3h0M346.8 232.6h0"/><path stroke="#33ffcc" d="M339.5 222.7h0M346.9 228.6h0"/><path stroke="#4dffb2" d="M377.7 216.9h0"/><path stroke="#66ff99" d="M381.5 202.3h0M375.7 214.8h0M352.5 228.5h0M381.3 249.4h0M385.3 249.3h0M389.4 248.2h0"/><path stroke="#80ff80" d="M377.5 207.8h0M378.3 212.1h0M355.2 217.1h0M357.8 216.9h0M352.5 220.1h0M383.0 246.9h0M383.7 248.9h0M378.8 254.5h0M386.7 259.2h0"/><path stroke="#99ff66" d="M363.2 193.5h0M378.1 210.1h0M349.0 220.2h0M359.3 225.1h0M357.5 227.7h0M362.2 228.1h0M386.2 250.7h0"/><path stroke="#b3ff4c" d="M329.6 203.9h0"/><path stroke="#e5ff1a" d="M354.7 196.5h0M351.6 202.3h0M331.2 204.5h0"/><path stroke="#ffff00" d="M354.1 198.9h0M349.6 201.2h0"/><path stroke="#ffe500" d="M352.4 199.3h0"/></g><use href="#map"/><text x="216.0" y="77.0" font-size="13" font-weight="bold" fill="#262626" stroke="#262626" stroke-width="0.35" textLength="24.4" lengthAdjust="spacingAndGlyphs">100</text><circle cx="245.0" cy="64.4" r="1.4" fill="none" stroke="#262626" stroke-width="0.85"/><text x="252.8" y="77.0" font-size="13" font-weight="bold" fill="#262626" stroke="#262626" stroke-width="0.35" textLength="12.8" lengthAdjust="spacingAndGlyphs">W</text><text x="284.8" y="77.0" font-size="13" font-weight="bold" fill="#262626" stroke="#262626" stroke-width="0.35" textLength="15.6" lengthAdjust="spacingAndGlyphs">90</text><circle cx="305.0" cy="64.4" r="1.4" fill="none" stroke="#262626" stroke-width="0.85"/><text x="313.6" y="77.0" font-size="13" font-weight="bold" fill="#262626" stroke="#262626" stroke-width="0.35" textLength="12.8" lengthAdjust="spacingAndGlyphs">W</text><text x="348.8" y="77.0" font-size="13" font-weight="bold" fill="#262626" stroke="#262626" stroke-width="0.35" textLength="16.6" lengthAdjust="spacingAndGlyphs">80</text><circle cx="370.0" cy="64.4" r="1.4" fill="none" stroke="#262626" stroke-width="0.85"/><text x="377.6" y="77.0" font-size="13" font-weight="bold" fill="#262626" stroke="#262626" stroke-width="0.35" textLength="13.2" lengthAdjust="spacingAndGlyphs">W</text><text x="412.0" y="77.0" font-size="13" font-weight="bold" fill="#262626" stroke="#262626" stroke-width="0.35" textLength="15.2" lengthAdjust="spacingAndGlyphs">70</text><circle cx="432.0" cy="64.4" r="1.4" fill="none" stroke="#262626" stroke-width="0.85"/><text x="440.6" y="77.0" font-size="13" font-weight="bold" fill="#262626" stroke="#262626" stroke-width="0.35" textLength="13.0" lengthAdjust="spacingAndGlyphs">W</text><text x="146.7" y="112.9" font-size="13" font-weight="bold" fill="#262626" stroke="#262626" stroke-width="0.35" textLength="16.9" lengthAdjust="spacingAndGlyphs">48</text><circle cx="168.0" cy="99.4" r="1.4" fill="none" stroke="#262626" stroke-width="0.85"/><text x="175.5" y="112.9" font-size="13" font-weight="bold" fill="#262626" stroke="#262626" stroke-width="0.35" textLength="9.4" lengthAdjust="spacingAndGlyphs">N</text><text x="146.7" y="130.8" font-size="13" font-weight="bold" fill="#262626" stroke="#262626" stroke-width="0.35" textLength="16.9" lengthAdjust="spacingAndGlyphs">46</text><circle cx="168.0" cy="118.3" r="1.4" fill="none" stroke="#262626" stroke-width="0.85"/><text x="175.5" y="130.8" font-size="13" font-weight="bold" fill="#262626" stroke="#262626" stroke-width="0.35" textLength="9.4" lengthAdjust="spacingAndGlyphs">N</text><text x="146.7" y="148.2" font-size="13" font-weight="bold" fill="#262626" stroke="#262626" stroke-width="0.35" textLength="16.9" lengthAdjust="spacingAndGlyphs">44</text><circle cx="168.0" cy="135.4" r="1.4" fill="none" stroke="#262626" stroke-width="0.85"/><text x="175.5" y="148.2" font-size="13" font-weight="bold" fill="#262626" stroke="#262626" stroke-width="0.35" textLength="9.4" lengthAdjust="spacingAndGlyphs">N</text><text x="146.7" y="166.5" font-size="13" font-weight="bold" fill="#262626" stroke="#262626" stroke-width="0.35" textLength="16.9" lengthAdjust="spacingAndGlyphs">42</text><circle cx="168.0" cy="153.2" r="1.4" fill="none" stroke="#262626" stroke-width="0.85"/><text x="175.5" y="166.5" font-size="13" font-weight="bold" fill="#262626" stroke="#262626" stroke-width="0.35" textLength="9.4" lengthAdjust="spacingAndGlyphs">N</text><text x="146.7" y="183.2" font-size="13" font-weight="bold" fill="#262626" stroke="#262626" stroke-width="0.35" textLength="16.9" lengthAdjust="spacingAndGlyphs">40</text><circle cx="168.0" cy="170.3" r="1.4" fill="none" stroke="#262626" stroke-width="0.85"/><text x="175.5" y="183.2" font-size="13" font-weight="bold" fill="#262626" stroke="#262626" stroke-width="0.35" textLength="9.4" lengthAdjust="spacingAndGlyphs">N</text><text x="146.7" y="198.3" font-size="13" font-weight="bold" fill="#262626" stroke="#262626" stroke-width="0.35" textLength="16.9" lengthAdjust="spacingAndGlyphs">38</text><circle cx="168.0" cy="185.5" r="1.4" fill="none" stroke="#262626" stroke-width="0.85"/><text x="175.5" y="198.3" font-size="13" font-weight="bold" fill="#262626" stroke="#262626" stroke-width="0.35" textLength="9.4" lengthAdjust="spacingAndGlyphs">N</text><text x="146.7" y="215.5" font-size="13" font-weight="bold" fill="#262626" stroke="#262626" stroke-width="0.35" textLength="16.9" lengthAdjust="spacingAndGlyphs">36</text><circle cx="168.0" cy="201.5" r="1.4" fill="none" stroke="#262626" stroke-width="0.85"/><text x="175.5" y="215.5" font-size="13" font-weight="bold" fill="#262626" stroke="#262626" stroke-width="0.35" textLength="9.4" lengthAdjust="spacingAndGlyphs">N</text><text x="146.7" y="229.1" font-size="13" font-weight="bold" fill="#262626" stroke="#262626" stroke-width="0.35" textLength="16.9" lengthAdjust="spacingAndGlyphs">34</text><circle cx="168.0" cy="216.2" r="1.4" fill="none" stroke="#262626" stroke-width="0.85"/><text x="175.5" y="229.1" font-size="13" font-weight="bold" fill="#262626" stroke="#262626" stroke-width="0.35" textLength="9.4" lengthAdjust="spacingAndGlyphs">N</text><text x="146.7" y="245.8" font-size="13" font-weight="bold" fill="#262626" stroke="#262626" stroke-width="0.35" textLength="16.9" lengthAdjust="spacingAndGlyphs">32</text><circle cx="168.0" cy="233.2" r="1.4" fill="none" stroke="#262626" stroke-width="0.85"/><text x="175.5" y="245.8" font-size="13" font-weight="bold" fill="#262626" stroke="#262626" stroke-width="0.35" textLength="9.4" lengthAdjust="spacingAndGlyphs">N</text><text x="146.7" y="260.0" font-size="13" font-weight="bold" fill="#262626" stroke="#262626" stroke-width="0.35" textLength="16.9" lengthAdjust="spacingAndGlyphs">30</text><circle cx="168.0" cy="247.3" r="1.4" fill="none" stroke="#262626" stroke-width="0.85"/><text x="175.5" y="260.0" font-size="13" font-weight="bold" fill="#262626" stroke="#262626" stroke-width="0.35" textLength="9.4" lengthAdjust="spacingAndGlyphs">N</text><text x="146.7" y="273.7" font-size="13" font-weight="bold" fill="#262626" stroke="#262626" stroke-width="0.35" textLength="16.9" lengthAdjust="spacingAndGlyphs">28</text><circle cx="168.0" cy="260.5" r="1.4" fill="none" stroke="#262626" stroke-width="0.85"/><text x="175.5" y="273.7" font-size="13" font-weight="bold" fill="#262626" stroke="#262626" stroke-width="0.35" textLength="9.4" lengthAdjust="spacingAndGlyphs">N</text><text x="146.7" y="287.7" font-size="13" font-weight="bold" fill="#262626" stroke="#262626" stroke-width="0.35" textLength="16.9" lengthAdjust="spacingAndGlyphs">26</text><circle cx="168.0" cy="274.1" r="1.4" fill="none" stroke="#262626" stroke-width="0.85"/><text x="175.5" y="287.7" font-size="13" font-weight="bold" fill="#262626" stroke="#262626" stroke-width="0.35" textLength="9.4" lengthAdjust="spacingAndGlyphs">N</text><text x="146.7" y="301.1" font-size="13" font-weight="bold" fill="#262626" stroke="#262626" stroke-width="0.35" textLength="16.9" lengthAdjust="spacingAndGlyphs">24</text><circle cx="168.0" cy="288.9" r="1.4" fill="none" stroke="#262626" stroke-width="0.85"/><text x="175.5" y="301.1" font-size="13" font-weight="bold" fill="#262626" stroke="#262626" stroke-width="0.35" textLength="9.4" lengthAdjust="spacingAndGlyphs">N</text><text x="146.7" y="314.8" font-size="13" font-weight="bold" fill="#262626" stroke="#262626" stroke-width="0.35" textLength="16.9" lengthAdjust="spacingAndGlyphs">22</text><circle cx="168.0" cy="301.1" r="1.4" fill="none" stroke="#262626" stroke-width="0.85"/><text x="175.5" y="314.8" font-size="13" font-weight="bold" fill="#262626" stroke="#262626" stroke-width="0.35" textLength="9.4" lengthAdjust="spacingAndGlyphs">N</text></g><g transform="translate(0,0)"><rect x="441.2" y="95.2" width="23.6" height="215" fill="url(#jet)" stroke="#262626" stroke-width="0.8"/><line x1="462.5" y1="202.7" x2="464.8" y2="202.7" stroke="#262626" stroke-width="0.8"/><text x="473.9" y="103.3" font-size="22" font-weight="bold" fill="#262626" stroke="#262626" stroke-width="0.45" textLength="42.5" lengthAdjust="spacingAndGlyphs">100</text><text x="474.0" y="210.3" font-size="22" font-weight="bold" fill="#262626" stroke="#262626" stroke-width="0.45" textLength="27.0" lengthAdjust="spacingAndGlyphs">50</text><text x="474.0" y="317.9" font-size="22" font-weight="bold" fill="#262626" stroke="#262626" stroke-width="0.45" textLength="13.0" lengthAdjust="spacingAndGlyphs">0</text></g><text x="140.8" y="341.7" font-size="23" font-weight="bold" fill="#262626" stroke="#262626" stroke-width="0.45" textLength="333.6" lengthAdjust="spacingAndGlyphs">SAT 300 hPa RH (Percent)</text></g><g transform="translate(421.0,389.8)"><g><rect x="195.6" y="96.4" width="234.1" height="213.0" fill="none" stroke="#000" stroke-width="1"/><g stroke-width="5.4" stroke-linecap="round" fill="none"><path stroke="#000080" d="M359.2 275.2h0M378.8 280.3h0M372.4 282.8h0M370.1 288.5h0"/><path stroke="#000099" d="M360.1 285.4h0"/><path stroke="#0000b2" d="M355.4 254.0h0M352.9 256.4h0M355.4 258.7h0M352.5 262.1h0M356.7 262.1h0M350.0 264.2h0M352.4 264.7h0M355.4 264.8h0M356.6 264.2h0M360.6 264.3h0M346.7 266.9h0M349.4 266.3h0M356.9 267.0h0M362.1 267.7h0M365.4 266.6h0M349.8 270.4h0M351.5 269.0h0M354.9 269.1h0M358.1 270.1h0M359.4 269.1h0M362.5 270.0h0M365.3 269.5h0M349.3 272.7h0M352.9 272.6h0M354.3 272.3h0M358.1 272.2h0M363.4 272.0h0M365.5 271.5h0M351.9 274.8h0M354.5 274.6h0M357.6 275.4h0M364.9 275.0h0M367.0 274.7h0M370.2 274.6h0M352.1 276.7h0M356.8 276.8h0M359.6 277.1h0M364.8 277.1h0M367.4 276.8h0M369.7 276.7h0M375.8 277.8h0M378.0 278.2h0M352.1 279.2h0M355.3 279.9h0M363.3 279.9h0M365.8 280.8h0M367.6 280.7h0M369.9 279.6h0M372.6 280.5h0M375.7 280.1h0M351.6 282.2h0M356.6 283.1h0M360.7 283.0h0M363.2 282.1h0M367.2 282.3h0M370.4 283.4h0M352.8 284.7h0M354.8 284.8h0M362.3 285.4h0M365.0 284.6h0M367.3 285.0h0M370.6 284.9h0M372.4 284.5h0M375.3 284.5h0M377.8 285.9h0M386.2 285.1h0M355.0 287.0h0M356.9 287.1h0M364.7 288.2h0M368.0 287.0h0M373.5 287.2h0M357.9 291.2h0M360.0 290.5h0M362.3 290.7h0M365.3 289.9h0M372.2 289.6h0M375.0 289.8h0M355.4 292.4h0M356.9 293.7h0M362.9 292.5h0M364.7 293.8h0M368.6 292.8h0M369.9 293.5h0M373.7 292.8h0M375.9 292.3h0M383.3 293.7h0M357.5 295.3h0M359.8 295.4h0M362.6 296.3h0M365.7 296.2h0M367.2 295.6h0M370.3 295.2h0M372.2 295.8h0M375.8 296.0h0M377.4 295.0h0M383.3 296.4h0M360.5 297.5h0M365.8 298.3h0M367.8 298.5h0M370.4 298.8h0M372.5 298.9h0M359.5 300.5h0M361.9 300.9h0M365.1 301.2h0M368.4 301.4h0M369.9 301.1h0M372.7 300.3h0M375.1 300.3h0M378.1 301.5h0M381.0 300.1h0M359.3 302.9h0M363.3 303.4h0M365.9 302.6h0M367.5 302.7h0M369.8 304.1h0M372.3 303.9h0M378.9 303.5h0M360.4 306.7h0M365.4 306.2h0M368.1 306.7h0M370.8 305.5h0M373.0 306.8h0M375.0 306.4h0M378.7 306.5h0M363.1 308.9h0M365.6 309.1h0M368.4 308.2h0M373.0 308.1h0M374.9 308.6h0M387.9 308.5h0"/><path stroke="#0000cc" d="M357.7 254.7h0M357.9 256.4h0M359.9 256.8h0M348.9 258.9h0M352.7 258.8h0M357.6 258.8h0M349.7 261.8h0M354.6 262.5h0M370.1 261.5h0M372.2 261.5h0M362.7 264.7h0M372.5 264.2h0M374.8 264.6h0M352.2 267.7h0M355.2 266.7h0M359.5 266.8h0M367.5 267.2h0M367.6 269.0h0M359.4 272.3h0M383.6 272.5h0M362.5 274.3h0M373.5 274.3h0M354.0 277.5h0M361.8 277.3h0M356.9 279.5h0M354.5 283.2h0M364.6 283.3h0M377.9 282.7h0M357.4 285.3h0M383.5 285.7h0M359.4 287.7h0M362.7 288.5h0M376.3 288.1h0M378.1 287.5h0M367.8 290.3h0M383.2 290.6h0M360.6 293.2h0M362.4 297.5h0M375.5 297.5h0M378.3 298.5h0M384.0 298.8h0M375.2 303.0h0M384.1 303.0h0M362.8 306.3h0M369.6 309.3h0M380.5 308.3h0"/><path stroke="#0000e6" d="M359.9 254.0h0M347.4 257.1h0M350.0 256.3h0M367.3 256.2h0M371.1 256.8h0M362.8 259.3h0M364.4 259.9h0M370.4 259.2h0M346.3 261.5h0M359.8 262.6h0M362.1 262.1h0M346.6 264.8h0M364.7 264.5h0M368.1 265.0h0M371.1 264.9h0M372.3 267.7h0M369.7 270.2h0M373.7 270.2h0M378.3 269.9h0M383.6 269.9h0M385.3 270.2h0M367.3 272.1h0M370.0 272.4h0M372.5 272.2h0M376.4 272.3h0M378.5 271.5h0M381.1 271.9h0M385.2 271.5h0M396.2 272.7h0M375.1 274.6h0M377.7 275.6h0M381.0 274.6h0M383.7 274.2h0M388.0 274.7h0M373.1 277.5h0M381.5 276.7h0M383.6 277.3h0M388.9 277.7h0M390.8 277.2h0M359.7 279.5h0M380.7 279.5h0M383.4 280.3h0M386.4 279.6h0M389.3 280.1h0M396.9 279.2h0M375.9 282.0h0M381.2 283.3h0M383.3 282.5h0M386.2 281.8h0M387.9 282.7h0M394.3 282.8h0M399.7 282.3h0M381.6 284.5h0M392.0 284.4h0M396.7 285.0h0M404.2 285.5h0M380.8 288.1h0M383.2 288.0h0M385.3 287.7h0M388.8 287.6h0M391.3 287.0h0M393.1 287.8h0M396.3 287.1h0M370.7 290.9h0M378.5 291.1h0M380.2 289.6h0M385.8 290.0h0M389.4 290.2h0M394.3 290.2h0M399.3 290.9h0M406.3 291.0h0M378.1 293.3h0M385.2 293.7h0M389.1 292.9h0M390.9 292.3h0M394.1 292.9h0M399.7 293.7h0M401.7 293.3h0M406.2 293.5h0M380.0 294.9h0M385.5 296.3h0M389.0 295.3h0M392.0 295.1h0M394.0 296.0h0M396.2 295.2h0M398.6 295.3h0M401.3 294.9h0M404.6 295.8h0M406.4 296.2h0M408.7 295.5h0M381.5 298.7h0M385.3 298.8h0M388.4 297.6h0M391.8 298.1h0M393.7 298.6h0M395.9 298.8h0M398.9 298.9h0M401.0 297.4h0M404.8 298.3h0M383.0 301.5h0M385.8 301.0h0M388.3 301.1h0M394.0 300.4h0M397.1 301.1h0M401.9 301.0h0M404.0 300.5h0M407.5 300.7h0M380.8 303.9h0M386.3 304.1h0M388.0 303.6h0M391.4 304.2h0M394.0 303.3h0M397.2 303.8h0M401.8 303.1h0M403.7 302.6h0M381.5 305.6h0M383.6 306.7h0M386.6 306.8h0M387.8 306.2h0M391.1 305.2h0M395.6 306.7h0M398.8 305.7h0M402.0 305.5h0M403.7 306.1h0M406.9 305.3h0M378.4 309.0h0M384.0 308.8h0M386.3 308.2h0M392.0 308.4h0M393.6 308.5h0M396.7 308.6h0M399.0 309.1h0M401.7 308.1h0M406.7 308.9h0M408.9 308.1h0M412.5 309.0h0M414.1 307.9h0M420.2 308.1h0"/><path stroke="#0000ff" d="M347.0 259.9h0M365.3 261.4h0M377.9 264.6h0M380.0 263.9h0M385.5 265.0h0M376.3 267.7h0M378.5 266.7h0M383.7 266.8h0M388.7 267.6h0M376.1 269.4h0M389.3 269.0h0M386.3 275.3h0M385.7 276.7h0M394.2 277.0h0M399.3 277.0h0M390.8 279.6h0M394.5 280.3h0M399.7 279.6h0M391.5 281.9h0M397.0 282.8h0M388.3 285.7h0M393.2 284.7h0M399.0 284.7h0M401.1 285.6h0M407.5 284.7h0M408.8 286.0h0M399.6 288.2h0M402.1 287.3h0M407.4 287.4h0M390.9 291.0h0M395.6 289.7h0M402.1 290.2h0M405.0 290.6h0M412.7 291.0h0M381.2 292.4h0M395.7 293.5h0M403.8 293.3h0M407.3 297.5h0M414.8 298.4h0M427.5 297.6h0M390.4 301.1h0M398.8 300.4h0M417.3 300.9h0M398.3 302.6h0M407.2 303.7h0M394.6 306.4h0M414.2 305.7h0M405.0 308.6h0"/><path stroke="#0019ff" d="M367.3 258.4h0M368.5 261.4h0M370.5 266.4h0M380.9 266.5h0M393.7 268.9h0M401.6 269.8h0M388.4 271.7h0M391.7 272.6h0M393.7 273.0h0M399.1 273.0h0M401.1 271.5h0M390.8 274.5h0M393.6 274.7h0M396.2 275.5h0M396.0 276.8h0M407.4 278.1h0M401.3 282.5h0M406.0 283.0h0M404.1 287.2h0M411.4 293.2h0M417.1 298.2h0M420.4 298.3h0M422.9 297.9h0M425.2 298.7h0M408.7 300.4h0M412.8 300.6h0M415.3 301.0h0M420.4 300.3h0M425.3 301.1h0M408.8 302.6h0M412.8 303.6h0M419.3 303.1h0M422.2 303.6h0M424.8 303.2h0M408.9 306.1h0M416.7 306.7h0M420.2 306.0h0M422.0 305.7h0M424.9 305.6h0M427.2 305.6h0M430.1 305.8h0M417.1 308.8h0M423.0 308.4h0M425.1 308.2h0"/><path stroke="#0033ff" d="M401.9 184.4h0M409.5 183.9h0M395.9 186.1h0M399.5 186.8h0M407.1 187.1h0M402.3 189.1h0M375.6 248.2h0M370.1 251.4h0M367.6 253.3h0M375.9 257.0h0M378.0 256.7h0M372.2 259.2h0M375.3 258.8h0M378.0 258.6h0M380.5 259.1h0M398.8 264.9h0M402.4 263.8h0M391.6 267.1h0M394.3 266.9h0M392.0 269.6h0M396.3 270.1h0M406.6 275.1h0M401.2 278.0h0M404.4 277.3h0M409.8 277.8h0M401.2 280.7h0M406.8 279.2h0M403.6 282.9h0M420.0 292.6h0M423.0 292.3h0M419.1 295.2h0M422.5 295.0h0M409.6 298.8h0M412.5 298.3h0M429.5 297.6h0M428.2 301.5h0M417.3 304.2h0M427.6 304.0h0M427.1 309.1h0"/><path stroke="#004dff" d="M391.8 186.7h0M401.3 185.8h0M399.4 189.2h0M411.2 188.2h0M409.6 191.6h0M383.8 257.1h0M398.5 261.1h0M408.7 269.7h0M401.5 274.8h0M414.9 302.9h0"/><path stroke="#0066ff" d="M412.7 186.1h0M413.9 187.1h0M391.6 189.7h0M408.7 188.3h0M415.1 189.4h0M416.7 189.3h0M414.0 191.8h0M383.4 254.8h0M396.4 263.8h0M398.4 266.5h0M401.2 267.2h0M399.7 270.4h0M406.4 270.0h0M404.9 271.9h0M407.5 271.8h0M408.7 271.6h0M399.6 275.0h0"/><path stroke="#0080ff" d="M385.7 189.7h0M420.6 188.3h0M412.8 191.0h0M417.5 194.1h0M416.6 197.4h0M404.8 269.2h0M422.3 300.2h0M412.1 305.7h0"/><path stroke="#0099ff" d="M422.8 180.8h0M407.4 184.6h0M411.4 184.4h0M419.9 186.1h0M425.5 186.4h0M424.7 188.6h0M416.7 191.0h0M409.6 194.9h0M411.9 194.7h0M414.4 194.5h0M412.5 197.0h0M401.3 262.2h0M416.5 271.5h0M414.9 277.2h0M428.3 290.5h0M409.8 292.7h0M424.3 293.4h0M428.3 293.3h0M418.0 294.8h0M425.2 295.2h0M427.3 295.5h0"/><path stroke="#00b2ff" d="M416.9 180.7h0M420.5 180.6h0M424.5 181.9h0M427.2 181.2h0M415.2 184.3h0M417.4 183.6h0M419.8 183.2h0M422.6 184.4h0M424.8 183.6h0M427.2 183.1h0M404.4 186.8h0M409.2 185.7h0M417.0 186.7h0M421.7 185.8h0M428.3 186.8h0M430.1 186.9h0M407.4 189.2h0M423.2 189.0h0M426.9 189.5h0M429.9 189.5h0M404.1 191.2h0M407.1 192.3h0M420.3 191.3h0M425.5 191.9h0M427.7 191.6h0M429.8 191.8h0M404.5 194.6h0M422.9 193.8h0M424.3 194.8h0M427.1 193.5h0M427.2 197.3h0M393.3 198.6h0M424.8 198.7h0M429.4 198.9h0M427.0 202.3h0M409.2 258.5h0M380.1 269.3h0M404.7 279.9h0M423.1 282.8h0M414.2 288.4h0M417.2 288.2h0M424.8 288.3h0M415.3 290.7h0M416.8 291.1h0M422.9 290.3h0M414.9 292.7h0M417.2 293.0h0M412.2 295.5h0M414.3 295.0h0"/><path stroke="#00ccff" d="M428.1 179.0h0M403.8 189.1h0M394.1 196.8h0M401.5 196.3h0M425.6 196.2h0M389.4 199.7h0M390.7 200.2h0M396.0 199.7h0M393.8 202.1h0M388.6 203.9h0M390.9 204.7h0M393.2 203.9h0M378.1 261.3h0M380.3 261.6h0M385.5 262.6h0M388.2 261.5h0M382.7 264.7h0M391.3 264.8h0M394.0 264.0h0M385.7 266.8h0M396.8 267.8h0M404.4 266.9h0M403.9 275.6h0M427.8 277.6h0M408.6 280.6h0M412.1 280.1h0M409.3 282.7h0M412.1 283.1h0M411.7 286.0h0M417.5 284.4h0M411.5 287.3h0M419.9 287.8h0M427.0 288.5h0M409.1 290.4h0M419.7 290.3h0"/><path stroke="#00e5ff" d="M423.0 192.2h0M422.7 196.9h0M420.2 200.1h0M427.8 199.2h0M395.7 201.6h0M399.7 201.4h0M409.7 202.0h0M423.2 202.1h0M398.7 203.9h0M425.0 204.5h0M426.9 204.6h0M386.4 206.4h0M422.1 207.0h0M425.6 208.0h0M380.4 210.0h0M380.2 212.0h0M382.7 213.2h0M381.4 218.1h0M382.9 217.2h0M399.2 249.5h0M393.6 251.2h0M396.5 251.2h0M380.9 253.9h0M388.4 254.0h0M392.0 254.4h0M393.1 253.5h0M396.5 254.4h0M398.9 254.6h0M400.8 254.5h0M381.6 256.1h0M390.8 257.4h0M397.2 257.1h0M399.3 257.1h0M383.3 259.7h0M385.5 259.4h0M392.0 259.3h0M393.9 258.8h0M396.0 259.3h0M399.1 258.6h0M402.2 259.5h0M404.9 258.9h0M390.7 261.3h0M395.7 261.7h0M403.6 262.6h0M406.4 262.1h0M409.9 262.3h0M389.4 264.2h0M403.9 264.1h0M406.5 266.7h0M412.4 275.0h0M414.5 275.4h0M424.6 276.6h0M429.9 277.2h0M414.4 279.8h0M417.3 279.6h0M419.4 279.7h0M425.7 279.2h0M426.9 280.7h0M415.4 282.4h0M417.2 282.5h0M419.9 282.6h0M424.9 282.0h0M414.6 284.9h0M420.0 285.7h0M423.0 284.4h0M424.9 285.6h0M427.4 285.1h0M409.7 287.8h0M421.7 287.4h0M425.5 289.8h0"/><path stroke="#00ffff" d="M416.9 199.1h0M424.3 202.5h0M384.0 207.6h0M387.8 209.0h0M427.9 209.8h0M386.5 212.5h0M386.8 215.7h0M385.9 218.4h0M384.1 219.6h0M386.1 219.5h0M378.3 222.2h0M383.1 222.2h0M386.2 222.5h0M380.3 224.6h0M383.2 225.4h0M390.4 243.5h0M386.0 246.0h0M391.2 249.2h0M393.6 248.0h0M397.0 249.4h0M390.9 251.8h0M386.3 254.2h0M409.6 254.5h0M386.2 256.6h0M394.1 256.6h0M406.5 256.3h0M408.8 256.5h0M412.0 255.8h0M389.2 258.9h0M406.1 258.5h0M411.5 258.7h0M394.2 261.4h0M406.2 263.7h0M408.6 264.4h0M420.1 270.4h0M424.6 271.7h0M419.1 274.1h0M417.7 278.0h0M419.1 277.5h0M423.2 278.0h0M423.1 280.2h0M427.0 282.5h0"/><path stroke="#1affe5" d="M378.1 204.2h0M426.9 207.9h0M390.4 209.8h0M422.4 209.9h0M425.6 209.9h0M430.1 210.0h0M422.4 212.0h0M424.6 213.1h0M427.9 212.4h0M430.1 212.1h0M425.0 214.7h0M427.1 215.7h0M389.2 217.7h0M389.1 219.5h0M378.7 226.1h0M386.2 225.8h0M391.1 225.8h0M386.6 227.2h0M393.8 244.2h0M391.8 245.8h0M398.4 252.0h0M401.4 250.6h0M403.6 251.9h0M404.4 253.4h0M401.5 256.7h0M404.4 257.2h0M417.4 256.8h0M425.1 270.3h0M421.7 272.1h0M426.8 271.7h0M429.6 272.9h0M422.1 274.2h0M424.4 275.3h0M427.1 274.7h0"/><path stroke="#33ffcc" d="M399.5 194.0h0M425.8 217.8h0M404.6 246.0h0M406.4 245.6h0M402.4 248.4h0M406.9 248.9h0M409.6 266.3h0M417.9 267.5h0M422.7 269.9h0"/><path stroke="#4dffb2" d="M419.0 194.1h0M360.0 202.6h0M363.4 202.5h0M399.3 246.9h0M402.3 245.9h0M411.7 251.0h0M427.7 259.9h0M427.2 261.6h0"/><path stroke="#66ff99" d="M399.4 191.1h0M401.3 191.3h0M395.7 193.6h0M401.0 194.7h0M388.7 197.3h0M391.6 197.0h0M396.6 196.2h0M415.3 197.4h0M419.3 197.2h0M422.3 198.7h0M417.9 204.4h0M419.1 205.1h0M422.5 204.7h0M359.6 207.1h0M370.0 206.7h0M412.6 269.8h0M411.5 271.9h0M419.2 272.9h0M409.6 274.4h0M416.6 274.1h0M412.7 276.8h0"/><path stroke="#80ff80" d="M394.4 186.8h0M395.6 189.5h0M389.3 191.5h0M393.7 191.6h0M397.0 191.5h0M385.6 194.9h0M390.4 194.6h0M394.6 194.0h0M382.9 196.4h0M385.5 197.4h0M363.0 198.8h0M364.6 199.8h0M380.2 199.1h0M383.6 199.3h0M385.9 199.3h0M414.9 200.2h0M385.5 201.3h0M389.3 202.0h0M391.7 202.7h0M411.6 201.5h0M414.0 201.3h0M416.8 202.1h0M420.5 201.8h0M359.8 204.0h0M362.6 204.8h0M367.5 205.2h0M381.0 204.7h0M383.9 205.0h0M385.7 204.1h0M397.1 204.5h0M412.5 204.3h0M415.3 204.1h0M365.0 206.6h0M409.9 206.6h0M412.0 207.5h0M415.1 207.4h0M417.1 207.7h0M419.4 207.1h0M372.6 209.4h0M417.5 209.3h0M419.9 209.3h0M410.1 212.2h0M414.4 212.7h0M409.3 215.8h0M414.4 214.7h0M419.7 215.0h0M367.6 238.3h0M376.1 238.0h0M380.6 238.9h0M368.4 241.3h0M369.8 240.8h0M376.4 241.1h0M377.9 241.5h0M380.1 240.4h0M383.3 241.8h0M388.1 241.0h0M381.3 244.0h0M383.8 243.2h0M388.4 243.1h0M375.2 246.1h0M384.2 246.3h0M387.9 246.4h0M385.8 248.4h0M415.2 267.2h0M414.9 272.3h0"/><path stroke="#99ff66" d="M376.0 196.5h0M381.5 197.2h0M359.7 200.0h0M367.4 198.9h0M407.0 199.3h0M409.3 199.5h0M412.1 199.8h0M367.4 202.7h0M384.1 201.4h0M406.0 204.3h0M407.5 212.7h0M422.1 214.3h0M411.4 217.6h0M413.9 217.4h0M422.7 217.3h0M427.0 217.1h0M373.4 236.5h0M381.5 236.6h0M372.8 238.3h0M377.5 237.9h0M382.9 239.1h0M386.6 238.7h0M388.7 237.7h0M390.4 239.1h0M412.4 263.7h0M412.3 266.9h0M419.5 267.1h0M416.6 269.1h0"/><path stroke="#b3ff4c" d="M372.5 202.7h0M416.8 215.4h0M417.8 217.2h0M424.3 220.3h0M427.9 220.3h0M425.0 222.4h0M427.4 222.4h0M382.8 235.4h0M396.3 238.1h0M409.7 252.0h0M411.5 253.6h0M414.1 253.7h0M414.9 257.1h0M413.8 259.2h0M412.4 261.1h0M414.5 261.4h0M417.3 262.3h0M415.0 264.3h0M416.5 264.1h0M414.2 269.6h0"/><path stroke="#ccff33" d="M407.6 209.8h0M411.9 215.2h0M420.5 220.6h0M422.6 220.2h0M422.5 225.3h0M428.2 227.6h0M406.9 253.7h0M417.8 258.9h0"/><path stroke="#e5ff1a" d="M414.6 210.6h0M411.2 212.0h0M416.4 212.1h0M420.2 212.0h0M419.7 218.0h0M430.0 219.4h0M412.6 231.0h0M409.3 236.6h0M411.6 236.2h0M419.1 235.6h0M412.5 237.9h0M415.2 238.2h0M419.4 238.5h0M425.7 238.6h0M414.2 240.8h0M417.5 241.5h0M420.0 240.6h0M421.7 241.2h0M428.2 241.8h0M412.4 243.9h0M414.8 243.8h0M416.5 243.3h0M420.6 243.5h0M424.4 244.4h0M429.5 243.4h0M412.7 245.7h0M414.5 245.6h0M416.8 246.9h0M426.9 246.8h0M412.4 249.4h0M422.7 261.6h0M419.5 264.3h0M422.7 264.1h0M424.4 264.5h0M430.0 263.9h0M422.4 266.7h0M424.7 266.9h0M427.0 267.2h0M428.0 269.8h0"/><path stroke="#ffff00" d="M406.6 202.5h0M409.6 204.1h0M399.6 210.6h0M410.0 210.3h0M400.9 212.4h0M404.0 212.4h0M408.8 217.8h0M411.3 219.9h0M414.1 220.5h0M417.2 222.8h0M429.5 223.5h0M406.8 227.7h0M406.6 231.3h0M409.8 231.3h0M406.8 233.1h0M410.1 233.8h0M412.6 233.1h0M414.2 233.9h0M417.4 233.7h0M419.1 233.9h0M406.9 235.4h0M414.9 235.8h0M417.1 238.7h0M427.1 238.0h0M412.1 241.0h0M427.7 244.1h0M429.6 245.7h0M419.8 248.3h0M424.7 248.3h0M428.2 249.1h0M429.9 248.8h0M430.0 251.4h0M425.3 254.7h0M426.9 254.7h0M421.8 256.1h0M428.3 256.4h0M421.6 259.9h0M430.0 259.8h0M420.4 261.5h0M424.4 262.1h0M427.0 264.4h0"/><path stroke="#ffe500" d="M407.4 195.0h0M399.5 196.5h0M401.5 199.9h0M388.9 207.5h0M386.7 210.0h0M412.6 209.7h0M389.2 211.9h0M404.4 215.3h0M414.5 222.1h0M401.1 230.0h0M395.7 233.0h0M401.1 236.0h0M404.6 236.1h0M416.7 235.6h0M395.7 245.5h0M420.1 253.3h0"/><path stroke="#ffcc00" d="M404.1 197.4h0M407.0 197.6h0M410.2 197.3h0M399.7 199.3h0M404.1 199.4h0M402.1 204.3h0M391.4 207.8h0M393.3 207.6h0M396.9 207.9h0M398.3 206.8h0M407.3 207.4h0M394.4 210.3h0M396.9 209.9h0M390.9 212.0h0M391.9 219.6h0M391.3 235.6h0M393.3 240.5h0M395.9 244.0h0M393.7 246.2h0M419.2 245.6h0M422.3 245.6h0M403.4 248.2h0M410.2 248.5h0M407.1 250.8h0M417.6 251.2h0M422.3 250.9h0M417.2 254.6h0M423.1 254.7h0M419.3 259.6h0M425.8 258.8h0"/><path stroke="#ffb300" d="M401.7 202.2h0M404.3 201.4h0M404.9 205.0h0M401.6 206.9h0M403.7 206.5h0M402.2 210.0h0M404.1 209.2h0M394.3 212.6h0M396.0 212.5h0M400.9 215.0h0M407.3 215.5h0M394.3 219.8h0M412.1 222.6h0M375.0 225.9h0M399.3 236.0h0M373.4 240.4h0M390.7 241.2h0M395.9 241.3h0M398.9 241.6h0M402.2 240.8h0M404.9 241.3h0M399.3 242.9h0M401.8 243.8h0M423.0 244.3h0M409.2 245.7h0M425.5 245.9h0M414.2 249.0h0M417.3 248.1h0M422.2 249.4h0M415.3 250.7h0M420.3 251.4h0M424.2 251.3h0M427.1 251.6h0M429.8 254.1h0M420.3 257.2h0M424.7 256.5h0"/><path stroke="#ff9900" d="M407.4 218.2h0M410.1 220.5h0M389.3 224.7h0M370.9 227.3h0M375.1 228.1h0M380.4 228.6h0M398.6 229.8h0M404.4 231.1h0M373.4 233.1h0M398.7 232.8h0M404.7 232.5h0M371.2 236.4h0M375.9 235.7h0M389.2 236.3h0M396.7 235.1h0M399.3 238.2h0M409.2 238.7h0M406.8 240.3h0M403.7 243.6h0M406.8 243.2h0M408.7 244.0h0"/><path stroke="#ff8000" d="M387.9 215.2h0M391.3 215.6h0M416.6 220.4h0M388.1 223.6h0M397.0 222.5h0M398.4 222.5h0M421.8 223.4h0M399.5 226.1h0M402.3 225.3h0M404.1 225.1h0M416.4 224.7h0M368.6 227.7h0M394.6 227.6h0M396.5 227.4h0M399.4 228.3h0M402.3 228.4h0M403.4 228.2h0M372.6 230.3h0M393.5 229.8h0M396.1 231.2h0M370.9 232.7h0M374.9 233.6h0M378.8 232.7h0M387.9 233.2h0M391.9 232.9h0M393.8 233.1h0M401.4 233.3h0M393.5 236.4h0M370.0 238.6h0M401.0 239.0h0M404.6 238.5h0M406.7 239.0h0M409.0 240.9h0M424.9 240.5h0"/><path stroke="#ff6600" d="M380.8 193.6h0M365.3 204.3h0M373.4 206.6h0M398.3 213.2h0M391.8 217.9h0M390.4 222.0h0M420.0 222.4h0M397.2 225.7h0M419.8 225.0h0M425.4 226.2h0M427.6 224.9h0M384.2 227.7h0M388.2 228.6h0M390.9 227.8h0M424.8 227.7h0M429.8 228.1h0M383.0 230.0h0M380.2 232.9h0M382.6 233.9h0M385.4 233.9h0M378.0 235.0h0M385.5 236.4h0M422.3 236.5h0M424.9 235.5h0M393.5 238.0h0M422.2 237.7h0"/><path stroke="#ff4c00" d="M370.9 196.4h0M378.8 196.3h0M370.8 204.3h0M395.7 219.4h0M394.4 222.0h0M393.4 225.8h0M380.8 231.4h0M386.1 229.8h0M389.3 230.1h0M391.8 230.6h0"/><path stroke="#ff3300" d="M371.1 198.9h0M373.3 198.9h0M376.3 199.2h0M370.8 201.5h0M377.7 201.5h0M373.3 204.6h0M414.9 229.9h0"/><path stroke="#ff1a00" d="M369.7 209.0h0M399.0 217.7h0M401.2 217.0h0M403.7 218.2h0M399.7 219.5h0M401.0 220.3h0M404.2 219.7h0M401.4 222.6h0M404.1 222.7h0M407.5 224.9h0M408.9 226.1h0M411.8 225.6h0M415.3 225.2h0M413.9 228.4h0M416.6 227.4h0M420.0 227.4h0M420.5 230.5h0M428.1 231.0h0M422.9 232.5h0M428.0 235.7h0M429.8 235.4h0"/><path stroke="#ff0000" d="M394.3 215.3h0M395.8 214.3h0M399.6 214.8h0M394.2 218.1h0M395.6 218.2h0M406.1 220.2h0M406.1 222.5h0M408.7 222.4h0M410.0 228.1h0M411.9 228.7h0M422.0 228.8h0M417.7 231.3h0M422.2 229.9h0M424.4 231.0h0M425.5 232.4h0M427.1 233.1h0M429.7 233.2h0"/></g><g stroke-width="7" stroke-linecap="round" fill="none"><path stroke="#0000cc" d="M338.7 233.1h0"/><path stroke="#0000e6" d="M351.4 249.3h0M361.9 254.4h0"/><path stroke="#0033ff" d="M351.7 213.1h0"/><path stroke="#004dff" d="M352.1 210.1h0"/><path stroke="#0066ff" d="M349.1 203.9h0M347.4 207.2h0M354.7 214.4h0"/><path stroke="#0080ff" d="M357.1 245.9h0M363.0 248.8h0M362.1 256.0h0"/><path stroke="#0099ff" d="M363.1 243.9h0M374.9 253.3h0"/><path stroke="#00b2ff" d="M370.7 246.5h0M372.3 246.9h0"/><path stroke="#00ccff" d="M341.6 202.4h0M344.0 202.0h0M374.8 210.4h0M383.2 210.4h0M333.4 217.1h0M370.8 219.5h0M381.2 219.4h0M372.9 251.0h0"/><path stroke="#00e5ff" d="M337.3 207.8h0M341.1 207.7h0M380.9 208.0h0M365.6 209.7h0M367.1 217.3h0M334.6 223.6h0M336.5 223.0h0M380.2 222.2h0M377.7 227.5h0M370.4 230.9h0M342.2 245.5h0M341.9 252.1h0M352.4 251.4h0"/><path stroke="#00ffff" d="M330.8 216.9h0M377.9 217.3h0M344.7 230.1h0"/><path stroke="#1affe5" d="M335.8 212.1h0"/><path stroke="#4dffb2" d="M343.8 232.8h0M346.7 238.8h0"/><path stroke="#66ff99" d="M378.6 188.7h0M375.9 202.2h0M352.6 215.7h0M365.5 218.4h0M365.0 222.4h0M358.0 230.3h0M378.4 254.2h0"/><path stroke="#80ff80" d="M370.1 191.2h0M383.7 191.6h0M388.5 194.0h0M362.7 197.1h0M377.8 199.0h0M360.5 220.2h0M365.3 220.3h0M367.5 223.1h0M339.1 225.5h0M339.5 228.7h0M354.3 236.1h0"/><path stroke="#99ff66" d="M377.5 191.9h0M391.3 192.0h0M341.1 214.4h0M347.3 216.9h0M372.4 223.4h0M360.1 226.0h0"/><path stroke="#b3ff4c" d="M365.2 196.1h0"/><path stroke="#ccff33" d="M351.6 199.4h0"/><path stroke="#ffff00" d="M355.5 197.0h0M357.3 201.5h0"/><path stroke="#ff4c00" d="M336.1 202.3h0"/><path stroke="#ff3300" d="M341.0 205.2h0M351.5 217.8h0"/><path stroke="#ff1a00" d="M352.4 196.3h0M333.5 201.2h0"/><path stroke="#ff0000" d="M333.8 207.9h0M360.5 222.5h0"/></g><use href="#map"/><text x="216.0" y="77.0" font-size="13" font-weight="bold" fill="#262626" stroke="#262626" stroke-width="0.35" textLength="24.4" lengthAdjust="spacingAndGlyphs">100</text><circle cx="245.0" cy="64.4" r="1.4" fill="none" stroke="#262626" stroke-width="0.85"/><text x="252.8" y="77.0" font-size="13" font-weight="bold" fill="#262626" stroke="#262626" stroke-width="0.35" textLength="12.8" lengthAdjust="spacingAndGlyphs">W</text><text x="284.8" y="77.0" font-size="13" font-weight="bold" fill="#262626" stroke="#262626" stroke-width="0.35" textLength="15.6" lengthAdjust="spacingAndGlyphs">90</text><circle cx="305.0" cy="64.4" r="1.4" fill="none" stroke="#262626" stroke-width="0.85"/><text x="313.6" y="77.0" font-size="13" font-weight="bold" fill="#262626" stroke="#262626" stroke-width="0.35" textLength="12.8" lengthAdjust="spacingAndGlyphs">W</text><text x="348.8" y="77.0" font-size="13" font-weight="bold" fill="#262626" stroke="#262626" stroke-width="0.35" textLength="16.6" lengthAdjust="spacingAndGlyphs">80</text><circle cx="370.0" cy="64.4" r="1.4" fill="none" stroke="#262626" stroke-width="0.85"/><text x="377.6" y="77.0" font-size="13" font-weight="bold" fill="#262626" stroke="#262626" stroke-width="0.35" textLength="13.2" lengthAdjust="spacingAndGlyphs">W</text><text x="412.0" y="77.0" font-size="13" font-weight="bold" fill="#262626" stroke="#262626" stroke-width="0.35" textLength="15.2" lengthAdjust="spacingAndGlyphs">70</text><circle cx="432.0" cy="64.4" r="1.4" fill="none" stroke="#262626" stroke-width="0.85"/><text x="440.6" y="77.0" font-size="13" font-weight="bold" fill="#262626" stroke="#262626" stroke-width="0.35" textLength="13.0" lengthAdjust="spacingAndGlyphs">W</text><text x="146.7" y="112.9" font-size="13" font-weight="bold" fill="#262626" stroke="#262626" stroke-width="0.35" textLength="16.9" lengthAdjust="spacingAndGlyphs">48</text><circle cx="168.0" cy="99.4" r="1.4" fill="none" stroke="#262626" stroke-width="0.85"/><text x="175.5" y="112.9" font-size="13" font-weight="bold" fill="#262626" stroke="#262626" stroke-width="0.35" textLength="9.4" lengthAdjust="spacingAndGlyphs">N</text><text x="146.7" y="130.8" font-size="13" font-weight="bold" fill="#262626" stroke="#262626" stroke-width="0.35" textLength="16.9" lengthAdjust="spacingAndGlyphs">46</text><circle cx="168.0" cy="118.3" r="1.4" fill="none" stroke="#262626" stroke-width="0.85"/><text x="175.5" y="130.8" font-size="13" font-weight="bold" fill="#262626" stroke="#262626" stroke-width="0.35" textLength="9.4" lengthAdjust="spacingAndGlyphs">N</text><text x="146.7" y="148.2" font-size="13" font-weight="bold" fill="#262626" stroke="#262626" stroke-width="0.35" textLength="16.9" lengthAdjust="spacingAndGlyphs">44</text><circle cx="168.0" cy="135.4" r="1.4" fill="none" stroke="#262626" stroke-width="0.85"/><text x="175.5" y="148.2" font-size="13" font-weight="bold" fill="#262626" stroke="#262626" stroke-width="0.35" textLength="9.4" lengthAdjust="spacingAndGlyphs">N</text><text x="146.7" y="166.5" font-size="13" font-weight="bold" fill="#262626" stroke="#262626" stroke-width="0.35" textLength="16.9" lengthAdjust="spacingAndGlyphs">42</text><circle cx="168.0" cy="153.2" r="1.4" fill="none" stroke="#262626" stroke-width="0.85"/><text x="175.5" y="166.5" font-size="13" font-weight="bold" fill="#262626" stroke="#262626" stroke-width="0.35" textLength="9.4" lengthAdjust="spacingAndGlyphs">N</text><text x="146.7" y="183.2" font-size="13" font-weight="bold" fill="#262626" stroke="#262626" stroke-width="0.35" textLength="16.9" lengthAdjust="spacingAndGlyphs">40</text><circle cx="168.0" cy="170.3" r="1.4" fill="none" stroke="#262626" stroke-width="0.85"/><text x="175.5" y="183.2" font-size="13" font-weight="bold" fill="#262626" stroke="#262626" stroke-width="0.35" textLength="9.4" lengthAdjust="spacingAndGlyphs">N</text><text x="146.7" y="198.3" font-size="13" font-weight="bold" fill="#262626" stroke="#262626" stroke-width="0.35" textLength="16.9" lengthAdjust="spacingAndGlyphs">38</text><circle cx="168.0" cy="185.5" r="1.4" fill="none" stroke="#262626" stroke-width="0.85"/><text x="175.5" y="198.3" font-size="13" font-weight="bold" fill="#262626" stroke="#262626" stroke-width="0.35" textLength="9.4" lengthAdjust="spacingAndGlyphs">N</text><text x="146.7" y="215.5" font-size="13" font-weight="bold" fill="#262626" stroke="#262626" stroke-width="0.35" textLength="16.9" lengthAdjust="spacingAndGlyphs">36</text><circle cx="168.0" cy="201.5" r="1.4" fill="none" stroke="#262626" stroke-width="0.85"/><text x="175.5" y="215.5" font-size="13" font-weight="bold" fill="#262626" stroke="#262626" stroke-width="0.35" textLength="9.4" lengthAdjust="spacingAndGlyphs">N</text><text x="146.7" y="229.1" font-size="13" font-weight="bold" fill="#262626" stroke="#262626" stroke-width="0.35" textLength="16.9" lengthAdjust="spacingAndGlyphs">34</text><circle cx="168.0" cy="216.2" r="1.4" fill="none" stroke="#262626" stroke-width="0.85"/><text x="175.5" y="229.1" font-size="13" font-weight="bold" fill="#262626" stroke="#262626" stroke-width="0.35" textLength="9.4" lengthAdjust="spacingAndGlyphs">N</text><text x="146.7" y="245.8" font-size="13" font-weight="bold" fill="#262626" stroke="#262626" stroke-width="0.35" textLength="16.9" lengthAdjust="spacingAndGlyphs">32</text><circle cx="168.0" cy="233.2" r="1.4" fill="none" stroke="#262626" stroke-width="0.85"/><text x="175.5" y="245.8" font-size="13" font-weight="bold" fill="#262626" stroke="#262626" stroke-width="0.35" textLength="9.4" lengthAdjust="spacingAndGlyphs">N</text><text x="146.7" y="260.0" font-size="13" font-weight="bold" fill="#262626" stroke="#262626" stroke-width="0.35" textLength="16.9" lengthAdjust="spacingAndGlyphs">30</text><circle cx="168.0" cy="247.3" r="1.4" fill="none" stroke="#262626" stroke-width="0.85"/><text x="175.5" y="260.0" font-size="13" font-weight="bold" fill="#262626" stroke="#262626" stroke-width="0.35" textLength="9.4" lengthAdjust="spacingAndGlyphs">N</text><text x="146.7" y="273.7" font-size="13" font-weight="bold" fill="#262626" stroke="#262626" stroke-width="0.35" textLength="16.9" lengthAdjust="spacingAndGlyphs">28</text><circle cx="168.0" cy="260.5" r="1.4" fill="none" stroke="#262626" stroke-width="0.85"/><text x="175.5" y="273.7" font-size="13" font-weight="bold" fill="#262626" stroke="#262626" stroke-width="0.35" textLength="9.4" lengthAdjust="spacingAndGlyphs">N</text><text x="146.7" y="287.7" font-size="13" font-weight="bold" fill="#262626" stroke="#262626" stroke-width="0.35" textLength="16.9" lengthAdjust="spacingAndGlyphs">26</text><circle cx="168.0" cy="274.1" r="1.4" fill="none" stroke="#262626" stroke-width="0.85"/><text x="175.5" y="287.7" font-size="13" font-weight="bold" fill="#262626" stroke="#262626" stroke-width="0.35" textLength="9.4" lengthAdjust="spacingAndGlyphs">N</text><text x="146.7" y="301.1" font-size="13" font-weight="bold" fill="#262626" stroke="#262626" stroke-width="0.35" textLength="16.9" lengthAdjust="spacingAndGlyphs">24</text><circle cx="168.0" cy="288.9" r="1.4" fill="none" stroke="#262626" stroke-width="0.85"/><text x="175.5" y="301.1" font-size="13" font-weight="bold" fill="#262626" stroke="#262626" stroke-width="0.35" textLength="9.4" lengthAdjust="spacingAndGlyphs">N</text><text x="146.7" y="314.8" font-size="13" font-weight="bold" fill="#262626" stroke="#262626" stroke-width="0.35" textLength="16.9" lengthAdjust="spacingAndGlyphs">22</text><circle cx="168.0" cy="301.1" r="1.4" fill="none" stroke="#262626" stroke-width="0.85"/><text x="175.5" y="314.8" font-size="13" font-weight="bold" fill="#262626" stroke="#262626" stroke-width="0.35" textLength="9.4" lengthAdjust="spacingAndGlyphs">N</text></g><g transform="translate(0,0)"><rect x="441.2" y="95.2" width="23.6" height="215" fill="url(#jet)" stroke="#262626" stroke-width="0.8"/><line x1="462.5" y1="202.7" x2="464.8" y2="202.7" stroke="#262626" stroke-width="0.8"/><text x="473.9" y="103.3" font-size="22" font-weight="bold" fill="#262626" stroke="#262626" stroke-width="0.45" textLength="42.5" lengthAdjust="spacingAndGlyphs">100</text><text x="474.0" y="210.3" font-size="22" font-weight="bold" fill="#262626" stroke="#262626" stroke-width="0.45" textLength="27.0" lengthAdjust="spacingAndGlyphs">50</text><text x="474.0" y="317.9" font-size="22" font-weight="bold" fill="#262626" stroke="#262626" stroke-width="0.45" textLength="13.0" lengthAdjust="spacingAndGlyphs">0</text></g><text x="140.8" y="341.7" font-size="23" font-weight="bold" fill="#262626" stroke="#262626" stroke-width="0.45" textLength="333.6" lengthAdjust="spacingAndGlyphs">SAT 350 hPa RH (Percent)</text></g><g transform="translate(842.2,389.8)"><g transform="translate(195.6,203.0) scale(1.0026,1.007) translate(-195.6,-202.85)"><rect x="195.6" y="96.4" width="234.1" height="213.0" fill="none" stroke="#000" stroke-width="1"/><g stroke-width="5.4" stroke-linecap="round" fill="none"><path stroke="#0000b2" d="M427.3 204.3h0M416.6 209.9h0M421.7 210.1h0M425.0 210.0h0M426.9 210.6h0M420.0 212.8h0M425.3 213.0h0M427.9 213.1h0M422.1 214.6h0M427.5 216.9h0M429.9 219.6h0M361.9 281.9h0M385.4 284.5h0M360.3 287.7h0M363.2 288.3h0M365.8 287.9h0M369.7 288.5h0M375.3 288.5h0M378.3 287.8h0M380.6 287.9h0M383.4 287.4h0M354.9 289.7h0M357.6 290.4h0M360.0 289.6h0M362.1 290.2h0M369.9 290.2h0M373.4 290.7h0M375.9 290.1h0M377.7 290.6h0M380.6 289.9h0M383.9 290.2h0M386.3 290.3h0M389.2 290.1h0M357.9 293.3h0M359.6 293.5h0M362.2 293.3h0M367.8 293.5h0M370.0 292.4h0M373.8 293.7h0M375.8 292.2h0M377.7 292.7h0M383.0 293.7h0M359.4 296.0h0M363.3 296.0h0M365.4 295.4h0M368.3 296.0h0M370.7 296.2h0M373.6 295.1h0M375.8 295.4h0M378.3 294.8h0M380.9 295.6h0M383.2 295.5h0M388.8 296.1h0M391.6 296.4h0M357.9 297.5h0M360.7 298.6h0M363.3 298.6h0M364.7 298.7h0M368.3 298.2h0M369.9 297.6h0M375.1 297.8h0M378.9 298.3h0M382.6 298.9h0M385.3 297.6h0M359.6 300.4h0M363.1 301.4h0M367.7 300.4h0M370.4 300.4h0M372.3 301.4h0M375.8 300.3h0M378.8 301.3h0M380.7 300.3h0M384.2 301.0h0M391.8 300.2h0M362.4 302.6h0M365.0 303.7h0M368.3 303.6h0M370.8 304.0h0M373.6 303.2h0M374.9 303.4h0M378.8 303.5h0M380.3 304.1h0M389.1 303.6h0M361.8 306.1h0M364.6 305.3h0M368.0 306.4h0M371.0 306.6h0M373.3 306.7h0M375.1 305.6h0M378.0 306.0h0M380.8 306.7h0M382.7 305.5h0M386.3 306.4h0M362.3 308.3h0M367.1 308.2h0M369.6 309.2h0M376.0 308.4h0M380.2 308.9h0M383.0 308.4h0"/><path stroke="#0000cc" d="M420.1 207.1h0M421.6 206.9h0M415.0 215.2h0M425.8 215.5h0M426.8 214.9h0M422.6 218.1h0M424.3 217.5h0M416.4 220.4h0M382.9 275.5h0M380.3 276.9h0M386.0 277.0h0M351.6 282.5h0M413.9 281.9h0M359.5 285.7h0M365.8 285.9h0M367.2 284.6h0M381.4 285.5h0M388.5 285.2h0M355.5 287.7h0M388.2 287.8h0M365.8 290.1h0M365.2 292.3h0M380.2 293.0h0M372.8 297.9h0M380.1 298.4h0M388.8 297.7h0M391.1 298.2h0M364.5 300.2h0M386.7 300.7h0M359.5 303.2h0M383.9 303.9h0M388.8 306.5h0M393.0 305.7h0M365.1 309.4h0M373.4 308.0h0M378.4 309.1h0M393.6 309.0h0"/><path stroke="#0000e6" d="M412.1 196.8h0M414.9 196.7h0M417.7 198.8h0M423.0 200.1h0M429.4 200.0h0M409.7 201.5h0M412.5 201.8h0M414.1 201.8h0M417.2 201.3h0M421.7 201.3h0M424.3 202.0h0M426.9 201.5h0M412.1 204.8h0M415.0 204.2h0M416.7 204.7h0M419.6 203.8h0M421.6 204.4h0M424.3 204.1h0M429.4 204.6h0M414.4 207.2h0M417.3 206.6h0M425.8 207.4h0M427.7 206.5h0M412.0 210.1h0M415.2 209.8h0M422.3 212.0h0M419.4 215.1h0M417.2 216.8h0M430.1 218.0h0M425.3 220.1h0M425.1 222.3h0M354.2 262.0h0M359.6 265.2h0M347.0 267.3h0M349.5 266.4h0M352.2 267.4h0M355.4 267.3h0M359.4 267.2h0M367.1 266.8h0M401.9 267.3h0M352.3 270.2h0M355.0 270.4h0M360.2 269.5h0M370.3 270.0h0M372.5 269.3h0M376.2 268.8h0M381.1 269.9h0M386.5 269.6h0M352.7 271.8h0M354.3 272.8h0M358.1 272.2h0M359.3 272.7h0M362.3 272.8h0M364.6 271.8h0M370.8 271.5h0M372.6 272.0h0M376.3 272.9h0M377.8 272.8h0M380.6 271.6h0M383.6 271.5h0M386.8 272.3h0M391.6 272.4h0M394.4 271.6h0M349.4 274.8h0M352.2 275.6h0M355.4 275.4h0M357.5 275.5h0M363.2 274.1h0M365.0 274.9h0M368.0 275.0h0M372.7 275.5h0M377.7 274.2h0M380.2 275.2h0M385.9 274.7h0M387.9 275.6h0M391.4 274.7h0M399.2 275.6h0M409.1 275.6h0M415.2 275.0h0M352.6 277.7h0M357.8 277.4h0M368.2 277.0h0M371.1 277.0h0M373.6 277.3h0M375.7 277.4h0M378.2 276.8h0M383.1 277.0h0M389.3 278.1h0M390.8 277.3h0M394.6 277.8h0M396.0 277.8h0M398.2 277.7h0M403.5 277.4h0M352.3 280.1h0M355.1 280.3h0M356.8 280.3h0M360.2 280.7h0M362.9 280.1h0M365.5 279.2h0M367.5 280.6h0M369.8 279.7h0M376.1 279.8h0M381.1 280.8h0M382.9 280.7h0M385.8 279.6h0M388.1 279.4h0M391.8 280.2h0M394.4 280.1h0M396.3 280.0h0M399.6 280.7h0M402.2 279.7h0M404.7 279.6h0M406.0 280.6h0M414.1 280.7h0M354.4 281.9h0M359.3 282.9h0M365.3 282.2h0M368.2 282.9h0M370.0 282.8h0M375.3 283.0h0M378.9 282.6h0M381.1 282.7h0M386.3 282.6h0M388.9 281.9h0M393.7 282.3h0M396.7 282.7h0M398.7 283.1h0M401.1 281.9h0M404.8 283.4h0M406.4 283.2h0M409.1 282.8h0M411.8 282.2h0M417.5 283.3h0M352.8 285.0h0M354.3 285.2h0M362.3 285.6h0M372.3 284.8h0M375.0 285.3h0M378.2 284.4h0M384.1 285.6h0M390.7 284.7h0M393.8 284.7h0M396.0 285.9h0M398.7 285.1h0M401.6 284.8h0M407.2 285.9h0M409.3 285.4h0M411.2 286.0h0M416.7 284.7h0M420.4 285.0h0M423.2 285.0h0M428.1 285.8h0M357.7 287.1h0M367.2 288.2h0M373.3 287.3h0M386.7 287.5h0M391.8 288.4h0M393.7 287.7h0M396.8 288.2h0M399.5 288.0h0M402.3 287.2h0M403.5 288.0h0M406.5 288.2h0M410.1 288.0h0M412.1 288.1h0M413.9 287.3h0M420.0 287.8h0M422.1 287.7h0M425.5 288.1h0M367.1 289.9h0M391.7 290.8h0M396.2 290.9h0M398.5 290.8h0M401.9 290.7h0M407.6 289.7h0M409.7 289.7h0M414.9 290.2h0M416.5 290.4h0M420.5 290.0h0M425.6 290.0h0M429.8 289.6h0M385.6 292.3h0M389.1 293.8h0M391.0 292.6h0M393.0 293.6h0M397.0 293.6h0M402.3 292.8h0M404.3 292.3h0M406.7 293.1h0M412.0 292.7h0M415.2 293.2h0M417.9 293.2h0M419.1 293.2h0M422.3 292.8h0M425.4 293.2h0M427.7 293.8h0M429.8 292.4h0M357.1 295.6h0M385.4 294.8h0M394.2 295.5h0M395.7 294.9h0M399.1 295.0h0M404.4 295.2h0M406.2 295.2h0M409.3 295.1h0M414.2 295.4h0M417.3 295.6h0M419.4 295.7h0M425.7 296.4h0M427.5 296.2h0M394.6 297.6h0M395.9 297.5h0M399.2 298.8h0M401.2 298.0h0M403.7 298.7h0M409.7 298.9h0M411.4 298.8h0M415.0 298.5h0M416.5 298.5h0M422.1 297.4h0M424.9 298.6h0M427.9 297.8h0M389.1 300.4h0M393.6 301.5h0M395.7 300.1h0M399.0 300.1h0M401.1 300.9h0M404.6 300.1h0M407.3 300.4h0M409.2 300.9h0M412.5 301.3h0M414.9 300.1h0M417.8 301.2h0M419.9 300.4h0M422.0 300.5h0M427.3 301.0h0M429.9 300.6h0M391.4 303.3h0M394.5 303.8h0M396.9 302.8h0M398.6 303.8h0M407.0 303.0h0M408.9 303.8h0M415.2 303.9h0M416.7 304.0h0M419.6 304.1h0M421.7 303.3h0M424.3 302.7h0M427.8 304.1h0M391.4 306.5h0M396.0 305.7h0M398.2 305.3h0M402.2 306.4h0M405.0 305.3h0M406.8 306.5h0M409.1 305.3h0M412.8 305.3h0M414.6 305.5h0M420.2 305.6h0M421.7 305.6h0M425.1 305.9h0M427.4 305.4h0M385.8 309.4h0M389.1 308.7h0M391.7 308.5h0M396.9 308.7h0M401.7 307.9h0M404.1 308.6h0M406.4 308.2h0M409.7 307.9h0M411.2 307.9h0M414.6 308.5h0M417.9 308.0h0M420.2 308.3h0M422.7 308.3h0M425.3 308.2h0"/><path stroke="#0000ff" d="M417.6 192.4h0M430.2 197.2h0M412.3 199.2h0M419.3 199.1h0M425.4 199.2h0M427.4 199.7h0M419.0 201.7h0M410.1 206.6h0M411.4 207.5h0M407.3 210.1h0M409.5 212.9h0M414.2 212.4h0M417.3 215.3h0M428.1 220.2h0M421.7 222.7h0M427.2 223.0h0M429.5 222.5h0M429.7 230.6h0M362.6 261.5h0M361.8 265.0h0M370.5 264.7h0M376.0 264.5h0M380.4 264.8h0M393.1 264.6h0M395.6 264.1h0M378.9 267.1h0M380.4 267.7h0M383.0 267.4h0M385.3 267.1h0M391.4 266.3h0M363.2 269.0h0M365.7 270.2h0M367.1 269.7h0M378.3 269.0h0M383.3 269.3h0M389.3 269.1h0M390.5 269.3h0M396.7 269.5h0M401.2 269.9h0M349.7 272.5h0M367.7 273.0h0M397.2 272.9h0M399.2 272.4h0M359.5 275.4h0M370.6 274.7h0M376.1 275.2h0M393.0 275.3h0M396.7 274.8h0M412.0 275.5h0M354.8 276.8h0M359.3 277.1h0M362.6 277.4h0M365.5 277.7h0M411.3 277.6h0M372.4 280.2h0M377.6 280.7h0M411.2 280.0h0M416.6 280.4h0M357.3 282.2h0M373.5 283.2h0M383.2 283.1h0M390.7 282.7h0M419.0 283.1h0M423.1 283.3h0M357.2 285.8h0M370.2 285.4h0M404.8 285.0h0M415.4 285.6h0M393.2 290.0h0M404.6 289.7h0M411.6 290.0h0M422.8 291.2h0M427.5 290.3h0M398.8 292.4h0M410.0 293.6h0M402.4 296.2h0M411.4 294.8h0M422.5 295.9h0M430.1 294.8h0M406.7 298.3h0M425.1 300.2h0M386.6 303.4h0M401.6 303.3h0M404.6 303.8h0M412.2 302.7h0M416.8 306.0h0M398.5 308.3h0M427.2 308.7h0"/><path stroke="#0019ff" d="M416.6 196.9h0M404.4 199.5h0M401.9 201.7h0M406.9 201.5h0M403.8 204.2h0M409.2 204.8h0M421.9 225.2h0M345.0 262.3h0M346.4 261.7h0M349.1 262.2h0M352.4 261.9h0M396.7 262.5h0M414.7 262.0h0M347.7 264.1h0M349.3 264.0h0M351.9 264.1h0M354.5 264.5h0M391.8 264.6h0M399.7 266.3h0M357.2 269.3h0M393.9 270.0h0M404.3 268.9h0M409.9 270.0h0M401.3 272.2h0M403.7 271.9h0M407.5 271.7h0M401.7 275.4h0M403.9 275.2h0M406.7 274.8h0M407.1 277.8h0M409.2 277.2h0M409.0 280.0h0M420.0 280.0h0M422.4 279.6h0M424.3 279.9h0M429.7 280.2h0M427.4 282.7h0M417.0 288.5h0M427.9 287.9h0M420.2 297.4h0"/><path stroke="#0033ff" d="M404.7 196.4h0M398.9 199.1h0M409.4 200.1h0M399.7 202.0h0M404.3 202.5h0M407.3 204.0h0M403.5 206.6h0M349.0 257.3h0M361.9 256.3h0M352.1 258.7h0M354.6 259.3h0M363.2 259.2h0M357.0 266.9h0M349.1 269.2h0M406.6 269.1h0M411.8 271.6h0M422.7 274.1h0M401.3 276.7h0M420.1 277.3h0M424.3 276.9h0M426.9 278.2h0M424.9 283.0h0M424.7 284.8h0"/><path stroke="#004dff" d="M414.0 194.0h0M395.9 198.9h0M396.9 204.5h0M363.3 250.9h0M347.6 254.2h0M360.8 254.3h0M354.6 256.7h0M357.7 257.2h0M359.8 256.5h0M367.3 264.7h0M401.4 264.7h0M363.1 267.1h0M365.6 267.8h0M407.3 267.0h0"/><path stroke="#0066ff" d="M414.9 184.3h0M414.3 186.4h0M414.6 188.3h0M417.5 189.3h0M411.3 191.4h0M415.2 191.8h0M412.5 194.3h0M420.3 195.0h0M409.7 197.3h0M422.5 196.3h0M393.6 198.7h0M415.1 199.8h0M399.3 205.3h0M393.6 206.5h0M409.1 210.3h0M406.1 211.7h0M414.9 217.2h0M365.1 254.6h0M365.2 256.2h0M367.9 259.6h0M357.8 261.7h0M360.2 262.4h0M364.9 262.6h0M370.8 261.5h0M357.8 264.3h0M365.9 264.2h0"/><path stroke="#0080ff" d="M406.4 183.2h0M416.9 193.5h0M393.1 201.3h0M402.2 204.8h0M402.0 207.1h0M407.4 207.2h0M404.1 210.2h0M417.9 211.9h0M407.1 215.8h0M403.6 216.9h0M419.7 216.9h0M411.9 220.0h0M362.8 254.1h0M369.7 253.9h0M358.2 259.6h0M360.8 259.2h0M365.4 259.6h0M414.0 277.7h0"/><path stroke="#0099ff" d="M409.8 183.9h0M407.5 191.4h0M409.2 194.2h0M393.1 196.5h0M407.1 196.3h0M406.9 199.9h0M420.1 209.0h0M401.4 212.6h0M411.4 212.5h0M419.5 219.5h0M424.9 225.2h0M367.4 261.9h0M410.1 272.7h0M414.2 271.6h0M417.0 274.1h0M416.6 276.9h0"/><path stroke="#00b2ff" d="M414.4 181.8h0M417.7 181.0h0M404.1 183.8h0M412.6 184.1h0M417.5 184.3h0M404.9 185.7h0M407.2 185.7h0M409.6 186.6h0M411.9 186.1h0M416.4 186.8h0M406.5 189.7h0M408.8 189.4h0M412.6 188.2h0M410.2 192.3h0M404.7 193.9h0M407.2 193.9h0M400.9 197.2h0M419.1 196.1h0M402.0 199.2h0M397.0 206.7h0M422.3 220.3h0M417.8 222.3h0M420.4 222.9h0M420.5 262.0h0M417.8 264.7h0M412.0 270.2h0M415.0 269.4h0M417.3 269.7h0M419.9 268.9h0M419.6 274.2h0"/><path stroke="#00ccff" d="M398.8 184.4h0M401.1 188.9h0M404.4 188.9h0M421.9 188.4h0M403.7 192.0h0M422.5 191.3h0M393.8 193.5h0M402.1 194.1h0M424.3 197.5h0M428.0 196.1h0M411.6 215.4h0M411.6 218.0h0M414.5 219.7h0M419.6 224.7h0M427.0 226.1h0M425.3 227.9h0M421.9 235.1h0M372.6 253.9h0M409.2 259.2h0M373.6 264.5h0M398.9 264.7h0M406.9 265.0h0M408.7 264.4h0M370.8 267.7h0M373.3 266.3h0M375.3 266.9h0M389.0 266.6h0M393.4 266.6h0M396.1 266.3h0M415.1 267.5h0M399.7 268.9h0M387.9 271.6h0M416.6 272.2h0M425.2 272.5h0M424.4 274.4h0M428.2 275.3h0M427.9 279.6h0"/><path stroke="#00e5ff" d="M425.7 181.5h0M421.8 185.7h0M430.1 186.8h0M419.4 188.6h0M424.7 188.6h0M427.5 188.4h0M429.6 189.6h0M420.1 191.4h0M424.3 191.9h0M428.1 191.1h0M430.0 192.1h0M423.0 194.3h0M425.0 194.4h0M427.8 194.3h0M396.1 215.3h0M403.5 214.5h0M408.9 214.3h0M407.5 216.9h0M409.1 217.2h0M426.9 228.7h0M414.9 232.5h0M417.8 232.5h0M419.9 232.7h0M414.9 236.5h0M420.0 236.5h0M425.2 236.4h0M414.1 238.7h0M417.8 238.1h0M419.6 238.7h0M421.9 238.8h0M425.5 238.0h0M427.5 238.8h0M417.5 240.4h0M420.2 240.3h0M423.2 240.9h0M425.2 240.7h0M427.6 242.9h0M415.3 246.8h0M419.3 246.3h0M425.3 246.6h0M412.3 248.2h0M414.3 249.1h0M417.8 248.5h0M391.3 251.9h0M404.9 250.8h0M412.6 250.7h0M414.8 252.2h0M417.3 250.9h0M420.0 251.9h0M408.9 253.9h0M411.8 253.8h0M414.6 254.1h0M418.0 254.8h0M419.7 254.0h0M422.5 254.4h0M396.0 257.4h0M398.6 257.4h0M401.4 256.1h0M407.5 256.4h0M409.7 256.6h0M411.8 257.1h0M415.2 257.2h0M370.0 259.2h0M380.1 259.5h0M388.0 259.3h0M391.3 259.5h0M394.2 258.5h0M396.4 258.9h0M398.7 259.5h0M403.4 259.6h0M407.2 258.4h0M412.0 259.7h0M414.5 259.4h0M373.1 262.4h0M375.6 261.4h0M378.4 262.6h0M380.3 261.7h0M393.2 262.2h0M399.4 262.2h0M401.1 261.9h0M403.8 261.8h0M406.6 261.5h0M412.0 261.6h0M417.5 262.0h0M421.9 261.4h0M424.6 262.5h0M378.5 264.8h0M403.6 264.9h0M411.8 264.5h0M414.2 264.2h0M425.4 264.2h0M404.2 266.3h0M408.9 266.8h0M411.8 266.8h0M417.4 267.3h0M419.2 266.8h0M422.3 267.8h0M428.2 267.4h0M422.5 269.7h0M424.7 270.0h0M427.3 270.3h0M419.3 272.7h0M422.5 272.7h0M427.9 271.8h0M429.5 272.1h0M422.2 276.9h0"/><path stroke="#00ffff" d="M419.7 183.8h0M427.4 184.4h0M401.7 225.4h0M407.5 230.0h0M410.0 230.0h0M411.5 230.0h0M410.0 233.7h0M411.4 232.5h0M416.8 235.9h0M428.4 240.4h0M414.2 243.5h0M416.5 243.2h0M429.5 242.8h0M407.0 246.2h0M417.4 246.5h0M422.4 246.8h0M427.0 247.0h0M419.1 248.8h0M422.5 248.1h0M421.7 252.2h0M401.4 254.1h0M404.2 254.2h0M373.8 256.4h0M380.7 256.7h0M417.8 256.9h0M426.8 255.9h0M372.8 258.9h0M378.9 259.0h0M401.8 258.5h0M420.3 258.9h0M391.9 262.0h0M408.7 262.4h0M382.7 264.0h0M387.9 264.4h0"/><path stroke="#1affe5" d="M419.6 180.7h0M421.9 181.0h0M427.3 181.2h0M422.0 183.7h0M425.0 183.9h0M420.5 185.8h0M424.5 186.0h0M427.9 186.6h0M376.2 189.5h0M383.5 188.5h0M386.8 189.3h0M394.2 192.1h0M383.3 199.1h0M399.2 213.1h0M399.3 222.2h0M412.1 235.8h0M409.5 238.4h0M412.1 241.0h0M414.3 240.9h0M409.4 242.8h0M420.6 243.3h0M422.6 243.5h0M424.6 243.2h0M428.2 248.5h0M430.1 248.0h0M425.7 252.1h0M427.2 251.8h0M375.8 254.8h0M384.2 253.6h0M424.4 253.6h0M427.4 254.2h0M374.9 256.5h0M378.3 255.9h0M388.1 256.4h0M419.1 256.0h0M422.9 255.9h0M425.2 256.0h0M382.9 258.6h0M418.0 259.7h0M422.6 258.5h0M424.5 259.9h0M427.1 259.4h0M386.5 262.4h0M428.3 262.4h0M429.6 261.2h0M385.9 264.7h0M419.7 264.8h0M421.7 263.7h0M428.3 264.1h0M425.0 267.7h0"/><path stroke="#33ffcc" d="M407.4 233.0h0M407.6 235.4h0M424.6 248.9h0M386.7 253.8h0M383.9 256.3h0M383.5 261.2h0"/><path stroke="#66ff99" d="M406.1 243.6h0M411.3 243.2h0M409.5 246.4h0M412.2 245.9h0M409.9 249.5h0M408.7 251.6h0M407.6 254.8h0"/><path stroke="#80ff80" d="M404.2 238.5h0M407.3 238.6h0M403.8 240.7h0M406.5 240.6h0M409.0 240.6h0M403.6 243.6h0M396.2 249.5h0M404.0 249.1h0M406.2 248.1h0M399.8 251.8h0M401.2 251.5h0M406.6 251.8h0M397.1 254.5h0"/><path stroke="#99ff66" d="M402.0 236.5h0M398.8 244.1h0"/><path stroke="#b3ff4c" d="M414.4 230.6h0"/><path stroke="#ccff33" d="M412.0 228.3h0M411.3 237.9h0"/><path stroke="#e5ff1a" d="M404.3 226.2h0M407.2 228.7h0M409.2 227.5h0M409.3 235.7h0M400.9 238.8h0M396.4 241.5h0M398.9 241.4h0M401.5 241.6h0M401.2 243.9h0M402.1 245.6h0"/><path stroke="#ffff00" d="M399.2 228.6h0M401.9 228.5h0M404.3 230.3h0M402.2 233.5h0M403.5 233.5h0M393.4 235.7h0M396.6 236.5h0M398.5 235.4h0M389.2 238.7h0M396.7 238.2h0M398.6 239.1h0M394.5 241.1h0M391.8 243.7h0M393.0 243.3h0M396.1 243.4h0M393.7 246.6h0M399.5 246.1h0"/><path stroke="#ffe500" d="M396.2 210.4h0M401.8 230.7h0M398.6 233.2h0M388.7 236.3h0M391.2 235.1h0M393.1 238.0h0"/><path stroke="#ffcc00" d="M400.9 215.6h0M397.2 217.1h0M387.9 220.5h0M394.0 224.6h0M398.7 225.4h0"/><path stroke="#ffb300" d="M359.2 204.6h0M393.8 218.0h0M391.4 220.1h0M390.7 222.1h0M394.6 222.4h0M396.8 222.2h0M389.0 224.9h0M391.1 225.2h0M389.3 227.9h0M404.9 228.5h0M386.5 235.4h0M404.1 235.5h0"/><path stroke="#ff9900" d="M365.2 196.7h0M363.2 202.4h0M396.7 202.1h0M362.4 204.3h0M396.9 220.1h0M396.7 227.3h0M399.2 230.2h0"/><path stroke="#ff8000" d="M365.3 194.1h0M367.3 197.2h0M370.3 196.8h0M361.8 199.3h0M365.7 198.7h0M365.4 202.0h0M364.5 204.3h0M360.5 206.9h0M362.4 207.2h0M365.0 206.4h0M404.4 212.1h0M396.6 225.5h0M390.7 228.1h0M394.2 227.8h0M390.7 230.6h0M394.5 231.3h0M397.2 230.4h0M394.4 232.6h0M395.8 233.9h0"/><path stroke="#ff6600" d="M367.2 200.2h0M368.1 202.1h0M393.5 204.8h0M398.7 207.5h0M401.0 210.2h0"/><path stroke="#ff4c00" d="M370.2 205.4h0M399.0 209.2h0M399.5 215.7h0M393.8 219.7h0"/><path stroke="#ff3300" d="M399.2 197.3h0M397.0 211.6h0M391.7 215.6h0M393.4 215.8h0"/><path stroke="#ff1a00" d="M401.8 186.1h0M372.8 192.0h0M377.7 191.3h0M402.1 191.2h0M368.5 194.0h0M378.4 193.5h0M399.3 194.2h0M395.7 197.4h0M391.8 199.9h0M391.6 202.4h0M387.8 206.7h0M391.9 210.5h0M394.6 210.1h0"/><path stroke="#ff0000" d="M396.4 186.6h0M398.7 186.4h0M381.4 191.6h0M399.4 192.3h0M396.8 193.7h0M372.9 196.2h0M378.3 196.7h0M389.3 201.3h0M391.7 205.3h0M362.6 218.2h0M378.6 238.7h0M380.6 238.1h0M385.7 237.9h0"/><path stroke="#e50000" d="M390.6 186.6h0M393.1 186.8h0M396.2 189.2h0M399.0 189.6h0M391.7 196.5h0M389.4 199.0h0M388.8 204.0h0M391.1 206.9h0M382.9 218.3h0M381.6 225.8h0M384.1 225.3h0M378.5 235.6h0M380.1 235.4h0"/><path stroke="#cc0000" d="M380.6 188.7h0M387.9 189.6h0M391.4 188.4h0M393.9 188.7h0M375.4 190.9h0M390.9 192.1h0M396.4 191.4h0M373.5 194.1h0M388.6 193.8h0M390.5 194.4h0M375.7 197.1h0M388.1 196.6h0M370.3 199.5h0M372.2 199.8h0M380.8 200.1h0M386.3 199.1h0M371.0 201.8h0M372.7 202.0h0M386.7 202.6h0M367.4 204.2h0M370.1 206.5h0M377.7 219.5h0M380.8 219.9h0M378.9 222.4h0M357.4 224.9h0M365.7 225.6h0M367.9 225.0h0M378.1 226.1h0M383.2 227.7h0M386.7 228.4h0M383.8 230.3h0M388.3 229.8h0M370.9 232.8h0M372.4 233.1h0M377.8 233.2h0M381.3 233.0h0M386.7 232.4h0M391.7 232.7h0"/><path stroke="#b30000" d="M384.0 192.3h0M386.6 191.1h0M388.9 191.0h0M376.1 194.3h0M381.0 193.7h0M383.4 194.8h0M386.2 193.8h0M381.4 196.0h0M383.2 197.3h0M386.5 196.3h0M375.7 198.6h0M378.5 199.2h0M374.8 202.0h0M378.9 201.2h0M380.0 202.6h0M382.7 202.4h0M375.3 204.9h0M377.9 205.3h0M383.1 205.0h0M373.6 207.4h0M375.4 206.7h0M377.7 206.7h0M381.2 207.4h0M373.5 209.9h0M375.9 209.5h0M377.6 210.0h0M370.6 212.7h0M372.9 212.8h0M379.0 212.4h0M360.7 215.1h0M362.0 214.4h0M366.0 215.0h0M375.1 214.3h0M367.1 216.8h0M370.2 216.9h0M373.5 218.3h0M375.2 217.9h0M377.6 217.9h0M402.2 217.0h0M364.5 219.5h0M368.1 220.5h0M369.8 220.2h0M372.4 219.5h0M398.3 220.3h0M402.0 219.6h0M406.0 220.9h0M409.2 220.7h0M363.0 223.4h0M368.2 223.2h0M369.7 222.6h0M372.9 223.5h0M404.5 223.1h0M409.4 223.5h0M412.3 223.0h0M413.8 223.5h0M370.2 226.1h0M372.7 226.1h0M376.1 225.2h0M407.2 224.7h0M408.9 225.3h0M417.8 225.1h0M364.4 228.5h0M373.3 228.2h0M378.8 227.5h0M380.7 228.8h0M420.5 228.8h0M368.1 230.9h0M376.3 231.2h0M378.2 230.2h0M380.2 231.0h0M386.2 231.1h0M420.6 230.5h0M422.3 231.3h0M424.7 230.0h0M427.2 230.1h0M422.5 233.7h0M427.8 233.1h0M429.4 232.5h0M427.4 235.9h0"/><path stroke="#990000" d="M375.2 212.9h0M369.9 215.1h0M399.6 217.7h0M404.5 220.5h0M401.8 222.4h0M406.3 222.1h0M411.6 224.8h0M413.9 226.0h0M375.2 228.6h0M415.2 228.6h0M416.5 227.6h0M422.4 227.6h0M417.1 230.1h0M424.3 233.4h0M429.9 235.6h0"/></g><g stroke-width="7" stroke-linecap="round" fill="none"><path stroke="#004dff" d="M364.7 246.0h0"/><path stroke="#0066ff" d="M355.3 225.0h0M370.9 246.3h0"/><path stroke="#0080ff" d="M347.2 212.4h0M350.1 212.1h0M355.2 212.4h0M364.8 211.9h0M354.3 214.3h0M360.8 218.3h0M370.7 248.0h0M368.5 254.5h0"/><path stroke="#0099ff" d="M360.1 212.7h0M362.1 248.6h0M360.1 251.7h0"/><path stroke="#00e5ff" d="M373.3 240.7h0M341.1 251.6h0"/><path stroke="#00ffff" d="M338.6 240.3h0M383.7 241.2h0M352.2 249.2h0"/><path stroke="#1affe5" d="M375.9 235.1h0M367.7 246.0h0M373.1 246.0h0"/><path stroke="#33ffcc" d="M375.5 240.8h0M385.5 246.4h0"/><path stroke="#4dffb2" d="M381.4 246.2h0M390.8 249.1h0"/><path stroke="#80ff80" d="M339.3 236.1h0M342.4 240.8h0M388.6 246.8h0"/><path stroke="#99ff66" d="M375.9 222.7h0M338.9 238.0h0"/><path stroke="#b3ff4c" d="M386.0 220.9h0"/><path stroke="#e5ff1a" d="M367.2 191.8h0"/><path stroke="#ffcc00" d="M354.4 219.8h0M339.8 226.2h0M363.3 224.8h0M337.3 227.6h0M345.0 235.0h0"/><path stroke="#ffb300" d="M352.2 197.4h0M355.0 217.4h0M357.5 219.5h0M354.3 230.6h0"/><path stroke="#ff9900" d="M355.2 202.2h0M355.3 222.4h0M349.0 233.0h0"/><path stroke="#ff8000" d="M356.8 197.0h0M355.3 246.6h0M351.6 256.1h0"/><path stroke="#ff6600" d="M356.7 251.0h0"/><path stroke="#ff3300" d="M368.3 249.4h0"/><path stroke="#ff1a00" d="M385.5 210.4h0M355.0 237.9h0M370.3 256.1h0M376.4 259.4h0"/><path stroke="#ff0000" d="M381.4 209.4h0M367.4 243.6h0"/><path stroke="#e50000" d="M386.0 206.6h0M347.2 210.4h0M346.8 233.1h0"/><path stroke="#cc0000" d="M341.1 215.3h0M347.7 222.4h0"/><path stroke="#b30000" d="M336.8 202.3h0M350.0 201.9h0"/><path stroke="#990000" d="M344.8 217.8h0M351.6 223.3h0M349.8 230.3h0"/><path stroke="#800000" d="M331.6 207.2h0M342.3 222.9h0"/></g><use href="#map"/><text x="217.7" y="75.7" font-size="13" font-weight="bold" fill="#262626" stroke="#262626" stroke-width="0.35" textLength="24.4" lengthAdjust="spacingAndGlyphs">100</text><circle cx="246.7" cy="63.2" r="1.4" fill="none" stroke="#262626" stroke-width="0.85"/><text x="254.5" y="75.7" font-size="13" font-weight="bold" fill="#262626" stroke="#262626" stroke-width="0.35" textLength="12.8" lengthAdjust="spacingAndGlyphs">W</text><text x="286.5" y="75.7" font-size="13" font-weight="bold" fill="#262626" stroke="#262626" stroke-width="0.35" textLength="15.6" lengthAdjust="spacingAndGlyphs">90</text><circle cx="306.7" cy="63.2" r="1.4" fill="none" stroke="#262626" stroke-width="0.85"/><text x="315.3" y="75.7" font-size="13" font-weight="bold" fill="#262626" stroke="#262626" stroke-width="0.35" textLength="12.8" lengthAdjust="spacingAndGlyphs">W</text><text x="350.5" y="75.7" font-size="13" font-weight="bold" fill="#262626" stroke="#262626" stroke-width="0.35" textLength="16.6" lengthAdjust="spacingAndGlyphs">80</text><circle cx="371.7" cy="63.2" r="1.4" fill="none" stroke="#262626" stroke-width="0.85"/><text x="379.3" y="75.7" font-size="13" font-weight="bold" fill="#262626" stroke="#262626" stroke-width="0.35" textLength="13.2" lengthAdjust="spacingAndGlyphs">W</text><text x="413.7" y="75.7" font-size="13" font-weight="bold" fill="#262626" stroke="#262626" stroke-width="0.35" textLength="15.2" lengthAdjust="spacingAndGlyphs">70</text><circle cx="433.7" cy="63.2" r="1.4" fill="none" stroke="#262626" stroke-width="0.85"/><text x="442.3" y="75.7" font-size="13" font-weight="bold" fill="#262626" stroke="#262626" stroke-width="0.35" textLength="13.0" lengthAdjust="spacingAndGlyphs">W</text><text x="146.7" y="112.9" font-size="13" font-weight="bold" fill="#262626" stroke="#262626" stroke-width="0.35" textLength="16.9" lengthAdjust="spacingAndGlyphs">48</text><circle cx="168.0" cy="99.4" r="1.4" fill="none" stroke="#262626" stroke-width="0.85"/><text x="175.5" y="112.9" font-size="13" font-weight="bold" fill="#262626" stroke="#262626" stroke-width="0.35" textLength="9.4" lengthAdjust="spacingAndGlyphs">N</text><text x="146.7" y="130.8" font-size="13" font-weight="bold" fill="#262626" stroke="#262626" stroke-width="0.35" textLength="16.9" lengthAdjust="spacingAndGlyphs">46</text><circle cx="168.0" cy="118.3" r="1.4" fill="none" stroke="#262626" stroke-width="0.85"/><text x="175.5" y="130.8" font-size="13" font-weight="bold" fill="#262626" stroke="#262626" stroke-width="0.35" textLength="9.4" lengthAdjust="spacingAndGlyphs">N</text><text x="146.7" y="148.2" font-size="13" font-weight="bold" fill="#262626" stroke="#262626" stroke-width="0.35" textLength="16.9" lengthAdjust="spacingAndGlyphs">44</text><circle cx="168.0" cy="135.4" r="1.4" fill="none" stroke="#262626" stroke-width="0.85"/><text x="175.5" y="148.2" font-size="13" font-weight="bold" fill="#262626" stroke="#262626" stroke-width="0.35" textLength="9.4" lengthAdjust="spacingAndGlyphs">N</text><text x="146.7" y="166.5" font-size="13" font-weight="bold" fill="#262626" stroke="#262626" stroke-width="0.35" textLength="16.9" lengthAdjust="spacingAndGlyphs">42</text><circle cx="168.0" cy="153.2" r="1.4" fill="none" stroke="#262626" stroke-width="0.85"/><text x="175.5" y="166.5" font-size="13" font-weight="bold" fill="#262626" stroke="#262626" stroke-width="0.35" textLength="9.4" lengthAdjust="spacingAndGlyphs">N</text><text x="146.7" y="183.2" font-size="13" font-weight="bold" fill="#262626" stroke="#262626" stroke-width="0.35" textLength="16.9" lengthAdjust="spacingAndGlyphs">40</text><circle cx="168.0" cy="170.3" r="1.4" fill="none" stroke="#262626" stroke-width="0.85"/><text x="175.5" y="183.2" font-size="13" font-weight="bold" fill="#262626" stroke="#262626" stroke-width="0.35" textLength="9.4" lengthAdjust="spacingAndGlyphs">N</text><text x="146.7" y="198.3" font-size="13" font-weight="bold" fill="#262626" stroke="#262626" stroke-width="0.35" textLength="16.9" lengthAdjust="spacingAndGlyphs">38</text><circle cx="168.0" cy="185.5" r="1.4" fill="none" stroke="#262626" stroke-width="0.85"/><text x="175.5" y="198.3" font-size="13" font-weight="bold" fill="#262626" stroke="#262626" stroke-width="0.35" textLength="9.4" lengthAdjust="spacingAndGlyphs">N</text><text x="146.7" y="215.5" font-size="13" font-weight="bold" fill="#262626" stroke="#262626" stroke-width="0.35" textLength="16.9" lengthAdjust="spacingAndGlyphs">36</text><circle cx="168.0" cy="201.5" r="1.4" fill="none" stroke="#262626" stroke-width="0.85"/><text x="175.5" y="215.5" font-size="13" font-weight="bold" fill="#262626" stroke="#262626" stroke-width="0.35" textLength="9.4" lengthAdjust="spacingAndGlyphs">N</text><text x="146.7" y="229.1" font-size="13" font-weight="bold" fill="#262626" stroke="#262626" stroke-width="0.35" textLength="16.9" lengthAdjust="spacingAndGlyphs">34</text><circle cx="168.0" cy="216.2" r="1.4" fill="none" stroke="#262626" stroke-width="0.85"/><text x="175.5" y="229.1" font-size="13" font-weight="bold" fill="#262626" stroke="#262626" stroke-width="0.35" textLength="9.4" lengthAdjust="spacingAndGlyphs">N</text><text x="146.7" y="245.8" font-size="13" font-weight="bold" fill="#262626" stroke="#262626" stroke-width="0.35" textLength="16.9" lengthAdjust="spacingAndGlyphs">32</text><circle cx="168.0" cy="233.2" r="1.4" fill="none" stroke="#262626" stroke-width="0.85"/><text x="175.5" y="245.8" font-size="13" font-weight="bold" fill="#262626" stroke="#262626" stroke-width="0.35" textLength="9.4" lengthAdjust="spacingAndGlyphs">N</text><text x="146.7" y="260.0" font-size="13" font-weight="bold" fill="#262626" stroke="#262626" stroke-width="0.35" textLength="16.9" lengthAdjust="spacingAndGlyphs">30</text><circle cx="168.0" cy="247.3" r="1.4" fill="none" stroke="#262626" stroke-width="0.85"/><text x="175.5" y="260.0" font-size="13" font-weight="bold" fill="#262626" stroke="#262626" stroke-width="0.35" textLength="9.4" lengthAdjust="spacingAndGlyphs">N</text><text x="146.7" y="273.7" font-size="13" font-weight="bold" fill="#262626" stroke="#262626" stroke-width="0.35" textLength="16.9" lengthAdjust="spacingAndGlyphs">28</text><circle cx="168.0" cy="260.5" r="1.4" fill="none" stroke="#262626" stroke-width="0.85"/><text x="175.5" y="273.7" font-size="13" font-weight="bold" fill="#262626" stroke="#262626" stroke-width="0.35" textLength="9.4" lengthAdjust="spacingAndGlyphs">N</text><text x="146.7" y="287.7" font-size="13" font-weight="bold" fill="#262626" stroke="#262626" stroke-width="0.35" textLength="16.9" lengthAdjust="spacingAndGlyphs">26</text><circle cx="168.0" cy="274.1" r="1.4" fill="none" stroke="#262626" stroke-width="0.85"/><text x="175.5" y="287.7" font-size="13" font-weight="bold" fill="#262626" stroke="#262626" stroke-width="0.35" textLength="9.4" lengthAdjust="spacingAndGlyphs">N</text><text x="146.7" y="301.1" font-size="13" font-weight="bold" fill="#262626" stroke="#262626" stroke-width="0.35" textLength="16.9" lengthAdjust="spacingAndGlyphs">24</text><circle cx="168.0" cy="288.9" r="1.4" fill="none" stroke="#262626" stroke-width="0.85"/><text x="175.5" y="301.1" font-size="13" font-weight="bold" fill="#262626" stroke="#262626" stroke-width="0.35" textLength="9.4" lengthAdjust="spacingAndGlyphs">N</text><text x="146.7" y="314.8" font-size="13" font-weight="bold" fill="#262626" stroke="#262626" stroke-width="0.35" textLength="16.9" lengthAdjust="spacingAndGlyphs">22</text><circle cx="168.0" cy="301.1" r="1.4" fill="none" stroke="#262626" stroke-width="0.85"/><text x="175.5" y="314.8" font-size="13" font-weight="bold" fill="#262626" stroke="#262626" stroke-width="0.35" textLength="9.4" lengthAdjust="spacingAndGlyphs">N</text></g><g transform="translate(1.8,0)"><rect x="441.2" y="95.2" width="23.6" height="215" fill="url(#jet)" stroke="#262626" stroke-width="0.8"/><line x1="462.5" y1="202.7" x2="464.8" y2="202.7" stroke="#262626" stroke-width="0.8"/><text x="473.9" y="103.3" font-size="22" font-weight="bold" fill="#262626" stroke="#262626" stroke-width="0.45" textLength="42.5" lengthAdjust="spacingAndGlyphs">100</text><text x="474.0" y="210.3" font-size="22" font-weight="bold" fill="#262626" stroke="#262626" stroke-width="0.45" textLength="27.0" lengthAdjust="spacingAndGlyphs">50</text><text x="474.0" y="317.9" font-size="22" font-weight="bold" fill="#262626" stroke="#262626" stroke-width="0.45" textLength="13.0" lengthAdjust="spacingAndGlyphs">0</text></g><text x="140.8" y="341.7" font-size="23" font-weight="bold" fill="#262626" stroke="#262626" stroke-width="0.45" textLength="333.6" lengthAdjust="spacingAndGlyphs">SAT 400 hPa RH (Percent)</text></g></svg></body></html>
